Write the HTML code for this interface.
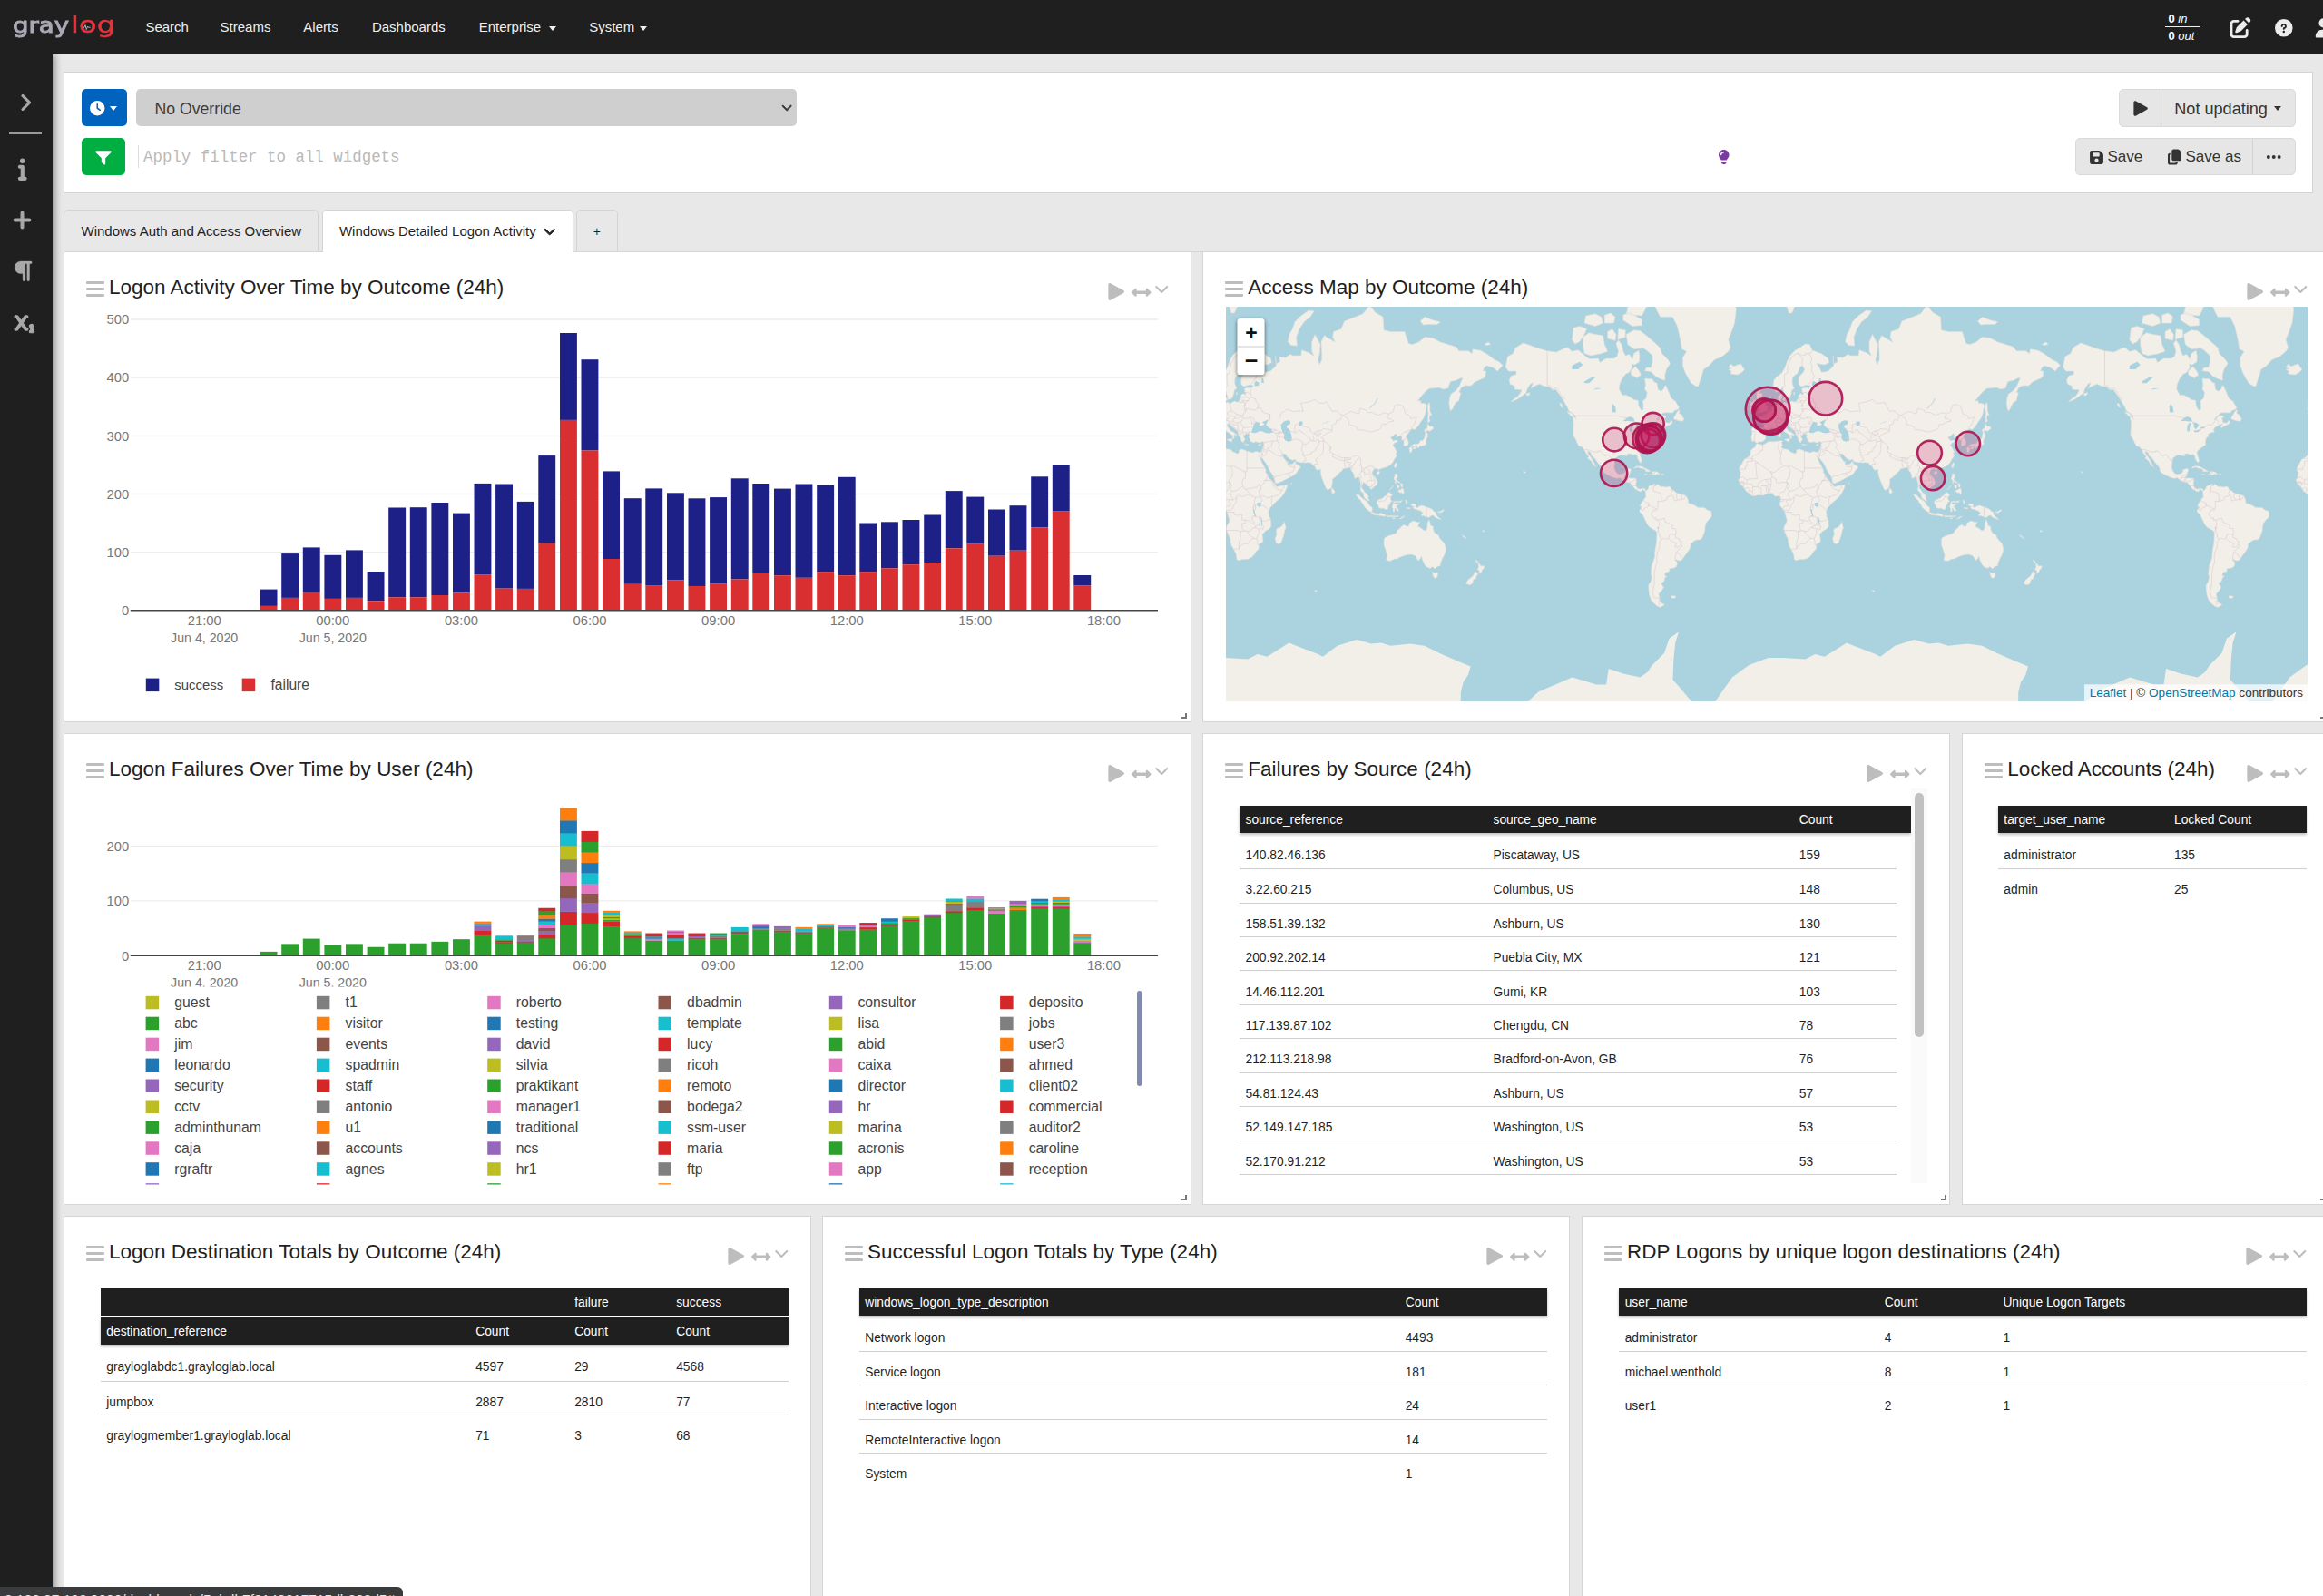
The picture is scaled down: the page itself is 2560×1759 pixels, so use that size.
<!DOCTYPE html><html lang="en"><head><meta charset="utf-8"><title>Windows Detailed Logon Activity - Graylog</title><style>
*{box-sizing:border-box;margin:0;padding:0}
html,body{width:2560px;height:1759px;overflow:hidden;background:#e8e8e8;font-family:"Liberation Sans",sans-serif;color:#1f1f1f}
.abs{position:absolute}
.ic{position:absolute;display:block;overflow:visible}
#nav{position:absolute;left:0;top:0;width:2560px;height:60px;background:#1f1f1f;z-index:30}
#side{position:absolute;left:0;top:60px;width:58px;height:1699px;background:#1f1f1f;z-index:20;box-shadow:3px 0 7px rgba(0,0,0,.36)}
.navl{position:absolute;top:0;height:60px;line-height:60px;color:#f0f0f0;font-size:15px;white-space:nowrap}
.panel{position:absolute;background:#fff;border:1px solid #d4d4d4}
.w{position:absolute;background:#fff;border:1px solid #d6d6d6}
.wt{position:absolute;font-size:22.5px;line-height:30px;white-space:nowrap;color:#1f1f1f}
.tab{position:absolute;top:230.8px;height:47px;line-height:46.5px;font-size:15px;white-space:nowrap;border:1px solid #d4d4d4;border-bottom:none;border-radius:5px 5px 0 0;color:#1f1f1f;background:#e8e8e8}
.th{position:absolute;background:#1f1f1f;color:#fff;font-size:13.8px;white-space:nowrap;box-shadow:0 2px 3px rgba(0,0,0,.25)}
.th span,.tr span{position:absolute;top:0}
.tr{position:absolute;font-size:13.8px;white-space:nowrap;color:#1f1f1f;border-bottom:1px solid #cfcfcf}
.btn{position:absolute;background:#e6e6e6;border:1px solid #d9d9d9;border-radius:5px;color:#2b2b2b;font-size:18px;white-space:nowrap}
svg text{font-family:"Liberation Sans",sans-serif}
</style></head><body>
<div id="nav">
<div class="abs" style="left:14.2px;top:5.2px;height:46px;line-height:46px;font-family:'DejaVu Sans','Liberation Sans',sans-serif;font-size:23px;-webkit-text-stroke:0.9px #a9a9b7;color:#a9a9b7;white-space:nowrap;transform-origin:left center;transform:scaleX(1.2)">gray</div>
<div class="abs" style="left:77.6px;top:4.6px;height:46px;line-height:46px;font-family:'DejaVu Sans','Liberation Sans',sans-serif;font-size:24.5px;-webkit-text-stroke:0.45px #e8323c;letter-spacing:0.2px;color:#e8323c;white-space:nowrap;transform-origin:left center;transform:scaleX(1.3)">log</div>
<svg class="ic" style="left:90.6px;top:25.9px;width:9px;height:8px" viewBox="0 0 9 8"><path d="M0 4.2h2l1-2.6 1.3 5 1.2-3.6.8 1.2h2.4" fill="none" stroke="#b8b8c2" stroke-width="0.9"/></svg>
<div class="navl" style="left:160.4px">Search</div>
<div class="navl" style="left:242.6px">Streams</div>
<div class="navl" style="left:334.3px">Alerts</div>
<div class="navl" style="left:409.9px">Dashboards</div>
<div class="navl" style="left:527.7px">Enterprise</div>
<div class="navl" style="left:649.2px">System</div>
<div class="abs" style="left:604.5px;top:28.5px;width:0;height:0;border-left:4.5px solid transparent;border-right:4.5px solid transparent;border-top:5px solid #f0f0f0"></div>
<div class="abs" style="left:705.0px;top:28.5px;width:0;height:0;border-left:4.5px solid transparent;border-right:4.5px solid transparent;border-top:5px solid #f0f0f0"></div>
<div class="abs" style="left:2386px;top:13px;width:39px;height:34px;color:#fff;font-size:13px;line-height:16px;white-space:nowrap"><div class="abs" style="left:3.5px;top:0"><b>0</b> <i>in</i></div><div class="abs" style="left:0;top:16px;width:39px;height:1.3px;background:#eee"></div><div class="abs" style="left:3.5px;top:18.5px"><b>0</b> <i>out</i></div></div>
<svg class="ic" style="left:2456px;top:18.5px;width:26px;height:23px;" viewBox="0 0 512 512" preserveAspectRatio="xMidYMid meet"><path fill="#ececec" d="M471.6 21.7c-21.9-21.9-57.3-21.9-79.2 0L368 46.1l97.9 97.9 24.4-24.4c21.9-21.9 21.9-57.3 0-79.2zm-299.2 220c-6.1 6.1-10.8 13.6-13.5 21.9l-29.6 88.8c-2.9 8.6-.6 18.1 5.8 24.6s15.9 8.7 24.6 5.8l88.8-29.6c8.2-2.7 15.7-7.4 21.9-13.5L432 177.9 334.1 80zM96 64c-53 0-96 43-96 96v256c0 53 43 96 96 96h256c53 0 96-43 96-96v-96c0-17.7-14.3-32-32-32s-32 14.3-32 32v96c0 17.7-14.3 32-32 32H96c-17.7 0-32-14.3-32-32V160c0-17.7 14.3-32 32-32h96c17.7 0 32-14.3 32-32s-14.3-32-32-32z"/></svg>
<svg class="ic" style="left:2506.6px;top:20.6px;width:19.6px;height:19.6px;" viewBox="0 0 512 512" preserveAspectRatio="xMidYMid meet"><path fill="#ececec" d="M256 512a256 256 0 1 0 0-512 256 256 0 1 0 0 512m0-336c-17.7 0-32 14.3-32 32 0 13.3-10.7 24-24 24s-24-10.7-24-24c0-44.2 35.8-80 80-80s80 35.8 80 80c0 47.2-36 67.2-56 74.5v3.8c0 13.3-10.7 24-24 24s-24-10.7-24-24v-8.1c0-20.5 14.8-35.2 30.1-40.2 6.4-2.1 13.2-5.5 18.2-10.3 4.3-4.2 7.7-10 7.7-19.6 0-17.7-14.3-32-32-32zm-32 192a32 32 0 1 1 64 0 32 32 0 1 1-64 0"/></svg>
<svg class="ic" style="left:2549.5px;top:19.5px;width:21px;height:21.5px;" viewBox="0 0 448 512" preserveAspectRatio="xMidYMid meet"><path fill="#ececec" d="M224 248a120 120 0 1 0 0-240 120 120 0 1 0 0 240m-29.7 56C95.8 304 16 383.8 16 482.3c0 16.4 13.3 29.7 29.7 29.7h356.6c16.4 0 29.7-13.3 29.7-29.7 0-98.5-79.8-178.3-178.3-178.3z"/></svg>
</div>
<div id="side">
<svg class="ic" style="left:21px;top:42.6px;width:13px;height:20px;" viewBox="0 0 320 512" preserveAspectRatio="xMidYMid meet"><path fill="#a8a8a8" stroke="#a8a8a8" stroke-width="22" stroke-linejoin="round" d="M311.1 233.4c12.5 12.5 12.5 32.8 0 45.3l-192 192c-12.5 12.5-32.8 12.5-45.3 0s-12.5-32.8 0-45.3L243.2 256 73.9 86.6c-12.5-12.5-12.5-32.8 0-45.3s32.8-12.5 45.3 0l192 192z"/></svg>
<div class="abs" style="left:9.5px;top:86px;width:36px;height:1.5px;background:#9a9a9a"></div>
<svg class="ic" style="left:20px;top:115.3px;width:9.5px;height:23.3px;" viewBox="0 0 192 512" preserveAspectRatio="xMidYMid meet"><path fill="#a8a8a8" stroke="#a8a8a8" stroke-width="26" stroke-linejoin="round" d="M48 48a48 48 0 1 1 96 0 48 48 0 1 1-96 0M0 192c0-17.7 14.3-32 32-32h64c17.7 0 32 14.3 32 32v256h32c17.7 0 32 14.3 32 32s-14.3 32-32 32H32c-17.7 0-32-14.3-32-32s14.3-32 32-32h32V224H32c-17.7 0-32-14.3-32-32"/></svg>
<svg class="ic" style="left:14px;top:172.4px;width:21px;height:21px;" viewBox="0 0 448 512" preserveAspectRatio="xMidYMid meet"><path fill="#a8a8a8" stroke="#a8a8a8" stroke-width="34" stroke-linejoin="round" d="M256 64c0-17.7-14.3-32-32-32s-32 14.3-32 32v160H32c-17.7 0-32 14.3-32 32s14.3 32 32 32h160v160c0 17.7 14.3 32 32 32s32-14.3 32-32V288h160c17.7 0 32-14.3 32-32s-14.3-32-32-32H256z"/></svg>
<svg class="ic" style="left:15.5px;top:227.6px;width:19.5px;height:21.8px;" viewBox="0 0 448 512" preserveAspectRatio="xMidYMid meet"><path fill="#a8a8a8" stroke="#a8a8a8" stroke-width="8" stroke-linejoin="round" d="M160 0h256c17.7 0 32 14.3 32 32s-14.3 32-32 32h-32v416c0 17.7-14.3 32-32 32s-32-14.3-32-32V64h-48v416c0 17.7-14.3 32-32 32s-32-14.3-32-32V320h-48C71.6 320 0 248.4 0 160S71.6 0 160 0"/></svg>
<svg class="ic" style="left:12.5px;top:284.5px;width:25px;height:21.8px;" viewBox="0 0 576 512" preserveAspectRatio="xMidYMid meet"><path fill="#a8a8a8" stroke="#a8a8a8" stroke-width="26" stroke-linejoin="round" d="M96 64c-17.7 0-32 14.3-32 32s14.3 32 32 32h15.3l89.6 128-89.6 128H96c-17.7 0-32 14.3-32 32s14.3 32 32 32h32c10.4 0 20.2-5.1 26.2-13.6L240 311.8l85.8 122.6c6 8.6 15.8 13.6 26.2 13.6h32c17.7 0 32-14.3 32-32s-14.3-32-32-32h-15.3l-89.6-128 89.6-128H384c17.7 0 32-14.3 32-32s-14.3-32-32-32h-32c-10.4 0-20.2 5.1-26.2 13.6L240 200.2 154.2 77.6c-6-8.5-15.8-13.6-26.2-13.6zm448 256c0-11.1-5.7-21.4-15.2-27.2s-21.2-6.4-31.1-1.4l-32 16c-15.8 7.9-22.2 27.1-14.3 42.9C457 361.5 468.3 368 480 368v80c-17.7 0-32 14.3-32 32s14.3 32 32 32h64c17.7 0 32-14.3 32-32s-14.3-32-32-32z"/></svg>
</div>
<div class="panel" style="left:70px;top:79.3px;width:2479px;height:133.7px"></div>
<div class="abs" style="left:89.5px;top:98px;width:50.5px;height:40.5px;background:#0063be;border-radius:5px"></div>
<svg class="ic" style="left:99px;top:110.5px;width:16.5px;height:16.5px;" viewBox="0 0 512 512" preserveAspectRatio="xMidYMid meet"><path fill="#fff" d="M256 0a256 256 0 1 1 0 512 256 256 0 1 1 0-512m-24 120v136c0 8 4 15.5 10.7 20l96 64c11 7.4 25.9 4.4 33.3-6.7s4.4-25.9-6.7-33.3L280 243.2V120c0-13.3-10.7-24-24-24s-24 10.7-24 24"/></svg>
<div class="abs" style="left:121px;top:116.5px;width:0;height:0;border-left:4.5px solid transparent;border-right:4.5px solid transparent;border-top:5px solid #fff"></div>
<div class="abs" style="left:150px;top:98px;width:728px;height:40.5px;background:#cfcfcf;border-radius:5px;font-size:17.7px;line-height:44.5px;color:#3c3c3c;padding-left:20.4px">No Override</div>
<svg class="ic" style="left:862.2px;top:111.5px;width:10.3px;height:12.5px;" viewBox="0 0 448 512" preserveAspectRatio="xMidYMid meet"><path fill="#3a3a3a" stroke="#3a3a3a" stroke-width="34" stroke-linejoin="round" d="M201.4 406.6c12.5 12.5 32.8 12.5 45.3 0l192-192c12.5-12.5 12.5-32.8 0-45.3s-32.8-12.5-45.3 0L224 338.7 54.6 169.4c-12.5-12.5-32.8-12.5-45.3 0s-12.5 32.8 0 45.3l192 192z"/></svg>
<div class="abs" style="left:89.5px;top:152px;width:48px;height:41px;background:#00ae42;border-radius:5px"></div>
<svg class="ic" style="left:104.5px;top:164px;width:18px;height:17.5px;" viewBox="0 0 512 512" preserveAspectRatio="xMidYMid meet"><path fill="#fff" d="M32 64C19.1 64 7.4 71.8 2.4 83.8s-2.2 25.7 7 34.8L192 301.3V416c0 8.5 3.4 16.6 9.4 22.6l64 64c9.2 9.2 22.9 11.9 34.9 6.9S320 492.9 320 480V301.3l182.6-182.6c9.2-9.2 11.9-22.9 6.9-34.9S492.9 64 480 64z"/></svg>
<div class="abs" style="left:151.6px;top:160px;width:1.2px;height:25px;background:#ddd"></div>
<div class="abs" style="left:158px;top:158px;height:30px;line-height:30px;font-family:'Liberation Mono',monospace;font-size:17.45px;color:#b9b9b9;white-space:nowrap">Apply filter to all widgets</div>
<svg class="ic" style="left:1894px;top:165px;width:11.5px;height:15.5px;" viewBox="0 0 384 512" preserveAspectRatio="xMidYMid meet"><path fill="#7b3aa0" d="M292.9 384c7.3-22.3 21.9-42.5 38.4-59.9C364 289.7 384 243.2 384 192 384 86 298 0 192 0S0 86 0 192c0 51.2 20 97.7 52.7 132.1 16.5 17.4 31.2 37.6 38.4 59.9h201.7zm-4.9 48H96v16c0 44.2 35.8 80 80 80h32c44.2 0 80-35.8 80-80zM184 112c-39.8 0-72 32.2-72 72 0 13.3-10.7 24-24 24s-24-10.7-24-24c0-66.3 53.7-120 120-120 13.3 0 24 10.7 24 24s-10.7 24-24 24"/></svg>
<div class="btn" style="left:2335px;top:98px;width:195px;height:41.5px"></div>
<div class="abs" style="left:2380.5px;top:99px;width:1px;height:39.5px;background:#d2d2d2"></div>
<svg class="ic" style="left:2349.5px;top:109.5px;width:17px;height:19px;" viewBox="0 0 448 512" preserveAspectRatio="xMidYMid meet"><path fill="#333" d="M91.2 36.9c-12.4-6.8-27.4-6.5-39.6.7S32 57.9 32 72v368c0 14.1 7.5 27.2 19.6 34.4s27.2 7.5 39.6.7l336-184c12.8-7 20.8-20.5 20.8-35.1s-8-28.1-20.8-35.1z"/></svg>
<div class="abs" style="left:2396.3px;top:98px;height:41.5px;line-height:44.5px;font-size:18.1px;color:#333;white-space:nowrap">Not updating</div>
<div class="abs" style="left:2505.5px;top:117px;width:0;height:0;border-left:4.5px solid transparent;border-right:4.5px solid transparent;border-top:5px solid #333"></div>
<div class="btn" style="left:2287px;top:152px;width:243px;height:41px"></div>
<div class="abs" style="left:2482px;top:153px;width:1px;height:39px;background:#d2d2d2"></div>
<svg class="ic" style="left:2302.5px;top:164.5px;width:15px;height:17px;" viewBox="0 0 448 512" preserveAspectRatio="xMidYMid meet"><path fill="#333" d="M64 32C28.7 32 0 60.7 0 96v320c0 35.3 28.7 64 64 64h320c35.3 0 64-28.7 64-64V173.3c0-17-6.7-33.3-18.7-45.3L352 50.7c-12-12-28.3-18.7-45.3-18.7zm32 96c0-17.7 14.3-32 32-32h160c17.7 0 32 14.3 32 32v64c0 17.7-14.3 32-32 32H128c-17.7 0-32-14.3-32-32zm128 160a64 64 0 1 1 0 128 64 64 0 1 1 0-128"/></svg>
<div class="abs" style="left:2322.5px;top:152px;height:41px;line-height:41.5px;font-size:17px;color:#333;white-space:nowrap">Save</div>
<svg class="ic" style="left:2389px;top:163.5px;width:15px;height:18px;" viewBox="0 0 448 512" preserveAspectRatio="xMidYMid meet"><path fill="#333" d="M192 0c-35.3 0-64 28.7-64 64v256c0 35.3 28.7 64 64 64h192c35.3 0 64-28.7 64-64V119.4c0-17.4-7.1-34.1-19.7-46.2l-57.7-55.4A64.1 64.1 0 0 0 326.3 0zM64 128c-35.3 0-64 28.7-64 64v256c0 35.3 28.7 64 64 64h192c35.3 0 64-28.7 64-64v-16h-64v16H64V192h16v-64z"/></svg>
<div class="abs" style="left:2408.5px;top:152px;height:41px;line-height:41.5px;font-size:17px;color:#333;white-space:nowrap">Save as</div>
<svg class="ic" style="left:2496.5px;top:163.5px;width:17.5px;height:18px;" viewBox="0 0 448 512" preserveAspectRatio="xMidYMid meet"><path fill="#333" d="M0 256a56 56 0 1 1 112 0 56 56 0 1 1-112 0m168 0a56 56 0 1 1 112 0 56 56 0 1 1-112 0m224-56a56 56 0 1 1 0 112 56 56 0 1 1 0-112"/></svg>
<div class="abs" style="left:70.5px;top:277px;width:2490px;height:1px;background:#d4d4d4"></div>
<div class="tab" style="left:70px;width:281px;padding-left:18.5px">Windows Auth and Access Overview</div>
<div class="tab" style="left:354.5px;width:277px;padding-left:18.4px;background:#fff;height:47.2px;z-index:5">Windows Detailed Logon Activity</div>
<svg class="ic" style="left:600.3px;top:247.8px;width:11.5px;height:13.5px;z-index:6;" viewBox="0 0 448 512" preserveAspectRatio="xMidYMid meet"><path fill="#222" stroke="#222" stroke-width="38" stroke-linejoin="round" d="M201.4 406.6c12.5 12.5 32.8 12.5 45.3 0l192-192c12.5-12.5 12.5-32.8 0-45.3s-32.8-12.5-45.3 0L224 338.7 54.6 169.4c-12.5-12.5-32.8-12.5-45.3 0s-12.5 32.8 0 45.3l192 192z"/></svg>
<div class="tab" style="left:634.5px;width:46.5px;text-align:center;font-size:14px">+</div>
<div class="w" style="left:70px;top:276.8px;width:1243px;height:519.2px"></div>
<div class="abs" style="left:95px;top:309.8px;width:19.5px;height:2.8px;background:#bdbdbd;border-radius:1px"></div>
<div class="abs" style="left:95px;top:316.8px;width:19.5px;height:2.8px;background:#bdbdbd;border-radius:1px"></div>
<div class="abs" style="left:95px;top:323.8px;width:19.5px;height:2.8px;background:#bdbdbd;border-radius:1px"></div>
<div class="wt" style="left:120px;top:302.0px">Logon Activity Over Time by Outcome (24h)</div>
<svg class="ic" style="left:1219.5px;top:310.1px;width:19px;height:23px;" viewBox="0 0 448 512" preserveAspectRatio="xMidYMid meet"><path fill="#bdbdbd" d="M91.2 36.9c-12.4-6.8-27.4-6.5-39.6.7S32 57.9 32 72v368c0 14.1 7.5 27.2 19.6 34.4s27.2 7.5 39.6.7l336-184c12.8-7 20.8-20.5 20.8-35.1s-8-28.1-20.8-35.1z"/></svg>
<svg class="ic" style="left:1246.6px;top:311.0px;width:21.5px;height:22.5px;" viewBox="0 0 512 512" preserveAspectRatio="xMidYMid meet"><path fill="#bdbdbd" d="M377.941 169.941V216H134.059v-46.059c0-21.382-25.851-32.09-40.971-16.971L7.029 239.029c-9.373 9.373-9.373 24.568 0 33.941l86.059 86.059c15.119 15.119 40.971 4.411 40.971-16.971V296h243.882v46.059c0 21.382 25.851 32.09 40.971 16.971l86.059-86.059c9.373-9.373 9.373-24.568 0-33.941l-86.059-86.059c-15.119-15.12-40.971-4.412-40.971 16.97z"/></svg>
<svg class="ic" style="left:1272.5px;top:310.1px;width:14.5px;height:16px;" viewBox="0 0 448 512" preserveAspectRatio="xMidYMid meet"><path fill="#bdbdbd" d="M201.4 406.6c12.5 12.5 32.8 12.5 45.3 0l192-192c12.5-12.5 12.5-32.8 0-45.3s-32.8-12.5-45.3 0L224 338.7 54.6 169.4c-12.5-12.5-32.8-12.5-45.3 0s-12.5 32.8 0 45.3l192 192z"/></svg>
<div class="abs" style="left:1302px;top:785.5px;width:6px;height:6px;border-right:2px solid #777;border-bottom:2px solid #777"></div>
<div class="w" style="left:1325.3px;top:276.8px;width:1243px;height:519.2px"></div>
<div class="abs" style="left:1350.3px;top:309.8px;width:19.5px;height:2.8px;background:#bdbdbd;border-radius:1px"></div>
<div class="abs" style="left:1350.3px;top:316.8px;width:19.5px;height:2.8px;background:#bdbdbd;border-radius:1px"></div>
<div class="abs" style="left:1350.3px;top:323.8px;width:19.5px;height:2.8px;background:#bdbdbd;border-radius:1px"></div>
<div class="wt" style="left:1375.3px;top:302.0px">Access Map by Outcome (24h)</div>
<svg class="ic" style="left:2474.8px;top:310.1px;width:19px;height:23px;" viewBox="0 0 448 512" preserveAspectRatio="xMidYMid meet"><path fill="#bdbdbd" d="M91.2 36.9c-12.4-6.8-27.4-6.5-39.6.7S32 57.9 32 72v368c0 14.1 7.5 27.2 19.6 34.4s27.2 7.5 39.6.7l336-184c12.8-7 20.8-20.5 20.8-35.1s-8-28.1-20.8-35.1z"/></svg>
<svg class="ic" style="left:2501.9px;top:311.0px;width:21.5px;height:22.5px;" viewBox="0 0 512 512" preserveAspectRatio="xMidYMid meet"><path fill="#bdbdbd" d="M377.941 169.941V216H134.059v-46.059c0-21.382-25.851-32.09-40.971-16.971L7.029 239.029c-9.373 9.373-9.373 24.568 0 33.941l86.059 86.059c15.119 15.119 40.971 4.411 40.971-16.971V296h243.882v46.059c0 21.382 25.851 32.09 40.971 16.971l86.059-86.059c9.373-9.373 9.373-24.568 0-33.941l-86.059-86.059c-15.119-15.12-40.971-4.412-40.971 16.97z"/></svg>
<svg class="ic" style="left:2527.8px;top:310.1px;width:14.5px;height:16px;" viewBox="0 0 448 512" preserveAspectRatio="xMidYMid meet"><path fill="#bdbdbd" d="M201.4 406.6c12.5 12.5 32.8 12.5 45.3 0l192-192c12.5-12.5 12.5-32.8 0-45.3s-32.8-12.5-45.3 0L224 338.7 54.6 169.4c-12.5-12.5-32.8-12.5-45.3 0s-12.5 32.8 0 45.3l192 192z"/></svg>
<div class="abs" style="left:2557.3px;top:785.5px;width:6px;height:6px;border-right:2px solid #777;border-bottom:2px solid #777"></div>
<div class="w" style="left:70px;top:808px;width:1243px;height:519.8px"></div>
<div class="abs" style="left:95px;top:841px;width:19.5px;height:2.8px;background:#bdbdbd;border-radius:1px"></div>
<div class="abs" style="left:95px;top:848px;width:19.5px;height:2.8px;background:#bdbdbd;border-radius:1px"></div>
<div class="abs" style="left:95px;top:855px;width:19.5px;height:2.8px;background:#bdbdbd;border-radius:1px"></div>
<div class="wt" style="left:120px;top:833.2px">Logon Failures Over Time by User (24h)</div>
<svg class="ic" style="left:1219.5px;top:841.3px;width:19px;height:23px;" viewBox="0 0 448 512" preserveAspectRatio="xMidYMid meet"><path fill="#bdbdbd" d="M91.2 36.9c-12.4-6.8-27.4-6.5-39.6.7S32 57.9 32 72v368c0 14.1 7.5 27.2 19.6 34.4s27.2 7.5 39.6.7l336-184c12.8-7 20.8-20.5 20.8-35.1s-8-28.1-20.8-35.1z"/></svg>
<svg class="ic" style="left:1246.6px;top:842.2px;width:21.5px;height:22.5px;" viewBox="0 0 512 512" preserveAspectRatio="xMidYMid meet"><path fill="#bdbdbd" d="M377.941 169.941V216H134.059v-46.059c0-21.382-25.851-32.09-40.971-16.971L7.029 239.029c-9.373 9.373-9.373 24.568 0 33.941l86.059 86.059c15.119 15.119 40.971 4.411 40.971-16.971V296h243.882v46.059c0 21.382 25.851 32.09 40.971 16.971l86.059-86.059c9.373-9.373 9.373-24.568 0-33.941l-86.059-86.059c-15.119-15.12-40.971-4.412-40.971 16.97z"/></svg>
<svg class="ic" style="left:1272.5px;top:841.3px;width:14.5px;height:16px;" viewBox="0 0 448 512" preserveAspectRatio="xMidYMid meet"><path fill="#bdbdbd" d="M201.4 406.6c12.5 12.5 32.8 12.5 45.3 0l192-192c12.5-12.5 12.5-32.8 0-45.3s-32.8-12.5-45.3 0L224 338.7 54.6 169.4c-12.5-12.5-32.8-12.5-45.3 0s-12.5 32.8 0 45.3l192 192z"/></svg>
<div class="abs" style="left:1302px;top:1317.3px;width:6px;height:6px;border-right:2px solid #777;border-bottom:2px solid #777"></div>
<div class="w" style="left:1325.3px;top:808px;width:824.2px;height:519.8px"></div>
<div class="abs" style="left:1350.3px;top:841px;width:19.5px;height:2.8px;background:#bdbdbd;border-radius:1px"></div>
<div class="abs" style="left:1350.3px;top:848px;width:19.5px;height:2.8px;background:#bdbdbd;border-radius:1px"></div>
<div class="abs" style="left:1350.3px;top:855px;width:19.5px;height:2.8px;background:#bdbdbd;border-radius:1px"></div>
<div class="wt" style="left:1375.3px;top:833.2px">Failures by Source (24h)</div>
<svg class="ic" style="left:2056.0px;top:841.3px;width:19px;height:23px;" viewBox="0 0 448 512" preserveAspectRatio="xMidYMid meet"><path fill="#bdbdbd" d="M91.2 36.9c-12.4-6.8-27.4-6.5-39.6.7S32 57.9 32 72v368c0 14.1 7.5 27.2 19.6 34.4s27.2 7.5 39.6.7l336-184c12.8-7 20.8-20.5 20.8-35.1s-8-28.1-20.8-35.1z"/></svg>
<svg class="ic" style="left:2083.1px;top:842.2px;width:21.5px;height:22.5px;" viewBox="0 0 512 512" preserveAspectRatio="xMidYMid meet"><path fill="#bdbdbd" d="M377.941 169.941V216H134.059v-46.059c0-21.382-25.851-32.09-40.971-16.971L7.029 239.029c-9.373 9.373-9.373 24.568 0 33.941l86.059 86.059c15.119 15.119 40.971 4.411 40.971-16.971V296h243.882v46.059c0 21.382 25.851 32.09 40.971 16.971l86.059-86.059c9.373-9.373 9.373-24.568 0-33.941l-86.059-86.059c-15.119-15.12-40.971-4.412-40.971 16.97z"/></svg>
<svg class="ic" style="left:2109.0px;top:841.3px;width:14.5px;height:16px;" viewBox="0 0 448 512" preserveAspectRatio="xMidYMid meet"><path fill="#bdbdbd" d="M201.4 406.6c12.5 12.5 32.8 12.5 45.3 0l192-192c12.5-12.5 12.5-32.8 0-45.3s-32.8-12.5-45.3 0L224 338.7 54.6 169.4c-12.5-12.5-32.8-12.5-45.3 0s-12.5 32.8 0 45.3l192 192z"/></svg>
<div class="abs" style="left:2138.5px;top:1317.3px;width:6px;height:6px;border-right:2px solid #777;border-bottom:2px solid #777"></div>
<div class="w" style="left:2162.2px;top:808px;width:406px;height:519.8px"></div>
<div class="abs" style="left:2187.2px;top:841px;width:19.5px;height:2.8px;background:#bdbdbd;border-radius:1px"></div>
<div class="abs" style="left:2187.2px;top:848px;width:19.5px;height:2.8px;background:#bdbdbd;border-radius:1px"></div>
<div class="abs" style="left:2187.2px;top:855px;width:19.5px;height:2.8px;background:#bdbdbd;border-radius:1px"></div>
<div class="wt" style="left:2212.2px;top:833.2px">Locked Accounts (24h)</div>
<svg class="ic" style="left:2474.7px;top:841.3px;width:19px;height:23px;" viewBox="0 0 448 512" preserveAspectRatio="xMidYMid meet"><path fill="#bdbdbd" d="M91.2 36.9c-12.4-6.8-27.4-6.5-39.6.7S32 57.9 32 72v368c0 14.1 7.5 27.2 19.6 34.4s27.2 7.5 39.6.7l336-184c12.8-7 20.8-20.5 20.8-35.1s-8-28.1-20.8-35.1z"/></svg>
<svg class="ic" style="left:2501.7999999999997px;top:842.2px;width:21.5px;height:22.5px;" viewBox="0 0 512 512" preserveAspectRatio="xMidYMid meet"><path fill="#bdbdbd" d="M377.941 169.941V216H134.059v-46.059c0-21.382-25.851-32.09-40.971-16.971L7.029 239.029c-9.373 9.373-9.373 24.568 0 33.941l86.059 86.059c15.119 15.119 40.971 4.411 40.971-16.971V296h243.882v46.059c0 21.382 25.851 32.09 40.971 16.971l86.059-86.059c9.373-9.373 9.373-24.568 0-33.941l-86.059-86.059c-15.119-15.12-40.971-4.412-40.971 16.97z"/></svg>
<svg class="ic" style="left:2527.7px;top:841.3px;width:14.5px;height:16px;" viewBox="0 0 448 512" preserveAspectRatio="xMidYMid meet"><path fill="#bdbdbd" d="M201.4 406.6c12.5 12.5 32.8 12.5 45.3 0l192-192c12.5-12.5 12.5-32.8 0-45.3s-32.8-12.5-45.3 0L224 338.7 54.6 169.4c-12.5-12.5-32.8-12.5-45.3 0s-12.5 32.8 0 45.3l192 192z"/></svg>
<div class="abs" style="left:2557.2px;top:1317.3px;width:6px;height:6px;border-right:2px solid #777;border-bottom:2px solid #777"></div>
<div class="w" style="left:70px;top:1339.9px;width:824px;height:430px"></div>
<div class="abs" style="left:95px;top:1372.9px;width:19.5px;height:2.8px;background:#bdbdbd;border-radius:1px"></div>
<div class="abs" style="left:95px;top:1379.9px;width:19.5px;height:2.8px;background:#bdbdbd;border-radius:1px"></div>
<div class="abs" style="left:95px;top:1386.9px;width:19.5px;height:2.8px;background:#bdbdbd;border-radius:1px"></div>
<div class="wt" style="left:120px;top:1365.1000000000001px">Logon Destination Totals by Outcome (24h)</div>
<svg class="ic" style="left:800.5px;top:1373.2px;width:19px;height:23px;" viewBox="0 0 448 512" preserveAspectRatio="xMidYMid meet"><path fill="#bdbdbd" d="M91.2 36.9c-12.4-6.8-27.4-6.5-39.6.7S32 57.9 32 72v368c0 14.1 7.5 27.2 19.6 34.4s27.2 7.5 39.6.7l336-184c12.8-7 20.8-20.5 20.8-35.1s-8-28.1-20.8-35.1z"/></svg>
<svg class="ic" style="left:827.6px;top:1374.1000000000001px;width:21.5px;height:22.5px;" viewBox="0 0 512 512" preserveAspectRatio="xMidYMid meet"><path fill="#bdbdbd" d="M377.941 169.941V216H134.059v-46.059c0-21.382-25.851-32.09-40.971-16.971L7.029 239.029c-9.373 9.373-9.373 24.568 0 33.941l86.059 86.059c15.119 15.119 40.971 4.411 40.971-16.971V296h243.882v46.059c0 21.382 25.851 32.09 40.971 16.971l86.059-86.059c9.373-9.373 9.373-24.568 0-33.941l-86.059-86.059c-15.119-15.12-40.971-4.412-40.971 16.97z"/></svg>
<svg class="ic" style="left:853.5px;top:1373.2px;width:14.5px;height:16px;" viewBox="0 0 448 512" preserveAspectRatio="xMidYMid meet"><path fill="#bdbdbd" d="M201.4 406.6c12.5 12.5 32.8 12.5 45.3 0l192-192c12.5-12.5 12.5-32.8 0-45.3s-32.8-12.5-45.3 0L224 338.7 54.6 169.4c-12.5-12.5-32.8-12.5-45.3 0s-12.5 32.8 0 45.3l192 192z"/></svg>
<div class="abs" style="left:883px;top:1759.4px;width:6px;height:6px;border-right:2px solid #777;border-bottom:2px solid #777"></div>
<div class="w" style="left:906px;top:1339.9px;width:824px;height:430px"></div>
<div class="abs" style="left:931px;top:1372.9px;width:19.5px;height:2.8px;background:#bdbdbd;border-radius:1px"></div>
<div class="abs" style="left:931px;top:1379.9px;width:19.5px;height:2.8px;background:#bdbdbd;border-radius:1px"></div>
<div class="abs" style="left:931px;top:1386.9px;width:19.5px;height:2.8px;background:#bdbdbd;border-radius:1px"></div>
<div class="wt" style="left:956px;top:1365.1000000000001px">Successful Logon Totals by Type (24h)</div>
<svg class="ic" style="left:1636.5px;top:1373.2px;width:19px;height:23px;" viewBox="0 0 448 512" preserveAspectRatio="xMidYMid meet"><path fill="#bdbdbd" d="M91.2 36.9c-12.4-6.8-27.4-6.5-39.6.7S32 57.9 32 72v368c0 14.1 7.5 27.2 19.6 34.4s27.2 7.5 39.6.7l336-184c12.8-7 20.8-20.5 20.8-35.1s-8-28.1-20.8-35.1z"/></svg>
<svg class="ic" style="left:1663.6px;top:1374.1000000000001px;width:21.5px;height:22.5px;" viewBox="0 0 512 512" preserveAspectRatio="xMidYMid meet"><path fill="#bdbdbd" d="M377.941 169.941V216H134.059v-46.059c0-21.382-25.851-32.09-40.971-16.971L7.029 239.029c-9.373 9.373-9.373 24.568 0 33.941l86.059 86.059c15.119 15.119 40.971 4.411 40.971-16.971V296h243.882v46.059c0 21.382 25.851 32.09 40.971 16.971l86.059-86.059c9.373-9.373 9.373-24.568 0-33.941l-86.059-86.059c-15.119-15.12-40.971-4.412-40.971 16.97z"/></svg>
<svg class="ic" style="left:1689.5px;top:1373.2px;width:14.5px;height:16px;" viewBox="0 0 448 512" preserveAspectRatio="xMidYMid meet"><path fill="#bdbdbd" d="M201.4 406.6c12.5 12.5 32.8 12.5 45.3 0l192-192c12.5-12.5 12.5-32.8 0-45.3s-32.8-12.5-45.3 0L224 338.7 54.6 169.4c-12.5-12.5-32.8-12.5-45.3 0s-12.5 32.8 0 45.3l192 192z"/></svg>
<div class="abs" style="left:1719px;top:1759.4px;width:6px;height:6px;border-right:2px solid #777;border-bottom:2px solid #777"></div>
<div class="w" style="left:1743px;top:1339.9px;width:824px;height:430px"></div>
<div class="abs" style="left:1768px;top:1372.9px;width:19.5px;height:2.8px;background:#bdbdbd;border-radius:1px"></div>
<div class="abs" style="left:1768px;top:1379.9px;width:19.5px;height:2.8px;background:#bdbdbd;border-radius:1px"></div>
<div class="abs" style="left:1768px;top:1386.9px;width:19.5px;height:2.8px;background:#bdbdbd;border-radius:1px"></div>
<div class="wt" style="left:1793px;top:1365.1000000000001px">RDP Logons by unique logon destinations (24h)</div>
<svg class="ic" style="left:2473.5px;top:1373.2px;width:19px;height:23px;" viewBox="0 0 448 512" preserveAspectRatio="xMidYMid meet"><path fill="#bdbdbd" d="M91.2 36.9c-12.4-6.8-27.4-6.5-39.6.7S32 57.9 32 72v368c0 14.1 7.5 27.2 19.6 34.4s27.2 7.5 39.6.7l336-184c12.8-7 20.8-20.5 20.8-35.1s-8-28.1-20.8-35.1z"/></svg>
<svg class="ic" style="left:2500.6px;top:1374.1000000000001px;width:21.5px;height:22.5px;" viewBox="0 0 512 512" preserveAspectRatio="xMidYMid meet"><path fill="#bdbdbd" d="M377.941 169.941V216H134.059v-46.059c0-21.382-25.851-32.09-40.971-16.971L7.029 239.029c-9.373 9.373-9.373 24.568 0 33.941l86.059 86.059c15.119 15.119 40.971 4.411 40.971-16.971V296h243.882v46.059c0 21.382 25.851 32.09 40.971 16.971l86.059-86.059c9.373-9.373 9.373-24.568 0-33.941l-86.059-86.059c-15.119-15.12-40.971-4.412-40.971 16.97z"/></svg>
<svg class="ic" style="left:2526.5px;top:1373.2px;width:14.5px;height:16px;" viewBox="0 0 448 512" preserveAspectRatio="xMidYMid meet"><path fill="#bdbdbd" d="M201.4 406.6c12.5 12.5 32.8 12.5 45.3 0l192-192c12.5-12.5 12.5-32.8 0-45.3s-32.8-12.5-45.3 0L224 338.7 54.6 169.4c-12.5-12.5-32.8-12.5-45.3 0s-12.5 32.8 0 45.3l192 192z"/></svg>
<div class="abs" style="left:2556px;top:1759.4px;width:6px;height:6px;border-right:2px solid #777;border-bottom:2px solid #777"></div>
<svg class="abs" style="left:71px;top:330px;width:1240px;height:460px" viewBox="71 330 1240 460"><line x1="143.8" x2="1276" y1="608.6" y2="608.6" stroke="#ededed" stroke-width="1.3"/><line x1="143.8" x2="1276" y1="544.4" y2="544.4" stroke="#ededed" stroke-width="1.3"/><line x1="143.8" x2="1276" y1="480.3" y2="480.3" stroke="#ededed" stroke-width="1.3"/><line x1="143.8" x2="1276" y1="416.1" y2="416.1" stroke="#ededed" stroke-width="1.3"/><line x1="143.8" x2="1276" y1="352.0" y2="352.0" stroke="#ededed" stroke-width="1.3"/><text x="142.3" y="678.0" text-anchor="end" font-size="14.8" fill="#777">0</text><text x="142.3" y="613.9" text-anchor="end" font-size="14.8" fill="#777">100</text><text x="142.3" y="549.7" text-anchor="end" font-size="14.8" fill="#777">200</text><text x="142.3" y="485.6" text-anchor="end" font-size="14.8" fill="#777">300</text><text x="142.3" y="421.4" text-anchor="end" font-size="14.8" fill="#777">400</text><text x="142.3" y="357.3" text-anchor="end" font-size="14.8" fill="#777">500</text><rect x="286.6" y="649.6" width="18.9" height="18.3" fill="#1c2087"/><rect x="286.6" y="667.9" width="18.9" height="4.8" fill="#d92f30"/><rect x="310.2" y="610.1" width="18.9" height="48.8" fill="#1c2087"/><rect x="310.2" y="658.9" width="18.9" height="13.8" fill="#d92f30"/><rect x="333.8" y="603.4" width="18.9" height="49.4" fill="#1c2087"/><rect x="333.8" y="652.8" width="18.9" height="19.9" fill="#d92f30"/><rect x="357.4" y="611.8" width="18.9" height="48.1" fill="#1c2087"/><rect x="357.4" y="659.9" width="18.9" height="12.8" fill="#d92f30"/><rect x="381.0" y="606.4" width="18.9" height="52.5" fill="#1c2087"/><rect x="381.0" y="658.9" width="18.9" height="13.8" fill="#d92f30"/><rect x="404.6" y="630.0" width="18.9" height="32.4" fill="#1c2087"/><rect x="404.6" y="662.4" width="18.9" height="10.3" fill="#d92f30"/><rect x="428.2" y="559.5" width="18.9" height="98.8" fill="#1c2087"/><rect x="428.2" y="658.3" width="18.9" height="14.4" fill="#d92f30"/><rect x="451.8" y="559.2" width="18.9" height="99.1" fill="#1c2087"/><rect x="451.8" y="658.3" width="18.9" height="14.4" fill="#d92f30"/><rect x="475.4" y="554.0" width="18.9" height="102.0" fill="#1c2087"/><rect x="475.4" y="656.0" width="18.9" height="16.7" fill="#d92f30"/><rect x="499.0" y="565.6" width="18.9" height="87.9" fill="#1c2087"/><rect x="499.0" y="653.5" width="18.9" height="19.2" fill="#d92f30"/><rect x="522.5" y="532.9" width="18.9" height="100.7" fill="#1c2087"/><rect x="522.5" y="633.6" width="18.9" height="39.1" fill="#d92f30"/><rect x="546.1" y="533.5" width="18.9" height="115.1" fill="#1c2087"/><rect x="546.1" y="648.6" width="18.9" height="24.1" fill="#d92f30"/><rect x="569.8" y="552.9" width="18.9" height="96.0" fill="#1c2087"/><rect x="569.8" y="649.0" width="18.9" height="23.7" fill="#d92f30"/><rect x="593.3" y="502.1" width="18.9" height="96.4" fill="#1c2087"/><rect x="593.3" y="598.5" width="18.9" height="74.2" fill="#d92f30"/><rect x="617.0" y="367.0" width="18.9" height="95.9" fill="#1c2087"/><rect x="617.0" y="462.9" width="18.9" height="209.8" fill="#d92f30"/><rect x="640.5" y="396.2" width="18.9" height="100.3" fill="#1c2087"/><rect x="640.5" y="496.5" width="18.9" height="176.2" fill="#d92f30"/><rect x="664.1" y="519.4" width="18.9" height="96.6" fill="#1c2087"/><rect x="664.1" y="616.0" width="18.9" height="56.7" fill="#d92f30"/><rect x="687.8" y="549.2" width="18.9" height="94.6" fill="#1c2087"/><rect x="687.8" y="643.8" width="18.9" height="28.9" fill="#d92f30"/><rect x="711.3" y="538.4" width="18.9" height="106.7" fill="#1c2087"/><rect x="711.3" y="645.1" width="18.9" height="27.6" fill="#d92f30"/><rect x="735.0" y="543.3" width="18.9" height="96.2" fill="#1c2087"/><rect x="735.0" y="639.5" width="18.9" height="33.2" fill="#d92f30"/><rect x="758.5" y="549.3" width="18.9" height="96.7" fill="#1c2087"/><rect x="758.5" y="645.9" width="18.9" height="26.8" fill="#d92f30"/><rect x="782.1" y="548.1" width="18.9" height="95.4" fill="#1c2087"/><rect x="782.1" y="643.4" width="18.9" height="29.3" fill="#d92f30"/><rect x="805.8" y="527.3" width="18.9" height="111.2" fill="#1c2087"/><rect x="805.8" y="638.5" width="18.9" height="34.2" fill="#d92f30"/><rect x="829.3" y="533.0" width="18.9" height="98.2" fill="#1c2087"/><rect x="829.3" y="631.3" width="18.9" height="41.4" fill="#d92f30"/><rect x="853.0" y="538.6" width="18.9" height="95.6" fill="#1c2087"/><rect x="853.0" y="634.2" width="18.9" height="38.5" fill="#d92f30"/><rect x="876.5" y="533.5" width="18.9" height="103.3" fill="#1c2087"/><rect x="876.5" y="636.8" width="18.9" height="35.9" fill="#d92f30"/><rect x="900.2" y="534.8" width="18.9" height="95.5" fill="#1c2087"/><rect x="900.2" y="630.2" width="18.9" height="42.5" fill="#d92f30"/><rect x="923.8" y="525.8" width="18.9" height="108.4" fill="#1c2087"/><rect x="923.8" y="634.2" width="18.9" height="38.5" fill="#d92f30"/><rect x="947.3" y="576.5" width="18.9" height="53.8" fill="#1c2087"/><rect x="947.3" y="630.2" width="18.9" height="42.5" fill="#d92f30"/><rect x="971.0" y="575.3" width="18.9" height="51.0" fill="#1c2087"/><rect x="971.0" y="626.3" width="18.9" height="46.4" fill="#d92f30"/><rect x="994.5" y="573.0" width="18.9" height="49.2" fill="#1c2087"/><rect x="994.5" y="622.2" width="18.9" height="50.5" fill="#d92f30"/><rect x="1018.2" y="567.5" width="18.9" height="52.7" fill="#1c2087"/><rect x="1018.2" y="620.2" width="18.9" height="52.5" fill="#d92f30"/><rect x="1041.8" y="541.1" width="18.9" height="63.2" fill="#1c2087"/><rect x="1041.8" y="604.3" width="18.9" height="68.4" fill="#d92f30"/><rect x="1065.3" y="547.6" width="18.9" height="52.0" fill="#1c2087"/><rect x="1065.3" y="599.6" width="18.9" height="73.1" fill="#d92f30"/><rect x="1089.0" y="561.5" width="18.9" height="51.2" fill="#1c2087"/><rect x="1089.0" y="612.7" width="18.9" height="60.0" fill="#d92f30"/><rect x="1112.5" y="557.2" width="18.9" height="49.5" fill="#1c2087"/><rect x="1112.5" y="606.8" width="18.9" height="65.9" fill="#d92f30"/><rect x="1136.2" y="525.3" width="18.9" height="56.0" fill="#1c2087"/><rect x="1136.2" y="581.3" width="18.9" height="91.4" fill="#d92f30"/><rect x="1159.8" y="512.3" width="18.9" height="51.3" fill="#1c2087"/><rect x="1159.8" y="563.6" width="18.9" height="109.1" fill="#d92f30"/><rect x="1183.3" y="634.0" width="18.9" height="11.3" fill="#1c2087"/><rect x="1183.3" y="645.2" width="18.9" height="27.5" fill="#d92f30"/><line x1="143.8" x2="1276" y1="672.7" y2="672.7" stroke="#444" stroke-width="1.6"/><text x="225.2" y="688.8" text-anchor="middle" font-size="14.8" fill="#777">21:00</text><text x="225.2" y="707.5" text-anchor="middle" font-size="14.2" fill="#777">Jun 4, 2020</text><text x="366.8" y="688.8" text-anchor="middle" font-size="14.8" fill="#777">00:00</text><text x="366.8" y="707.5" text-anchor="middle" font-size="14.2" fill="#777">Jun 5, 2020</text><text x="508.4" y="688.8" text-anchor="middle" font-size="14.8" fill="#777">03:00</text><text x="650.0" y="688.8" text-anchor="middle" font-size="14.8" fill="#777">06:00</text><text x="791.6" y="688.8" text-anchor="middle" font-size="14.8" fill="#777">09:00</text><text x="933.2" y="688.8" text-anchor="middle" font-size="14.8" fill="#777">12:00</text><text x="1074.8" y="688.8" text-anchor="middle" font-size="14.8" fill="#777">15:00</text><text x="1216.4" y="688.8" text-anchor="middle" font-size="14.8" fill="#777">18:00</text><rect x="160.8" y="747.6" width="14.5" height="14.5" fill="#1c2087"/><text x="192.3" y="760.2" font-size="14.9" fill="#444">success</text><rect x="266.7" y="747.6" width="14.5" height="14.5" fill="#d92f30"/><text x="298.5" y="760.2" font-size="15.6" fill="#444">failure</text></svg>
<svg class="abs" style="left:71px;top:860px;width:1240px;height:460px" viewBox="71 860 1240 460"><defs><clipPath id="c2x"><rect x="71" y="1055" width="1240" height="32.6"/></clipPath><clipPath id="c2l"><rect x="71" y="1090" width="1240" height="215.5"/></clipPath></defs><line x1="143.8" x2="1276" y1="992.9" y2="992.9" stroke="#ededed" stroke-width="1.3"/><line x1="143.8" x2="1276" y1="932.5" y2="932.5" stroke="#ededed" stroke-width="1.3"/><text x="142.3" y="1058.6" text-anchor="end" font-size="14.8" fill="#777">0</text><text x="142.3" y="998.2" text-anchor="end" font-size="14.8" fill="#777">100</text><text x="142.3" y="937.8" text-anchor="end" font-size="14.8" fill="#777">200</text><rect x="286.6" y="1048.89" width="18.9" height="4.71" fill="#2ca02c"/><rect x="310.2" y="1040.37" width="18.9" height="13.23" fill="#2ca02c"/><rect x="333.8" y="1034.58" width="18.9" height="19.02" fill="#2ca02c"/><rect x="357.4" y="1041.40" width="18.9" height="12.20" fill="#2ca02c"/><rect x="381.0" y="1040.37" width="18.9" height="13.23" fill="#2ca02c"/><rect x="404.6" y="1043.76" width="18.9" height="9.84" fill="#2ca02c"/><rect x="428.2" y="1039.71" width="18.9" height="13.89" fill="#2ca02c"/><rect x="451.8" y="1039.71" width="18.9" height="13.89" fill="#2ca02c"/><rect x="475.4" y="1037.84" width="18.9" height="15.76" fill="#2ca02c"/><rect x="499.0" y="1035.18" width="18.9" height="18.42" fill="#2ca02c"/><rect x="522.5" y="1031.31" width="18.9" height="22.29" fill="#2ca02c"/><rect x="522.5" y="1025.70" width="18.9" height="5.92" fill="#d62728"/><rect x="522.5" y="1020.08" width="18.9" height="5.92" fill="#9467bd"/><rect x="522.5" y="1018.57" width="18.9" height="1.81" fill="#17becf"/><rect x="522.5" y="1017.36" width="18.9" height="1.51" fill="#7f7f7f"/><rect x="522.5" y="1015.61" width="18.9" height="2.05" fill="#ff7f0e"/><rect x="546.1" y="1039.77" width="18.9" height="13.83" fill="#2ca02c"/><rect x="546.1" y="1038.20" width="18.9" height="1.87" fill="#8c564b"/><rect x="546.1" y="1036.51" width="18.9" height="1.99" fill="#d62728"/><rect x="546.1" y="1035.18" width="18.9" height="1.63" fill="#2ca02c"/><rect x="546.1" y="1031.31" width="18.9" height="4.17" fill="#17becf"/><rect x="569.8" y="1038.80" width="18.9" height="14.80" fill="#2ca02c"/><rect x="569.8" y="1037.90" width="18.9" height="1.21" fill="#8c564b"/><rect x="569.8" y="1036.09" width="18.9" height="2.11" fill="#9467bd"/><rect x="569.8" y="1032.16" width="18.9" height="4.23" fill="#7f7f7f"/><rect x="569.8" y="1031.31" width="18.9" height="1.15" fill="#8c564b"/><rect x="593.3" y="1033.97" width="18.9" height="19.63" fill="#2ca02c"/><rect x="593.3" y="1029.86" width="18.9" height="4.41" fill="#d62728"/><rect x="593.3" y="1026.24" width="18.9" height="3.92" fill="#9467bd"/><rect x="593.3" y="1022.68" width="18.9" height="3.86" fill="#8c564b"/><rect x="593.3" y="1019.60" width="18.9" height="3.38" fill="#e377c2"/><rect x="593.3" y="1015.43" width="18.9" height="4.47" fill="#17becf"/><rect x="593.3" y="1012.35" width="18.9" height="3.38" fill="#1f77b4"/><rect x="593.3" y="1008.24" width="18.9" height="4.41" fill="#ff7f0e"/><rect x="593.3" y="1004.07" width="18.9" height="4.47" fill="#2ca02c"/><rect x="593.3" y="1000.75" width="18.9" height="3.62" fill="#d62728"/><rect x="617.0" y="1019.60" width="18.9" height="34.00" fill="#2ca02c"/><rect x="617.0" y="1004.62" width="18.9" height="15.28" fill="#d62728"/><rect x="617.0" y="989.88" width="18.9" height="15.04" fill="#9467bd"/><rect x="617.0" y="975.99" width="18.9" height="14.19" fill="#8c564b"/><rect x="617.0" y="961.01" width="18.9" height="15.28" fill="#e377c2"/><rect x="617.0" y="947.00" width="18.9" height="14.31" fill="#7f7f7f"/><rect x="617.0" y="932.14" width="18.9" height="15.16" fill="#bcbd22"/><rect x="617.0" y="918.00" width="18.9" height="14.43" fill="#17becf"/><rect x="617.0" y="904.11" width="18.9" height="14.19" fill="#1f77b4"/><rect x="617.0" y="890.52" width="18.9" height="13.89" fill="#ff7f0e"/><rect x="640.5" y="1017.66" width="18.9" height="35.94" fill="#2ca02c"/><rect x="640.5" y="1005.89" width="18.9" height="12.08" fill="#d62728"/><rect x="640.5" y="995.32" width="18.9" height="10.87" fill="#9467bd"/><rect x="640.5" y="984.44" width="18.9" height="11.17" fill="#8c564b"/><rect x="640.5" y="974.18" width="18.9" height="10.57" fill="#e377c2"/><rect x="640.5" y="962.28" width="18.9" height="12.20" fill="#17becf"/><rect x="640.5" y="950.92" width="18.9" height="11.66" fill="#1f77b4"/><rect x="640.5" y="939.39" width="18.9" height="11.84" fill="#ff7f0e"/><rect x="640.5" y="927.67" width="18.9" height="12.02" fill="#2ca02c"/><rect x="640.5" y="915.89" width="18.9" height="12.08" fill="#d62728"/><rect x="664.1" y="1021.41" width="18.9" height="32.19" fill="#2ca02c"/><rect x="664.1" y="1015.43" width="18.9" height="6.28" fill="#d62728"/><rect x="664.1" y="1013.74" width="18.9" height="1.99" fill="#2ca02c"/><rect x="664.1" y="1011.87" width="18.9" height="2.17" fill="#bcbd22"/><rect x="664.1" y="1010.72" width="18.9" height="1.45" fill="#2ca02c"/><rect x="664.1" y="1008.24" width="18.9" height="2.78" fill="#bcbd22"/><rect x="664.1" y="1005.16" width="18.9" height="3.38" fill="#17becf"/><rect x="664.1" y="1003.77" width="18.9" height="1.69" fill="#ff7f0e"/><rect x="687.8" y="1033.97" width="18.9" height="19.63" fill="#2ca02c"/><rect x="687.8" y="1032.76" width="18.9" height="1.51" fill="#8c564b"/><rect x="687.8" y="1031.31" width="18.9" height="1.75" fill="#d62728"/><rect x="687.8" y="1029.74" width="18.9" height="1.87" fill="#2ca02c"/><rect x="687.8" y="1028.05" width="18.9" height="1.99" fill="#17becf"/><rect x="687.8" y="1026.42" width="18.9" height="1.93" fill="#ff7f0e"/><rect x="711.3" y="1036.39" width="18.9" height="17.21" fill="#2ca02c"/><rect x="711.3" y="1034.39" width="18.9" height="2.29" fill="#e377c2"/><rect x="711.3" y="1033.07" width="18.9" height="1.63" fill="#1f77b4"/><rect x="711.3" y="1032.04" width="18.9" height="1.33" fill="#17becf"/><rect x="711.3" y="1028.54" width="18.9" height="3.80" fill="#d62728"/><rect x="735.0" y="1036.39" width="18.9" height="17.21" fill="#2ca02c"/><rect x="735.0" y="1033.97" width="18.9" height="2.72" fill="#17becf"/><rect x="735.0" y="1029.86" width="18.9" height="4.41" fill="#d62728"/><rect x="735.0" y="1027.93" width="18.9" height="2.23" fill="#e377c2"/><rect x="735.0" y="1026.72" width="18.9" height="1.51" fill="#9467bd"/><rect x="735.0" y="1025.52" width="18.9" height="1.51" fill="#e377c2"/><rect x="758.5" y="1035.18" width="18.9" height="18.42" fill="#2ca02c"/><rect x="758.5" y="1033.49" width="18.9" height="1.99" fill="#8c564b"/><rect x="758.5" y="1031.68" width="18.9" height="2.11" fill="#9467bd"/><rect x="758.5" y="1028.54" width="18.9" height="3.44" fill="#d62728"/><rect x="782.1" y="1035.18" width="18.9" height="18.42" fill="#2ca02c"/><rect x="782.1" y="1033.37" width="18.9" height="2.11" fill="#8c564b"/><rect x="782.1" y="1031.68" width="18.9" height="1.99" fill="#7f7f7f"/><rect x="782.1" y="1030.05" width="18.9" height="1.93" fill="#17becf"/><rect x="782.1" y="1028.54" width="18.9" height="1.81" fill="#2ca02c"/><rect x="805.8" y="1029.32" width="18.9" height="24.28" fill="#2ca02c"/><rect x="805.8" y="1026.24" width="18.9" height="3.38" fill="#8c564b"/><rect x="805.8" y="1021.89" width="18.9" height="4.65" fill="#17becf"/><rect x="829.3" y="1024.43" width="18.9" height="29.17" fill="#2ca02c"/><rect x="829.3" y="1022.68" width="18.9" height="2.05" fill="#7f7f7f"/><rect x="829.3" y="1020.99" width="18.9" height="1.99" fill="#1f77b4"/><rect x="829.3" y="1019.60" width="18.9" height="1.69" fill="#9467bd"/><rect x="829.3" y="1018.27" width="18.9" height="1.63" fill="#e377c2"/><rect x="853.0" y="1027.51" width="18.9" height="26.09" fill="#2ca02c"/><rect x="853.0" y="1025.52" width="18.9" height="2.29" fill="#8c564b"/><rect x="853.0" y="1023.58" width="18.9" height="2.23" fill="#7f7f7f"/><rect x="853.0" y="1020.87" width="18.9" height="3.02" fill="#9467bd"/><rect x="876.5" y="1029.14" width="18.9" height="24.46" fill="#2ca02c"/><rect x="876.5" y="1027.93" width="18.9" height="1.51" fill="#8c564b"/><rect x="876.5" y="1026.24" width="18.9" height="1.99" fill="#7f7f7f"/><rect x="876.5" y="1023.58" width="18.9" height="2.96" fill="#17becf"/><rect x="876.5" y="1021.89" width="18.9" height="1.99" fill="#ff7f0e"/><rect x="900.2" y="1022.50" width="18.9" height="31.10" fill="#2ca02c"/><rect x="900.2" y="1021.59" width="18.9" height="1.21" fill="#8c564b"/><rect x="900.2" y="1020.68" width="18.9" height="1.21" fill="#2ca02c"/><rect x="900.2" y="1019.78" width="18.9" height="1.21" fill="#17becf"/><rect x="900.2" y="1018.27" width="18.9" height="1.81" fill="#ff7f0e"/><rect x="923.8" y="1025.52" width="18.9" height="28.08" fill="#2ca02c"/><rect x="923.8" y="1024.31" width="18.9" height="1.51" fill="#9467bd"/><rect x="923.8" y="1022.80" width="18.9" height="1.81" fill="#7f7f7f"/><rect x="923.8" y="1021.89" width="18.9" height="1.21" fill="#1f77b4"/><rect x="923.8" y="1019.48" width="18.9" height="2.72" fill="#e377c2"/><rect x="947.3" y="1024.31" width="18.9" height="29.29" fill="#2ca02c"/><rect x="947.3" y="1021.89" width="18.9" height="2.72" fill="#d62728"/><rect x="947.3" y="1020.08" width="18.9" height="2.11" fill="#e377c2"/><rect x="947.3" y="1018.87" width="18.9" height="1.51" fill="#9467bd"/><rect x="947.3" y="1017.06" width="18.9" height="2.11" fill="#d62728"/><rect x="971.0" y="1020.68" width="18.9" height="32.92" fill="#2ca02c"/><rect x="971.0" y="1018.87" width="18.9" height="2.11" fill="#8c564b"/><rect x="971.0" y="1017.06" width="18.9" height="2.11" fill="#2ca02c"/><rect x="971.0" y="1015.55" width="18.9" height="1.81" fill="#17becf"/><rect x="971.0" y="1012.23" width="18.9" height="3.62" fill="#1f77b4"/><rect x="994.5" y="1015.43" width="18.9" height="38.17" fill="#2ca02c"/><rect x="994.5" y="1013.44" width="18.9" height="2.29" fill="#d62728"/><rect x="994.5" y="1011.93" width="18.9" height="1.81" fill="#2ca02c"/><rect x="994.5" y="1010.05" width="18.9" height="2.17" fill="#bcbd22"/><rect x="1018.2" y="1011.02" width="18.9" height="42.58" fill="#2ca02c"/><rect x="1018.2" y="1009.81" width="18.9" height="1.51" fill="#8c564b"/><rect x="1018.2" y="1007.70" width="18.9" height="2.41" fill="#9467bd"/><rect x="1041.8" y="1005.89" width="18.9" height="47.71" fill="#2ca02c"/><rect x="1041.8" y="1004.07" width="18.9" height="2.11" fill="#d62728"/><rect x="1041.8" y="997.43" width="18.9" height="6.94" fill="#7f7f7f"/><rect x="1041.8" y="995.92" width="18.9" height="1.81" fill="#8c564b"/><rect x="1041.8" y="993.81" width="18.9" height="2.41" fill="#bcbd22"/><rect x="1041.8" y="993.20" width="18.9" height="0.90" fill="#2ca02c"/><rect x="1041.8" y="990.48" width="18.9" height="3.02" fill="#17becf"/><rect x="1065.3" y="1002.81" width="18.9" height="50.79" fill="#2ca02c"/><rect x="1065.3" y="1000.15" width="18.9" height="2.96" fill="#d62728"/><rect x="1065.3" y="993.81" width="18.9" height="6.64" fill="#7f7f7f"/><rect x="1065.3" y="990.18" width="18.9" height="3.92" fill="#17becf"/><rect x="1065.3" y="987.16" width="18.9" height="3.32" fill="#e377c2"/><rect x="1089.0" y="1006.43" width="18.9" height="47.17" fill="#2ca02c"/><rect x="1089.0" y="1003.77" width="18.9" height="2.96" fill="#e377c2"/><rect x="1089.0" y="1001.96" width="18.9" height="2.11" fill="#7f7f7f"/><rect x="1089.0" y="1001.05" width="18.9" height="1.21" fill="#bcbd22"/><rect x="1089.0" y="1000.15" width="18.9" height="1.21" fill="#7f7f7f"/><rect x="1112.5" y="1002.81" width="18.9" height="50.79" fill="#2ca02c"/><rect x="1112.5" y="1000.15" width="18.9" height="2.96" fill="#ff7f0e"/><rect x="1112.5" y="997.73" width="18.9" height="2.72" fill="#2ca02c"/><rect x="1112.5" y="995.92" width="18.9" height="2.11" fill="#e377c2"/><rect x="1112.5" y="992.90" width="18.9" height="3.32" fill="#9467bd"/><rect x="1136.2" y="1001.54" width="18.9" height="52.06" fill="#2ca02c"/><rect x="1136.2" y="999.85" width="18.9" height="1.99" fill="#d62728"/><rect x="1136.2" y="998.34" width="18.9" height="1.81" fill="#9467bd"/><rect x="1136.2" y="996.52" width="18.9" height="2.11" fill="#e377c2"/><rect x="1136.2" y="994.71" width="18.9" height="2.11" fill="#2ca02c"/><rect x="1136.2" y="992.90" width="18.9" height="2.11" fill="#17becf"/><rect x="1136.2" y="990.73" width="18.9" height="2.47" fill="#1f77b4"/><rect x="1159.8" y="1001.54" width="18.9" height="52.06" fill="#2ca02c"/><rect x="1159.8" y="999.85" width="18.9" height="1.99" fill="#d62728"/><rect x="1159.8" y="998.34" width="18.9" height="1.81" fill="#9467bd"/><rect x="1159.8" y="996.52" width="18.9" height="2.11" fill="#e377c2"/><rect x="1159.8" y="994.71" width="18.9" height="2.11" fill="#2ca02c"/><rect x="1159.8" y="993.50" width="18.9" height="1.51" fill="#bcbd22"/><rect x="1159.8" y="991.69" width="18.9" height="2.11" fill="#17becf"/><rect x="1159.8" y="988.91" width="18.9" height="3.08" fill="#ff7f0e"/><rect x="1183.3" y="1039.77" width="18.9" height="13.83" fill="#2ca02c"/><rect x="1183.3" y="1038.20" width="18.9" height="1.87" fill="#9467bd"/><rect x="1183.3" y="1036.39" width="18.9" height="2.11" fill="#e377c2"/><rect x="1183.3" y="1034.58" width="18.9" height="2.11" fill="#bcbd22"/><rect x="1183.3" y="1032.16" width="18.9" height="2.72" fill="#17becf"/><rect x="1183.3" y="1028.96" width="18.9" height="3.50" fill="#ff7f0e"/><line x1="143.8" x2="1276" y1="1053.3" y2="1053.3" stroke="#444" stroke-width="1.6"/><g clip-path="url(#c2x)"><text x="225.2" y="1069.2" text-anchor="middle" font-size="14.8" fill="#777">21:00</text><text x="225.2" y="1088.3" text-anchor="middle" font-size="14.2" fill="#777">Jun 4, 2020</text><text x="366.8" y="1069.2" text-anchor="middle" font-size="14.8" fill="#777">00:00</text><text x="366.8" y="1088.3" text-anchor="middle" font-size="14.2" fill="#777">Jun 5, 2020</text><text x="508.4" y="1069.2" text-anchor="middle" font-size="14.8" fill="#777">03:00</text><text x="650.0" y="1069.2" text-anchor="middle" font-size="14.8" fill="#777">06:00</text><text x="791.6" y="1069.2" text-anchor="middle" font-size="14.8" fill="#777">09:00</text><text x="933.2" y="1069.2" text-anchor="middle" font-size="14.8" fill="#777">12:00</text><text x="1074.8" y="1069.2" text-anchor="middle" font-size="14.8" fill="#777">15:00</text><text x="1216.4" y="1069.2" text-anchor="middle" font-size="14.8" fill="#777">18:00</text></g><g clip-path="url(#c2l)"><rect x="160.6" y="1097.8" width="14.5" height="14.5" fill="#bcbd22"/><text x="192.2" y="1110.4" font-size="15.8" fill="#444">guest</text><rect x="160.6" y="1120.7" width="14.5" height="14.5" fill="#2ca02c"/><text x="192.2" y="1133.3" font-size="15.8" fill="#444">abc</text><rect x="160.6" y="1143.7" width="14.5" height="14.5" fill="#e377c2"/><text x="192.2" y="1156.3" font-size="15.8" fill="#444">jim</text><rect x="160.6" y="1166.6" width="14.5" height="14.5" fill="#1f77b4"/><text x="192.2" y="1179.2" font-size="15.8" fill="#444">leonardo</text><rect x="160.6" y="1189.5" width="14.5" height="14.5" fill="#9467bd"/><text x="192.2" y="1202.1" font-size="15.8" fill="#444">security</text><rect x="160.6" y="1212.5" width="14.5" height="14.5" fill="#bcbd22"/><text x="192.2" y="1225.0" font-size="15.8" fill="#444">cctv</text><rect x="160.6" y="1235.4" width="14.5" height="14.5" fill="#2ca02c"/><text x="192.2" y="1248.0" font-size="15.8" fill="#444">adminthunam</text><rect x="160.6" y="1258.3" width="14.5" height="14.5" fill="#e377c2"/><text x="192.2" y="1270.9" font-size="15.8" fill="#444">caja</text><rect x="160.6" y="1281.2" width="14.5" height="14.5" fill="#1f77b4"/><text x="192.2" y="1293.8" font-size="15.8" fill="#444">rgraftr</text><rect x="160.6" y="1304.2" width="14.5" height="14.5" fill="#9467bd"/><rect x="348.9" y="1097.8" width="14.5" height="14.5" fill="#7f7f7f"/><text x="380.5" y="1110.4" font-size="15.8" fill="#444">t1</text><rect x="348.9" y="1120.7" width="14.5" height="14.5" fill="#ff7f0e"/><text x="380.5" y="1133.3" font-size="15.8" fill="#444">visitor</text><rect x="348.9" y="1143.7" width="14.5" height="14.5" fill="#8c564b"/><text x="380.5" y="1156.3" font-size="15.8" fill="#444">events</text><rect x="348.9" y="1166.6" width="14.5" height="14.5" fill="#17becf"/><text x="380.5" y="1179.2" font-size="15.8" fill="#444">spadmin</text><rect x="348.9" y="1189.5" width="14.5" height="14.5" fill="#d62728"/><text x="380.5" y="1202.1" font-size="15.8" fill="#444">staff</text><rect x="348.9" y="1212.5" width="14.5" height="14.5" fill="#7f7f7f"/><text x="380.5" y="1225.0" font-size="15.8" fill="#444">antonio</text><rect x="348.9" y="1235.4" width="14.5" height="14.5" fill="#ff7f0e"/><text x="380.5" y="1248.0" font-size="15.8" fill="#444">u1</text><rect x="348.9" y="1258.3" width="14.5" height="14.5" fill="#8c564b"/><text x="380.5" y="1270.9" font-size="15.8" fill="#444">accounts</text><rect x="348.9" y="1281.2" width="14.5" height="14.5" fill="#17becf"/><text x="380.5" y="1293.8" font-size="15.8" fill="#444">agnes</text><rect x="348.9" y="1304.2" width="14.5" height="14.5" fill="#d62728"/><rect x="537.2" y="1097.8" width="14.5" height="14.5" fill="#e377c2"/><text x="568.8" y="1110.4" font-size="15.8" fill="#444">roberto</text><rect x="537.2" y="1120.7" width="14.5" height="14.5" fill="#1f77b4"/><text x="568.8" y="1133.3" font-size="15.8" fill="#444">testing</text><rect x="537.2" y="1143.7" width="14.5" height="14.5" fill="#9467bd"/><text x="568.8" y="1156.3" font-size="15.8" fill="#444">david</text><rect x="537.2" y="1166.6" width="14.5" height="14.5" fill="#bcbd22"/><text x="568.8" y="1179.2" font-size="15.8" fill="#444">silvia</text><rect x="537.2" y="1189.5" width="14.5" height="14.5" fill="#2ca02c"/><text x="568.8" y="1202.1" font-size="15.8" fill="#444">praktikant</text><rect x="537.2" y="1212.5" width="14.5" height="14.5" fill="#e377c2"/><text x="568.8" y="1225.0" font-size="15.8" fill="#444">manager1</text><rect x="537.2" y="1235.4" width="14.5" height="14.5" fill="#1f77b4"/><text x="568.8" y="1248.0" font-size="15.8" fill="#444">traditional</text><rect x="537.2" y="1258.3" width="14.5" height="14.5" fill="#9467bd"/><text x="568.8" y="1270.9" font-size="15.8" fill="#444">ncs</text><rect x="537.2" y="1281.2" width="14.5" height="14.5" fill="#bcbd22"/><text x="568.8" y="1293.8" font-size="15.8" fill="#444">hr1</text><rect x="537.2" y="1304.2" width="14.5" height="14.5" fill="#2ca02c"/><rect x="725.5" y="1097.8" width="14.5" height="14.5" fill="#8c564b"/><text x="757.1" y="1110.4" font-size="15.8" fill="#444">dbadmin</text><rect x="725.5" y="1120.7" width="14.5" height="14.5" fill="#17becf"/><text x="757.1" y="1133.3" font-size="15.8" fill="#444">template</text><rect x="725.5" y="1143.7" width="14.5" height="14.5" fill="#d62728"/><text x="757.1" y="1156.3" font-size="15.8" fill="#444">lucy</text><rect x="725.5" y="1166.6" width="14.5" height="14.5" fill="#7f7f7f"/><text x="757.1" y="1179.2" font-size="15.8" fill="#444">ricoh</text><rect x="725.5" y="1189.5" width="14.5" height="14.5" fill="#ff7f0e"/><text x="757.1" y="1202.1" font-size="15.8" fill="#444">remoto</text><rect x="725.5" y="1212.5" width="14.5" height="14.5" fill="#8c564b"/><text x="757.1" y="1225.0" font-size="15.8" fill="#444">bodega2</text><rect x="725.5" y="1235.4" width="14.5" height="14.5" fill="#17becf"/><text x="757.1" y="1248.0" font-size="15.8" fill="#444">ssm-user</text><rect x="725.5" y="1258.3" width="14.5" height="14.5" fill="#d62728"/><text x="757.1" y="1270.9" font-size="15.8" fill="#444">maria</text><rect x="725.5" y="1281.2" width="14.5" height="14.5" fill="#7f7f7f"/><text x="757.1" y="1293.8" font-size="15.8" fill="#444">ftp</text><rect x="725.5" y="1304.2" width="14.5" height="14.5" fill="#ff7f0e"/><rect x="913.8" y="1097.8" width="14.5" height="14.5" fill="#9467bd"/><text x="945.4" y="1110.4" font-size="15.8" fill="#444">consultor</text><rect x="913.8" y="1120.7" width="14.5" height="14.5" fill="#bcbd22"/><text x="945.4" y="1133.3" font-size="15.8" fill="#444">lisa</text><rect x="913.8" y="1143.7" width="14.5" height="14.5" fill="#2ca02c"/><text x="945.4" y="1156.3" font-size="15.8" fill="#444">abid</text><rect x="913.8" y="1166.6" width="14.5" height="14.5" fill="#e377c2"/><text x="945.4" y="1179.2" font-size="15.8" fill="#444">caixa</text><rect x="913.8" y="1189.5" width="14.5" height="14.5" fill="#1f77b4"/><text x="945.4" y="1202.1" font-size="15.8" fill="#444">director</text><rect x="913.8" y="1212.5" width="14.5" height="14.5" fill="#9467bd"/><text x="945.4" y="1225.0" font-size="15.8" fill="#444">hr</text><rect x="913.8" y="1235.4" width="14.5" height="14.5" fill="#bcbd22"/><text x="945.4" y="1248.0" font-size="15.8" fill="#444">marina</text><rect x="913.8" y="1258.3" width="14.5" height="14.5" fill="#2ca02c"/><text x="945.4" y="1270.9" font-size="15.8" fill="#444">acronis</text><rect x="913.8" y="1281.2" width="14.5" height="14.5" fill="#e377c2"/><text x="945.4" y="1293.8" font-size="15.8" fill="#444">app</text><rect x="913.8" y="1304.2" width="14.5" height="14.5" fill="#1f77b4"/><rect x="1102.1" y="1097.8" width="14.5" height="14.5" fill="#d62728"/><text x="1133.7" y="1110.4" font-size="15.8" fill="#444">deposito</text><rect x="1102.1" y="1120.7" width="14.5" height="14.5" fill="#7f7f7f"/><text x="1133.7" y="1133.3" font-size="15.8" fill="#444">jobs</text><rect x="1102.1" y="1143.7" width="14.5" height="14.5" fill="#ff7f0e"/><text x="1133.7" y="1156.3" font-size="15.8" fill="#444">user3</text><rect x="1102.1" y="1166.6" width="14.5" height="14.5" fill="#8c564b"/><text x="1133.7" y="1179.2" font-size="15.8" fill="#444">ahmed</text><rect x="1102.1" y="1189.5" width="14.5" height="14.5" fill="#17becf"/><text x="1133.7" y="1202.1" font-size="15.8" fill="#444">client02</text><rect x="1102.1" y="1212.5" width="14.5" height="14.5" fill="#d62728"/><text x="1133.7" y="1225.0" font-size="15.8" fill="#444">commercial</text><rect x="1102.1" y="1235.4" width="14.5" height="14.5" fill="#7f7f7f"/><text x="1133.7" y="1248.0" font-size="15.8" fill="#444">auditor2</text><rect x="1102.1" y="1258.3" width="14.5" height="14.5" fill="#ff7f0e"/><text x="1133.7" y="1270.9" font-size="15.8" fill="#444">caroline</text><rect x="1102.1" y="1281.2" width="14.5" height="14.5" fill="#8c564b"/><text x="1133.7" y="1293.8" font-size="15.8" fill="#444">reception</text><rect x="1102.1" y="1304.2" width="14.5" height="14.5" fill="#17becf"/></g><rect x="1253" y="1092" width="5.5" height="105" rx="2.7" fill="#808bad"/></svg>
<svg class="abs" style="left:1350.6px;top:338.3px;width:1192.8000000000002px;height:434.7px;background:#aad3df" viewBox="1350.6 338.3 1192.8000000000002 434.7"><path d="M1044.2 404.9L1046.7 393.2L1052.7 389.9L1055.3 383.5L1063.8 378.3L1071.5 380.9L1080.0 384.0L1090.3 387.0L1100.5 388.4L1107.3 385.0L1112.4 383.0L1117.6 387.5L1124.4 386.0L1134.6 394.5L1137.2 395.9L1146.6 395.4L1148.3 399.9L1155.1 395.4L1163.6 395.4L1167.1 393.2L1168.8 387.5L1166.2 378.8L1168.8 375.1L1172.2 379.9L1173.9 387.0L1176.4 392.2L1180.7 390.8L1184.1 396.3L1185.8 389.9L1191.0 386.5L1192.1 392.2L1191.8 399.0L1186.7 402.4L1183.3 401.6L1184.1 405.4L1180.7 410.6L1176.4 412.9L1172.2 418.9L1170.0 424.2L1169.6 429.3L1173.0 435.7L1177.3 435.7L1180.7 437.3L1185.8 440.9L1190.4 441.5L1191.0 447.6L1192.7 450.4L1193.5 452.4L1196.1 451.8L1196.1 444.8L1195.2 442.7L1199.5 438.8L1200.3 432.6L1197.8 429.3L1198.6 424.2L1197.8 417.4L1202.0 417.8L1205.5 417.8L1208.9 421.7L1211.4 422.5L1212.3 429.3L1215.7 431.6L1218.3 429.3L1220.0 425.2L1220.8 424.9L1225.1 434.2L1226.8 438.8L1228.5 440.3L1231.9 442.7L1232.8 444.8L1235.8 449.9L1233.6 452.1L1231.1 452.4L1228.5 455.3L1223.4 455.1L1218.3 455.3L1215.7 457.7L1213.1 459.8L1210.6 463.1L1212.3 462.6L1214.8 459.5L1217.4 458.2L1220.8 458.5L1221.2 460.6L1219.1 461.3L1220.3 463.6L1220.0 465.6L1221.7 466.1L1225.1 466.6L1226.8 463.6L1228.5 465.6L1226.8 467.8L1221.7 470.0L1219.1 471.9L1217.9 470.9L1219.1 469.0L1220.8 467.3L1218.3 468.0L1216.6 468.5L1214.0 470.2L1211.4 471.6L1210.2 474.2L1211.4 476.3L1208.9 476.9L1205.5 478.1L1204.6 478.8L1204.6 481.2L1202.6 482.5L1202.0 484.1L1201.2 486.6L1201.7 490.2L1199.5 491.7L1197.8 493.1L1196.1 494.4L1193.5 496.4L1192.3 498.0L1192.0 500.0L1193.3 503.9L1194.2 507.2L1194.2 509.1L1193.0 510.4L1191.3 508.3L1189.8 505.3L1189.6 502.9L1187.5 501.0L1185.0 501.6L1181.6 500.4L1178.5 500.6L1178.5 502.8L1175.6 502.4L1170.8 501.6L1168.8 502.8L1165.0 505.5L1164.8 508.9L1164.0 515.3L1165.0 518.9L1167.1 521.7L1169.6 523.1L1173.9 522.4L1176.1 520.9L1176.6 518.0L1180.4 516.9L1182.8 517.5L1181.6 520.8L1180.7 523.8L1179.3 527.0L1180.7 527.4L1184.1 527.2L1187.5 527.6L1188.7 528.6L1188.1 533.2L1188.2 535.8L1189.8 538.2L1192.7 539.6L1194.7 538.6L1196.9 538.6L1199.0 540.1L1198.6 541.9L1197.3 540.7L1195.2 539.4L1193.7 542.2L1191.5 541.7L1189.2 540.5L1188.1 540.0L1185.8 537.9L1184.5 536.0L1181.6 532.3L1179.9 532.0L1176.4 530.7L1173.5 529.7L1170.5 526.9L1167.1 527.6L1162.8 526.5L1160.2 525.3L1156.8 523.5L1153.4 521.7L1150.8 519.1L1151.2 517.1L1149.1 513.8L1145.7 510.0L1144.0 507.4L1142.3 505.1L1139.4 502.9L1138.0 499.0L1135.0 497.4L1135.1 500.0L1138.0 503.9L1139.8 506.8L1141.5 509.7L1142.7 512.1L1144.0 514.0L1143.2 514.5L1139.8 511.0L1139.2 508.7L1136.3 506.4L1134.6 505.3L1136.0 503.5L1133.3 500.2L1131.0 496.0L1128.7 492.9L1125.1 491.9L1122.9 487.5L1121.8 484.9L1119.6 481.2L1118.8 479.2L1118.9 475.6L1119.3 469.7L1119.3 465.6L1118.1 460.1L1121.0 460.6L1121.8 462.8L1121.3 458.5L1118.4 455.9L1114.2 453.2L1112.4 449.1L1109.0 443.3L1107.3 440.3L1103.1 434.2L1099.6 429.3L1096.2 430.3L1092.5 426.6L1086.8 425.9L1081.7 423.5L1077.5 425.2L1072.3 428.3L1074.9 421.7L1071.5 423.9L1068.1 429.3L1067.2 433.2L1063.0 436.4L1057.8 440.0L1052.7 442.4L1050.2 443.0L1054.4 439.4L1057.8 437.3L1061.2 432.6L1062.1 429.9L1059.5 429.9L1054.4 429.3L1054.4 425.9L1049.3 423.5L1048.4 418.9L1051.0 414.4L1056.1 412.9L1056.1 409.4L1052.7 409.4L1047.6 409.4ZM1199.0 540.1L1199.8 541.0L1201.9 538.6L1202.0 536.5L1203.2 535.6L1206.3 535.1L1208.5 533.4L1209.2 534.4L1208.7 536.2L1211.1 534.8L1211.4 533.7L1214.2 535.5L1214.8 536.5L1218.3 536.5L1220.8 537.2L1225.1 536.3L1226.8 538.4L1227.6 540.1L1230.2 541.0L1232.8 543.9L1237.0 544.6L1242.2 546.3L1243.9 547.5L1245.6 551.6L1245.6 554.7L1248.1 555.6L1249.8 555.7L1255.0 558.5L1255.8 559.5L1260.1 559.7L1263.5 559.8L1267.4 562.9L1270.7 563.6L1271.5 567.0L1271.2 570.1L1267.8 573.6L1265.2 577.1L1264.3 580.6L1264.0 585.4L1262.6 589.2L1260.9 593.2L1259.2 595.1L1255.0 595.4L1251.9 596.9L1248.5 599.9L1248.0 603.5L1246.4 606.8L1243.9 610.4L1241.8 612.8L1239.6 616.5L1237.2 618.3L1234.8 618.3L1231.4 616.5L1231.2 617.7L1233.3 619.6L1233.6 621.7L1232.6 624.9L1230.2 626.4L1225.1 627.1L1224.6 630.4L1220.0 631.5L1220.0 635.0L1222.2 635.4L1220.0 637.3L1219.1 640.9L1215.7 643.3L1218.3 647.1L1218.4 648.3L1215.5 652.2L1213.1 654.9L1214.2 659.8L1214.3 661.8L1215.7 664.6L1219.6 666.7L1217.4 668.2L1214.8 669.7L1211.4 668.2L1208.0 665.5L1204.6 661.2L1202.9 656.2L1202.0 649.6L1202.0 645.3L1204.6 640.9L1205.5 636.1L1204.6 633.8L1204.9 629.3L1205.5 623.2L1207.0 619.6L1208.7 614.4L1208.9 608.4L1209.7 603.5L1210.6 598.8L1210.9 593.2L1211.1 588.6L1210.8 586.5L1208.9 584.7L1205.5 582.7L1202.6 581.1L1200.7 578.5L1199.1 575.3L1197.4 571.9L1196.1 568.7L1194.5 566.3L1192.3 565.0L1192.1 562.2L1193.9 560.5L1194.4 558.6L1192.8 558.5L1193.0 556.4L1194.4 554.5L1194.4 553.2L1196.4 552.1L1196.9 550.3L1199.0 548.0L1198.6 545.3L1198.8 543.1L1198.0 542.4ZM1320.8 489.2L1321.9 489.0L1325.8 490.2L1327.5 490.7L1330.9 489.0L1332.9 487.5L1336.0 486.9L1339.4 487.1L1343.7 486.6L1347.6 486.0L1349.7 486.4L1348.8 487.7L1349.2 489.8L1349.7 491.5L1348.1 492.3L1348.3 493.3L1350.0 494.6L1352.2 495.2L1353.4 495.2L1356.8 496.2L1357.4 497.8L1360.8 499.2L1363.3 500.4L1365.0 499.0L1365.0 496.4L1367.6 495.2L1370.2 495.8L1373.6 497.6L1377.0 498.2L1380.4 499.2L1382.1 498.4L1383.8 497.8L1386.0 498.4L1387.2 498.8L1389.3 498.4L1390.5 502.0L1389.3 505.3L1387.2 503.3L1386.4 501.0L1386.5 502.0L1388.1 504.9L1388.9 506.8L1390.6 510.6L1391.7 512.7L1393.9 516.2L1394.6 518.9L1394.4 520.6L1396.6 523.5L1398.0 527.4L1400.9 529.7L1403.4 532.3L1404.8 533.2L1404.8 534.9L1406.8 536.9L1411.1 535.5L1414.5 535.3L1418.3 534.2L1418.1 536.7L1417.1 539.3L1415.4 542.7L1412.8 547.0L1409.4 550.4L1406.0 553.0L1403.4 555.6L1401.7 557.8L1399.5 559.5L1398.7 561.5L1397.5 565.0L1398.3 566.5L1398.1 569.3L1400.0 572.7L1400.2 577.1L1400.4 580.6L1398.3 583.3L1394.0 585.6L1392.3 587.6L1390.5 589.2L1391.1 592.3L1391.5 596.0L1391.1 597.8L1387.2 599.7L1386.9 600.7L1387.0 603.5L1386.4 605.7L1383.8 608.2L1382.1 611.0L1379.5 614.0L1377.0 615.6L1374.8 616.5L1371.0 616.7L1368.4 616.9L1365.0 618.1L1362.5 617.1L1362.1 614.0L1362.0 611.8L1360.4 608.4L1359.1 605.7L1356.8 602.0L1355.6 596.9L1355.6 594.5L1353.8 590.8L1352.2 586.8L1351.0 584.1L1351.0 582.4L1351.7 579.7L1353.8 576.2L1354.5 573.6L1353.4 569.8L1352.1 565.3L1351.7 564.1L1351.0 562.7L1349.7 561.2L1347.6 558.8L1346.3 556.4L1346.9 554.0L1347.3 553.0L1347.6 550.4L1347.5 548.0L1346.1 547.0L1345.1 547.0L1342.8 547.2L1341.1 547.4L1339.4 545.1L1338.4 543.9L1336.7 543.8L1332.9 544.3L1330.9 545.1L1327.5 546.5L1325.8 546.0L1322.4 546.0L1318.1 547.2L1315.5 546.2L1312.5 543.9L1309.6 541.9L1308.4 540.1L1307.5 538.4L1305.3 535.8L1303.6 534.1L1302.4 533.4L1302.2 531.8L1301.0 529.3L1302.7 527.0L1303.1 523.5L1303.6 520.8L1302.7 519.9L1301.9 518.0L1302.1 516.2L1303.6 513.0L1305.3 510.6L1306.2 508.3L1308.7 505.5L1311.3 504.3L1313.8 502.2L1314.3 500.0L1314.2 498.0L1315.5 495.6L1317.9 493.8L1319.3 492.9L1320.1 490.9ZM1315.5 486.6L1318.3 486.2L1320.1 487.5L1321.3 488.8L1323.2 487.3L1327.5 487.1L1329.7 485.4L1331.2 483.0L1330.4 481.2L1332.3 478.3L1334.7 476.9L1336.4 474.9L1336.0 472.8L1337.7 472.1L1340.1 472.6L1342.0 473.0L1343.7 471.4L1346.1 470.0L1348.3 471.1L1348.8 473.5L1351.7 476.0L1353.9 477.4L1355.3 478.3L1357.5 480.1L1358.2 482.5L1357.7 484.5L1359.1 483.6L1360.1 482.3L1359.2 480.8L1359.9 479.0L1361.6 480.3L1362.5 479.9L1361.6 478.5L1358.2 476.0L1356.2 475.6L1354.1 472.1L1352.1 470.2L1351.9 467.8L1354.3 466.8L1354.1 468.5L1355.6 468.0L1356.8 470.4L1359.1 472.1L1361.6 474.2L1363.8 475.8L1364.2 479.0L1365.0 480.8L1366.7 482.7L1367.1 484.9L1367.9 487.1L1369.3 487.7L1370.2 487.7L1370.3 485.8L1371.9 485.1L1371.0 483.4L1370.0 481.7L1370.0 479.0L1371.5 480.1L1372.5 478.1L1375.3 478.1L1375.6 479.4L1377.0 479.2L1375.6 481.2L1376.6 483.4L1377.3 485.6L1377.8 487.1L1379.2 487.3L1381.2 488.3L1383.1 487.1L1385.5 487.7L1388.1 488.6L1390.0 487.1L1392.3 487.3L1392.2 489.8L1392.2 491.9L1391.5 493.1L1390.6 495.4L1390.1 497.2L1389.3 498.4L1390.5 502.0L1390.1 504.9L1391.5 506.8L1394.0 509.7L1395.8 512.5L1397.8 517.1L1400.0 520.8L1402.6 524.4L1403.9 527.9L1404.8 531.8L1405.1 532.8L1407.7 532.7L1412.8 530.6L1416.2 528.8L1420.0 526.7L1423.1 525.3L1425.6 523.8L1428.2 521.7L1429.5 519.3L1431.3 517.5L1433.0 515.3L1430.9 513.2L1428.2 511.9L1427.2 509.7L1427.0 508.1L1426.5 509.1L1423.9 511.7L1419.6 512.3L1418.3 511.6L1419.0 509.1L1417.9 508.5L1417.4 510.0L1416.6 507.8L1414.5 505.3L1413.5 503.1L1412.8 501.2L1414.2 500.4L1416.2 500.8L1417.6 503.1L1420.5 505.9L1423.9 507.6L1427.0 506.6L1428.5 509.1L1431.6 509.9L1435.9 510.4L1441.0 510.0L1444.6 510.6L1446.1 512.9L1447.8 513.8L1449.5 515.6L1448.7 516.4L1451.2 518.4L1453.8 518.0L1454.8 517.1L1455.1 521.7L1456.0 526.1L1457.2 529.2L1458.6 532.7L1460.6 537.5L1462.3 540.5L1463.2 540.8L1464.4 539.4L1466.1 538.8L1467.1 537.0L1467.9 532.1L1467.8 528.3L1471.2 526.0L1473.4 523.8L1476.0 521.1L1478.9 518.9L1479.4 517.1L1481.4 516.7L1484.5 516.2L1486.2 515.3L1487.7 515.6L1488.4 518.6L1490.5 520.8L1491.8 523.5L1492.0 527.0L1493.7 527.4L1496.1 525.4L1497.5 526.1L1497.8 528.8L1498.5 531.4L1499.2 534.1L1499.0 537.5L1498.7 540.7L1500.7 542.7L1502.2 544.8L1502.6 547.9L1504.0 549.9L1506.0 551.3L1507.5 552.3L1508.7 552.3L1507.5 549.9L1507.4 547.0L1505.5 544.1L1503.3 542.9L1502.1 540.1L1500.4 538.8L1500.2 535.8L1501.6 533.2L1502.4 531.4L1503.3 532.8L1505.5 533.7L1506.7 535.8L1509.2 536.9L1510.1 539.8L1512.7 538.1L1513.5 536.7L1516.8 534.9L1517.6 532.7L1517.3 530.6L1515.7 527.0L1513.0 524.0L1511.5 521.3L1513.0 518.4L1515.2 516.9L1517.8 517.1L1518.6 518.9L1519.3 517.7L1521.5 516.9L1524.6 515.8L1526.0 515.5L1528.9 514.5L1531.4 512.9L1533.3 511.4L1535.0 509.1L1536.2 506.2L1538.3 503.9L1538.8 501.2L1537.4 500.0L1538.9 499.0L1537.9 496.4L1536.2 493.3L1534.5 491.1L1536.2 488.6L1540.0 486.9L1539.8 485.8L1537.4 485.4L1534.8 486.2L1533.8 484.5L1531.9 482.5L1534.5 481.0L1537.4 478.3L1539.1 479.0L1537.9 482.3L1541.7 480.8L1543.2 480.1L1544.6 482.3L1544.2 484.9L1546.8 485.8L1546.6 489.2L1546.5 491.9L1548.7 491.5L1551.1 490.7L1551.9 487.7L1550.4 483.8L1548.5 481.0L1550.2 479.2L1552.4 476.7L1553.8 474.7L1556.2 472.8L1558.7 473.7L1562.2 470.2L1565.6 464.8L1568.5 461.1L1570.5 455.9L1571.0 451.8L1572.1 447.1L1569.8 444.8L1565.6 444.8L1565.1 441.8L1561.8 442.4L1566.4 436.4L1570.7 431.6L1575.0 428.3L1580.1 428.0L1585.2 427.3L1590.3 429.3L1595.4 428.0L1598.0 420.7L1604.0 419.6L1609.1 417.0L1611.6 417.0L1609.1 422.5L1607.4 426.6L1604.0 430.9L1598.8 434.2L1597.1 438.8L1596.5 444.8L1597.1 449.6L1598.3 453.2L1601.1 449.9L1601.7 447.6L1604.0 443.9L1607.4 441.8L1608.2 437.9L1609.6 433.2L1607.4 432.6L1609.9 427.6L1614.2 425.2L1621.0 425.2L1624.4 421.7L1628.7 419.6L1633.8 417.4L1636.4 415.9L1637.2 409.4L1633.8 409.0L1635.5 405.4L1638.1 403.3L1644.9 405.4L1650.0 409.4L1655.7 402.9L1651.8 399.0L1646.6 396.8L1638.1 390.4L1631.3 386.5L1622.7 385.0L1621.9 389.9L1617.6 387.0L1607.4 387.0L1604.0 382.5L1595.4 379.9L1586.9 377.2L1578.4 372.8L1569.8 371.7L1563.0 377.2L1556.2 379.9L1551.9 378.8L1549.4 371.7L1547.6 365.9L1540.8 365.9L1532.3 365.9L1524.6 364.1L1523.8 349.6L1515.2 344.6L1508.9 336.8L1501.6 346.0L1493.0 349.6L1481.1 354.4L1477.7 362.8L1469.1 365.9L1468.3 371.7L1470.8 377.2L1464.0 373.4L1458.9 370.0L1455.5 377.2L1456.3 389.9L1456.3 396.8L1453.8 402.0L1452.1 396.8L1453.8 389.9L1454.6 379.9L1448.7 368.8L1445.2 377.2L1445.2 387.5L1447.8 392.7L1441.8 388.9L1434.2 386.0L1433.3 392.2L1424.8 392.2L1421.4 390.8L1416.2 394.5L1409.4 393.6L1410.3 399.0L1406.0 401.2L1405.1 392.2L1406.0 403.3L1400.0 409.0L1395.8 410.2L1392.3 410.2L1390.3 405.4L1387.2 400.7L1395.8 402.4L1400.9 399.9L1400.0 395.4L1392.3 389.9L1387.2 388.0L1382.1 386.0L1379.5 379.9L1374.8 379.4L1368.4 383.5L1363.3 386.5L1358.2 391.8L1354.8 398.1L1352.2 405.4L1348.8 411.4L1344.6 414.4L1340.3 418.9L1339.4 424.2L1340.3 429.3L1342.8 432.6L1345.4 431.6L1348.8 428.6L1349.2 426.3L1350.0 429.3L1351.0 433.2L1352.7 438.8L1353.1 440.6L1355.3 440.3L1357.9 438.5L1359.1 434.2L1359.9 430.3L1362.5 428.3L1360.4 423.5L1360.4 417.8L1362.5 414.4L1365.9 412.1L1367.6 408.2L1369.0 404.1L1371.9 404.1L1374.1 407.4L1371.9 411.4L1367.6 415.2L1367.3 420.7L1367.6 424.2L1370.2 426.3L1373.6 425.2L1377.8 424.2L1381.2 425.9L1378.7 427.6L1373.6 427.6L1371.0 428.6L1371.3 431.9L1372.5 434.2L1371.9 435.7L1369.5 433.8L1367.3 435.7L1366.7 439.7L1365.0 442.4L1363.3 443.6L1359.9 442.4L1355.3 445.1L1352.2 443.6L1349.7 444.8L1348.0 443.3L1347.3 441.2L1348.5 438.8L1349.3 437.3L1348.8 433.8L1347.1 435.1L1344.9 436.4L1344.7 440.3L1345.6 442.1L1345.9 444.8L1345.4 445.9L1342.8 446.5L1339.4 447.1L1338.8 449.1L1337.4 451.0L1336.4 452.4L1334.0 453.5L1333.5 455.3L1331.2 456.9L1328.9 457.2L1328.2 456.9L1328.3 459.3L1325.8 459.0L1322.9 460.1L1323.6 461.6L1326.1 462.6L1327.5 464.1L1328.9 466.1L1328.9 469.5L1328.0 472.3L1324.4 472.1L1321.0 471.9L1317.2 471.6L1315.2 473.0L1315.9 475.6L1316.1 477.9L1314.9 482.7L1315.9 483.8ZM1321.2 455.6L1324.9 455.1L1328.9 454.0L1333.1 452.9L1333.3 452.1L1332.3 451.8L1333.8 448.8L1331.4 447.6L1331.1 445.9L1330.6 444.5L1328.7 442.4L1328.2 440.3L1327.1 438.8L1325.4 438.8L1326.5 437.9L1327.5 434.2L1324.9 433.5L1323.7 434.2L1325.4 430.6L1322.4 430.6L1321.0 433.8L1321.2 437.3L1321.5 440.6L1322.7 440.3L1322.2 442.4L1324.9 442.1L1325.4 444.5L1326.0 445.6L1325.6 446.8L1323.2 446.8L1322.9 448.2L1323.9 449.6L1322.0 451.0L1324.1 451.5L1325.8 452.1L1325.4 452.6L1323.2 453.2ZM1320.1 449.9L1320.3 446.8L1321.5 443.6L1320.3 441.2L1318.1 440.9L1316.4 443.3L1313.8 444.2L1313.8 446.5L1315.5 447.1L1314.2 449.6L1313.3 451.0L1314.7 451.8L1317.2 451.0ZM1289.9 405.4L1292.5 401.6L1295.9 404.1L1300.2 402.4L1303.6 401.2L1306.0 405.4L1307.7 407.4L1305.3 410.2L1300.2 413.3L1295.9 412.9L1292.2 412.1L1293.4 409.4L1289.9 407.8L1293.4 406.6ZM1206.3 332.8L1214.8 349.6L1218.3 349.6L1228.5 349.6L1233.6 359.7L1237.0 374.5L1238.7 385.0L1243.9 387.5L1239.6 394.5L1239.6 403.3L1242.2 410.6L1245.6 417.0L1249.0 422.5L1254.1 425.9L1256.7 426.3L1258.4 420.7L1260.9 413.3L1262.6 407.4L1267.8 404.1L1274.6 396.8L1283.1 393.2L1289.9 387.5L1292.5 383.5L1289.9 374.5L1293.4 365.9L1296.8 356.4L1298.5 342.3L1296.8 325.8L1300.2 306.1L1288.2 281.5L1262.6 274.2L1237.0 288.2L1225.1 300.5L1214.8 316.5ZM1220.0 419.6L1214.8 417.8L1209.7 415.2L1204.6 409.8L1197.8 409.0L1199.5 405.4L1204.6 405.4L1206.3 399.0L1206.3 392.2L1199.5 386.0L1196.1 384.0L1185.8 385.0L1179.0 379.9L1177.3 368.8L1185.8 364.1L1192.7 364.7L1199.5 370.0L1208.0 377.2L1214.8 383.5L1216.6 389.9L1223.4 396.8L1225.9 400.7L1221.7 407.4L1220.0 413.3ZM1131.2 389.9L1138.0 392.2L1148.3 390.4L1156.8 387.5L1153.4 379.9L1151.7 370.0L1143.2 368.8L1136.3 367.1L1129.5 371.7L1129.5 379.9ZM1117.6 374.5L1121.0 379.4L1126.1 376.7L1131.2 368.8L1133.8 362.8L1126.1 359.7L1119.3 361.6ZM1173.9 353.1L1184.1 359.7L1194.4 359.0L1194.4 352.4L1180.7 344.6L1173.9 347.5ZM1177.3 346.0L1185.8 347.5L1194.4 348.2L1197.8 342.3L1202.9 330.2L1211.4 316.5L1220.0 294.6L1202.9 281.5L1177.3 294.6L1173.9 316.5L1180.7 334.4ZM1131.2 356.4L1143.2 359.7L1151.7 356.4L1150.0 349.6L1143.2 346.0L1132.9 348.2ZM1153.4 356.4L1163.6 356.4L1165.4 349.6L1160.2 345.3L1153.4 347.5ZM1156.8 373.4L1165.4 375.6L1166.2 368.8L1161.9 362.8L1156.8 365.9ZM1167.9 374.5L1176.4 371.7L1176.4 364.1L1168.8 362.8ZM1167.1 334.4L1180.7 332.8L1184.1 316.5L1173.9 306.1L1167.1 316.5ZM1182.4 413.3L1189.2 417.0L1193.5 413.3L1191.8 409.4L1187.5 404.1L1182.4 409.4ZM1229.7 462.1L1235.3 464.1L1239.6 464.6L1241.0 462.1L1239.6 459.8L1238.7 457.5L1235.7 455.9L1236.2 451.5L1233.1 454.5L1231.9 457.2L1229.7 460.6ZM1111.9 453.7L1117.6 455.9L1120.3 460.1L1116.7 459.0ZM1103.9 444.8L1106.1 445.1L1107.3 449.9L1105.1 448.2ZM1067.2 434.2L1071.1 432.9L1070.6 435.7L1067.6 436.4ZM1185.8 516.4L1187.5 514.7L1190.1 514.0L1194.4 514.3L1198.6 516.6L1202.0 518.4L1204.3 519.5L1202.0 520.0L1198.3 520.0L1199.1 518.8L1196.9 517.1L1192.7 516.2L1190.1 515.1L1187.5 516.2ZM1203.8 522.7L1206.3 523.1L1208.5 523.8L1211.4 522.9L1214.2 523.1L1214.2 522.2L1211.4 520.4L1208.0 520.0L1205.6 520.2L1206.8 521.7L1207.2 522.6ZM1197.3 522.9L1200.7 523.1L1200.3 523.8L1197.8 523.8ZM1216.2 522.6L1218.8 522.7L1218.6 523.5L1216.2 523.5ZM1554.3 492.9L1557.0 492.3L1561.3 491.7L1561.6 494.0L1562.7 494.0L1564.5 491.9L1566.8 491.7L1567.8 491.5L1569.5 490.9L1570.3 490.7L1571.4 489.4L1570.9 487.1L1571.5 484.5L1573.2 481.2L1572.4 476.9L1570.3 477.4L1569.8 480.1L1569.5 482.7L1567.3 486.0L1565.2 485.6L1564.4 487.1L1563.0 489.4L1559.6 489.6L1557.0 490.0L1554.8 491.9ZM1570.2 476.9L1571.9 476.0L1571.5 474.4L1575.5 475.6L1579.2 472.6L1578.7 470.4L1575.0 470.0L1572.9 467.3L1572.6 470.9L1572.1 472.8L1570.3 472.8L1569.5 474.9ZM1553.1 493.8L1554.5 493.1L1556.0 494.6L1555.2 498.2L1554.0 499.0L1553.1 498.4L1553.1 496.0L1552.3 495.0ZM1556.7 494.2L1557.9 492.9L1560.4 492.5L1560.1 494.0L1557.9 495.4ZM1573.2 466.3L1575.8 464.1L1574.6 462.3L1575.3 457.7L1577.5 458.5L1575.5 453.2L1575.5 447.6L1574.6 443.9L1573.2 446.2L1572.9 450.4L1573.6 455.9L1573.2 461.1ZM1538.3 510.0L1539.1 511.0L1538.1 514.3L1537.1 516.4L1535.9 514.3L1536.9 511.4ZM1518.6 519.9L1520.3 520.2L1519.5 522.4L1517.8 523.1L1516.4 521.7L1517.4 520.0ZM1467.4 537.9L1469.5 540.1L1470.7 542.7L1469.1 544.1L1467.8 544.4L1467.1 541.9L1467.3 539.3ZM1536.6 522.6L1539.5 522.6L1539.6 526.1L1538.3 527.9L1538.8 530.2L1540.8 530.6L1542.5 532.3L1542.5 533.0L1540.8 532.0L1539.1 531.3L1537.4 531.1L1536.7 529.7L1535.7 527.9L1535.5 526.7L1536.4 526.1ZM1539.1 542.7L1541.7 540.0L1543.4 540.1L1545.1 538.1L1546.5 540.1L1546.8 543.6L1545.1 545.1L1544.7 543.1L1542.5 543.6L1540.8 541.9ZM1543.0 533.2L1545.1 533.2L1545.4 535.8L1544.6 537.5L1543.4 536.7L1543.2 534.9ZM1539.1 534.4L1541.2 534.9L1541.7 537.5L1540.5 538.9L1539.6 537.5L1538.9 536.2ZM1530.9 540.3L1532.3 539.3L1534.8 535.3L1534.3 537.0L1532.3 539.6ZM1536.4 531.6L1538.1 531.8L1537.7 533.5L1537.1 533.0ZM1518.0 551.3L1521.0 550.4L1523.8 549.2L1525.5 547.0L1528.0 545.3L1530.2 542.7L1531.8 543.8L1534.3 545.8L1532.3 547.4L1531.9 549.6L1532.3 551.3L1534.0 553.0L1531.9 553.3L1531.4 556.1L1529.7 557.3L1529.4 559.8L1528.9 561.5L1526.5 561.7L1523.8 560.2L1521.7 560.7L1519.0 559.7L1518.6 557.3L1516.9 555.2L1516.9 553.0ZM1493.5 545.1L1497.3 545.8L1499.3 548.2L1502.1 550.4L1504.1 551.5L1506.7 553.8L1508.1 556.4L1509.2 557.8L1511.8 559.8L1511.6 564.6L1509.4 564.6L1508.1 563.2L1505.5 561.5L1503.3 559.0L1502.1 556.4L1499.9 553.8L1499.0 551.6L1496.4 549.6L1494.7 547.0ZM1510.4 566.3L1512.1 565.0L1516.1 566.2L1519.5 566.5L1520.3 565.6L1523.4 566.5L1526.3 567.9L1526.1 569.6L1522.0 568.9L1517.8 568.1L1514.4 567.9L1512.5 567.4ZM1527.2 568.7L1530.6 568.9L1534.0 568.9L1537.4 569.1L1540.8 568.9L1540.5 569.8L1535.7 570.0L1534.0 569.8L1530.6 570.1L1527.5 569.8ZM1534.0 571.0L1537.1 571.2L1536.0 572.4L1534.3 571.7ZM1541.7 572.4L1543.4 570.5L1547.6 569.1L1546.8 570.1L1544.2 571.9ZM1535.4 553.3L1537.4 552.5L1540.8 553.0L1544.6 551.8L1543.4 554.0L1539.1 553.8L1536.2 554.0L1535.7 556.1L1538.3 556.2L1541.3 555.9L1539.1 557.8L1537.9 558.1L1540.0 560.7L1541.2 562.9L1540.0 564.1L1538.3 562.7L1537.4 559.8L1536.4 560.7L1536.4 564.3L1534.7 564.3L1534.8 560.7L1533.7 559.3L1534.5 556.4ZM1548.5 551.3L1550.2 552.1L1550.5 554.2L1549.4 556.1L1548.7 553.8ZM1549.4 559.8L1554.1 560.0L1553.6 561.0L1549.9 560.7ZM1554.5 556.1L1557.0 555.4L1559.6 556.1L1559.9 559.0L1561.3 560.3L1563.0 558.6L1566.4 557.4L1571.5 559.1L1577.5 561.4L1580.1 564.1L1582.6 565.3L1581.6 566.3L1584.3 570.1L1587.8 572.5L1586.0 572.5L1582.1 571.0L1578.4 568.1L1575.8 569.3L1575.0 570.5L1571.5 570.3L1568.1 568.6L1566.4 569.1L1565.9 567.2L1567.8 566.3L1566.4 564.1L1563.0 562.6L1559.6 561.4L1557.9 561.5L1557.5 560.3L1556.2 559.5L1558.7 558.8L1556.2 558.1L1554.5 557.1ZM1584.0 564.3L1586.9 564.1L1590.3 561.9L1590.8 563.2L1587.8 565.3L1585.2 565.3ZM1525.8 592.8L1530.2 590.6L1534.0 589.5L1538.3 587.7L1539.6 584.5L1541.7 583.3L1544.2 580.2L1547.3 578.5L1549.4 580.2L1551.9 580.4L1552.8 577.1L1554.1 576.0L1557.2 574.3L1561.3 575.7L1564.4 575.7L1563.0 578.0L1562.2 580.6L1565.6 582.4L1569.0 585.0L1571.2 585.0L1572.4 581.5L1572.7 577.1L1574.1 573.1L1575.8 576.7L1575.8 579.2L1578.9 580.6L1579.0 583.3L1580.1 586.8L1581.8 588.3L1584.9 590.1L1586.0 593.2L1588.3 596.0L1591.2 598.8L1592.4 602.6L1593.0 605.7L1592.0 610.4L1590.3 614.0L1589.1 616.1L1587.2 620.6L1586.9 623.8L1583.5 624.7L1580.8 627.3L1578.2 624.7L1575.8 626.7L1571.5 625.1L1569.3 622.3L1568.5 619.8L1567.3 618.1L1566.1 613.6L1564.7 616.1L1562.3 618.3L1560.4 614.4L1558.7 612.6L1554.5 611.4L1551.1 611.6L1545.9 613.0L1542.5 614.4L1538.9 616.3L1535.7 616.5L1532.3 618.5L1528.9 618.3L1527.2 617.1L1528.4 612.4L1527.2 609.0L1526.5 606.1L1524.8 601.6L1524.6 597.8L1524.9 594.1ZM1577.9 630.9L1580.9 631.8L1584.0 631.3L1584.0 634.3L1583.3 636.6L1581.4 637.5L1580.1 637.3L1578.7 634.3ZM1625.6 617.3L1628.4 619.2L1629.2 622.3L1630.4 621.7L1631.3 624.0L1634.7 624.0L1635.5 624.3L1634.5 627.3L1633.0 628.0L1632.8 629.7L1630.1 632.9L1629.2 632.2L1629.9 629.7L1629.6 629.1L1627.5 627.7L1628.9 626.4L1629.2 624.5L1628.7 621.7L1626.2 619.0ZM1625.6 630.4L1628.4 632.0L1627.3 634.7L1625.8 637.3L1626.3 638.0L1623.3 639.2L1622.4 643.1L1620.2 644.8L1618.1 644.8L1615.1 643.3L1616.8 640.4L1618.5 638.5L1621.0 636.6L1623.1 634.7L1624.1 632.7L1624.8 630.9ZM1610.8 589.7L1613.4 591.4L1615.9 593.8L1614.7 593.6L1611.6 591.4ZM1415.0 575.3L1416.6 582.0L1415.4 585.0L1414.2 590.5L1412.0 596.9L1411.1 598.8L1408.6 599.9L1406.0 598.8L1404.8 593.8L1406.5 589.5L1406.0 585.0L1406.8 582.7L1409.9 581.8L1412.5 579.7L1414.2 577.1ZM1418.8 376.7L1420.5 368.8L1423.9 362.8L1426.5 355.1L1433.3 348.2L1441.8 342.3L1447.8 343.1L1443.5 349.6L1436.7 355.1L1431.6 362.8L1428.2 371.7L1429.0 381.4L1422.2 380.9ZM1356.5 345.3L1359.9 345.3L1363.3 338.4L1368.4 330.2L1361.6 318.4L1349.7 319.4L1353.1 334.4ZM1564.7 354.4L1569.8 349.6L1578.4 353.1L1586.9 355.1L1583.5 357.7L1573.2 357.7L1568.1 358.4ZM1635.5 379.9L1639.8 377.2L1642.4 379.9L1638.1 380.9ZM1493.0 325.8L1501.6 334.4L1510.1 331.9L1508.4 321.3L1498.2 311.4ZM1352.1 484.5L1357.5 483.8L1356.7 487.3L1352.2 485.4ZM1344.9 477.9L1347.5 477.9L1347.3 481.9L1345.2 482.3ZM1345.6 473.5L1347.1 473.3L1346.9 476.7L1345.9 476.5ZM1371.0 489.6L1375.8 490.2L1375.6 490.9L1371.2 490.4ZM1386.0 490.9L1390.0 489.4L1388.8 491.1L1386.4 491.7ZM1064.7 519.5L1066.7 520.8L1065.2 521.8L1064.7 520.6ZM1226.8 657.0L1231.9 657.3L1231.1 659.5L1227.6 659.5ZM1422.0 532.8L1423.9 533.0L1423.1 533.5ZM1448.3 650.9L1451.2 651.4L1449.5 652.7ZM1349.7 439.7L1352.4 438.8L1351.9 441.8L1350.0 441.2ZM1361.8 432.9L1363.3 433.2L1362.3 435.7ZM1633.5 584.9L1635.9 585.2L1634.7 586.5L1633.5 585.9ZM1345.4 548.4L1346.1 548.7L1345.6 549.2ZM1658.6 404.9L1661.1 393.2L1667.1 389.9L1669.7 383.5L1678.2 378.3L1685.9 380.9L1694.4 384.0L1704.7 387.0L1714.9 388.4L1721.7 385.0L1726.8 383.0L1732.0 387.5L1738.8 386.0L1749.0 394.5L1751.6 395.9L1761.0 395.4L1762.7 399.9L1769.5 395.4L1778.0 395.4L1781.5 393.2L1783.2 387.5L1780.6 378.8L1783.2 375.1L1786.6 379.9L1788.3 387.0L1790.8 392.2L1795.1 390.8L1798.5 396.3L1800.2 389.9L1805.4 386.5L1806.5 392.2L1806.2 399.0L1801.1 402.4L1797.7 401.6L1798.5 405.4L1795.1 410.6L1790.8 412.9L1786.6 418.9L1784.4 424.2L1784.0 429.3L1787.4 435.7L1791.7 435.7L1795.1 437.3L1800.2 440.9L1804.8 441.5L1805.4 447.6L1807.1 450.4L1807.9 452.4L1810.5 451.8L1810.5 444.8L1809.6 442.7L1813.9 438.8L1814.7 432.6L1812.2 429.3L1813.0 424.2L1812.2 417.4L1816.4 417.8L1819.9 417.8L1823.3 421.7L1825.8 422.5L1826.7 429.3L1830.1 431.6L1832.7 429.3L1834.4 425.2L1835.2 424.9L1839.5 434.2L1841.2 438.8L1842.9 440.3L1846.3 442.7L1847.2 444.8L1850.2 449.9L1848.0 452.1L1845.5 452.4L1842.9 455.3L1837.8 455.1L1832.7 455.3L1830.1 457.7L1827.5 459.8L1825.0 463.1L1826.7 462.6L1829.2 459.5L1831.8 458.2L1835.2 458.5L1835.6 460.6L1833.5 461.3L1834.7 463.6L1834.4 465.6L1836.1 466.1L1839.5 466.6L1841.2 463.6L1842.9 465.6L1841.2 467.8L1836.1 470.0L1833.5 471.9L1832.3 470.9L1833.5 469.0L1835.2 467.3L1832.7 468.0L1831.0 468.5L1828.4 470.2L1825.8 471.6L1824.6 474.2L1825.8 476.3L1823.3 476.9L1819.9 478.1L1819.0 478.8L1819.0 481.2L1817.0 482.5L1816.4 484.1L1815.6 486.6L1816.1 490.2L1813.9 491.7L1812.2 493.1L1810.5 494.4L1807.9 496.4L1806.7 498.0L1806.4 500.0L1807.7 503.9L1808.6 507.2L1808.6 509.1L1807.4 510.4L1805.7 508.3L1804.2 505.3L1804.0 502.9L1801.9 501.0L1799.4 501.6L1796.0 500.4L1792.9 500.6L1792.9 502.8L1790.0 502.4L1785.2 501.6L1783.2 502.8L1779.4 505.5L1779.2 508.9L1778.4 515.3L1779.4 518.9L1781.5 521.7L1784.0 523.1L1788.3 522.4L1790.5 520.9L1791.0 518.0L1794.8 516.9L1797.2 517.5L1796.0 520.8L1795.1 523.8L1793.7 527.0L1795.1 527.4L1798.5 527.2L1801.9 527.6L1803.1 528.6L1802.5 533.2L1802.6 535.8L1804.2 538.2L1807.1 539.6L1809.1 538.6L1811.3 538.6L1813.4 540.1L1813.0 541.9L1811.7 540.7L1809.6 539.4L1808.1 542.2L1805.9 541.7L1803.6 540.5L1802.5 540.0L1800.2 537.9L1798.9 536.0L1796.0 532.3L1794.3 532.0L1790.8 530.7L1787.9 529.7L1784.9 526.9L1781.5 527.6L1777.2 526.5L1774.6 525.3L1771.2 523.5L1767.8 521.7L1765.2 519.1L1765.6 517.1L1763.5 513.8L1760.1 510.0L1758.4 507.4L1756.7 505.1L1753.8 502.9L1752.4 499.0L1749.4 497.4L1749.5 500.0L1752.4 503.9L1754.2 506.8L1755.9 509.7L1757.1 512.1L1758.4 514.0L1757.6 514.5L1754.2 511.0L1753.6 508.7L1750.7 506.4L1749.0 505.3L1750.4 503.5L1747.7 500.2L1745.4 496.0L1743.1 492.9L1739.5 491.9L1737.3 487.5L1736.2 484.9L1734.0 481.2L1733.2 479.2L1733.3 475.6L1733.7 469.7L1733.7 465.6L1732.5 460.1L1735.4 460.6L1736.2 462.8L1735.7 458.5L1732.8 455.9L1728.6 453.2L1726.8 449.1L1723.4 443.3L1721.7 440.3L1717.5 434.2L1714.0 429.3L1710.6 430.3L1706.9 426.6L1701.2 425.9L1696.1 423.5L1691.9 425.2L1686.7 428.3L1689.3 421.7L1685.9 423.9L1682.5 429.3L1681.6 433.2L1677.4 436.4L1672.2 440.0L1667.1 442.4L1664.6 443.0L1668.8 439.4L1672.2 437.3L1675.6 432.6L1676.5 429.9L1673.9 429.9L1668.8 429.3L1668.8 425.9L1663.7 423.5L1662.8 418.9L1665.4 414.4L1670.5 412.9L1670.5 409.4L1667.1 409.4L1662.0 409.4ZM1813.4 540.1L1814.2 541.0L1816.3 538.6L1816.4 536.5L1817.6 535.6L1820.7 535.1L1822.9 533.4L1823.6 534.4L1823.1 536.2L1825.5 534.8L1825.8 533.7L1828.6 535.5L1829.2 536.5L1832.7 536.5L1835.2 537.2L1839.5 536.3L1841.2 538.4L1842.0 540.1L1844.6 541.0L1847.2 543.9L1851.4 544.6L1856.6 546.3L1858.3 547.5L1860.0 551.6L1860.0 554.7L1862.5 555.6L1864.2 555.7L1869.4 558.5L1870.2 559.5L1874.5 559.7L1877.9 559.8L1881.8 562.9L1885.1 563.6L1885.9 567.0L1885.6 570.1L1882.2 573.6L1879.6 577.1L1878.7 580.6L1878.4 585.4L1877.0 589.2L1875.3 593.2L1873.6 595.1L1869.4 595.4L1866.3 596.9L1862.9 599.9L1862.4 603.5L1860.8 606.8L1858.3 610.4L1856.2 612.8L1854.0 616.5L1851.6 618.3L1849.2 618.3L1845.8 616.5L1845.6 617.7L1847.7 619.6L1848.0 621.7L1847.0 624.9L1844.6 626.4L1839.5 627.1L1839.0 630.4L1834.4 631.5L1834.4 635.0L1836.6 635.4L1834.4 637.3L1833.5 640.9L1830.1 643.3L1832.7 647.1L1832.8 648.3L1829.9 652.2L1827.5 654.9L1828.6 659.8L1828.7 661.8L1830.1 664.6L1834.0 666.7L1831.8 668.2L1829.2 669.7L1825.8 668.2L1822.4 665.5L1819.0 661.2L1817.3 656.2L1816.4 649.6L1816.4 645.3L1819.0 640.9L1819.9 636.1L1819.0 633.8L1819.3 629.3L1819.9 623.2L1821.4 619.6L1823.1 614.4L1823.3 608.4L1824.1 603.5L1825.0 598.8L1825.3 593.2L1825.5 588.6L1825.2 586.5L1823.3 584.7L1819.9 582.7L1817.0 581.1L1815.1 578.5L1813.5 575.3L1811.8 571.9L1810.5 568.7L1808.9 566.3L1806.7 565.0L1806.5 562.2L1808.3 560.5L1808.8 558.6L1807.2 558.5L1807.4 556.4L1808.8 554.5L1808.8 553.2L1810.8 552.1L1811.3 550.3L1813.4 548.0L1813.0 545.3L1813.2 543.1L1812.4 542.4ZM1935.2 489.2L1936.3 489.0L1940.2 490.2L1941.9 490.7L1945.3 489.0L1947.3 487.5L1950.4 486.9L1953.8 487.1L1958.1 486.6L1962.0 486.0L1964.1 486.4L1963.2 487.7L1963.6 489.8L1964.1 491.5L1962.5 492.3L1962.7 493.3L1964.4 494.6L1966.6 495.2L1967.8 495.2L1971.2 496.2L1971.8 497.8L1975.2 499.2L1977.7 500.4L1979.4 499.0L1979.4 496.4L1982.0 495.2L1984.6 495.8L1988.0 497.6L1991.4 498.2L1994.8 499.2L1996.5 498.4L1998.2 497.8L2000.4 498.4L2001.6 498.8L2003.7 498.4L2004.9 502.0L2003.7 505.3L2001.6 503.3L2000.8 501.0L2000.9 502.0L2002.5 504.9L2003.3 506.8L2005.0 510.6L2006.1 512.7L2008.3 516.2L2009.0 518.9L2008.8 520.6L2011.0 523.5L2012.4 527.4L2015.3 529.7L2017.8 532.3L2019.2 533.2L2019.2 534.9L2021.2 536.9L2025.5 535.5L2028.9 535.3L2032.7 534.2L2032.5 536.7L2031.5 539.3L2029.8 542.7L2027.2 547.0L2023.8 550.4L2020.4 553.0L2017.8 555.6L2016.1 557.8L2013.9 559.5L2013.1 561.5L2011.9 565.0L2012.7 566.5L2012.5 569.3L2014.4 572.7L2014.6 577.1L2014.8 580.6L2012.7 583.3L2008.4 585.6L2006.7 587.6L2004.9 589.2L2005.5 592.3L2005.9 596.0L2005.5 597.8L2001.6 599.7L2001.3 600.7L2001.4 603.5L2000.8 605.7L1998.2 608.2L1996.5 611.0L1993.9 614.0L1991.4 615.6L1989.2 616.5L1985.4 616.7L1982.8 616.9L1979.4 618.1L1976.9 617.1L1976.5 614.0L1976.4 611.8L1974.8 608.4L1973.5 605.7L1971.2 602.0L1970.0 596.9L1970.0 594.5L1968.2 590.8L1966.6 586.8L1965.4 584.1L1965.4 582.4L1966.1 579.7L1968.2 576.2L1968.9 573.6L1967.8 569.8L1966.5 565.3L1966.1 564.1L1965.4 562.7L1964.1 561.2L1962.0 558.8L1960.7 556.4L1961.3 554.0L1961.7 553.0L1962.0 550.4L1961.9 548.0L1960.5 547.0L1959.5 547.0L1957.2 547.2L1955.5 547.4L1953.8 545.1L1952.8 543.9L1951.1 543.8L1947.3 544.3L1945.3 545.1L1941.9 546.5L1940.2 546.0L1936.8 546.0L1932.5 547.2L1929.9 546.2L1926.9 543.9L1924.0 541.9L1922.8 540.1L1921.9 538.4L1919.7 535.8L1918.0 534.1L1916.8 533.4L1916.6 531.8L1915.4 529.3L1917.1 527.0L1917.5 523.5L1918.0 520.8L1917.1 519.9L1916.3 518.0L1916.5 516.2L1918.0 513.0L1919.7 510.6L1920.6 508.3L1923.1 505.5L1925.7 504.3L1928.2 502.2L1928.7 500.0L1928.6 498.0L1929.9 495.6L1932.3 493.8L1933.7 492.9L1934.5 490.9ZM1929.9 486.6L1932.7 486.2L1934.5 487.5L1935.7 488.8L1937.6 487.3L1941.9 487.1L1944.1 485.4L1945.6 483.0L1944.8 481.2L1946.7 478.3L1949.1 476.9L1950.8 474.9L1950.4 472.8L1952.1 472.1L1954.5 472.6L1956.4 473.0L1958.1 471.4L1960.5 470.0L1962.7 471.1L1963.2 473.5L1966.1 476.0L1968.3 477.4L1969.7 478.3L1971.9 480.1L1972.6 482.5L1972.1 484.5L1973.5 483.6L1974.5 482.3L1973.6 480.8L1974.3 479.0L1976.0 480.3L1976.9 479.9L1976.0 478.5L1972.6 476.0L1970.6 475.6L1968.5 472.1L1966.5 470.2L1966.3 467.8L1968.7 466.8L1968.5 468.5L1970.0 468.0L1971.2 470.4L1973.5 472.1L1976.0 474.2L1978.2 475.8L1978.6 479.0L1979.4 480.8L1981.1 482.7L1981.5 484.9L1982.3 487.1L1983.7 487.7L1984.6 487.7L1984.7 485.8L1986.3 485.1L1985.4 483.4L1984.4 481.7L1984.4 479.0L1985.9 480.1L1986.9 478.1L1989.7 478.1L1990.0 479.4L1991.4 479.2L1990.0 481.2L1991.0 483.4L1991.7 485.6L1992.2 487.1L1993.6 487.3L1995.6 488.3L1997.5 487.1L1999.9 487.7L2002.5 488.6L2004.4 487.1L2006.7 487.3L2006.6 489.8L2006.6 491.9L2005.9 493.1L2005.0 495.4L2004.5 497.2L2003.7 498.4L2004.9 502.0L2004.5 504.9L2005.9 506.8L2008.4 509.7L2010.2 512.5L2012.2 517.1L2014.4 520.8L2017.0 524.4L2018.3 527.9L2019.2 531.8L2019.5 532.8L2022.1 532.7L2027.2 530.6L2030.6 528.8L2034.4 526.7L2037.5 525.3L2040.0 523.8L2042.6 521.7L2043.9 519.3L2045.7 517.5L2047.4 515.3L2045.3 513.2L2042.6 511.9L2041.6 509.7L2041.4 508.1L2040.9 509.1L2038.3 511.7L2034.0 512.3L2032.7 511.6L2033.4 509.1L2032.3 508.5L2031.8 510.0L2031.0 507.8L2028.9 505.3L2027.9 503.1L2027.2 501.2L2028.6 500.4L2030.6 500.8L2032.0 503.1L2034.9 505.9L2038.3 507.6L2041.4 506.6L2042.9 509.1L2046.0 509.9L2050.3 510.4L2055.4 510.0L2059.0 510.6L2060.5 512.9L2062.2 513.8L2063.9 515.6L2063.1 516.4L2065.6 518.4L2068.2 518.0L2069.2 517.1L2069.5 521.7L2070.4 526.1L2071.6 529.2L2073.0 532.7L2075.0 537.5L2076.7 540.5L2077.6 540.8L2078.8 539.4L2080.5 538.8L2081.5 537.0L2082.3 532.1L2082.2 528.3L2085.6 526.0L2087.8 523.8L2090.4 521.1L2093.3 518.9L2093.8 517.1L2095.8 516.7L2098.9 516.2L2100.6 515.3L2102.1 515.6L2102.8 518.6L2104.9 520.8L2106.2 523.5L2106.4 527.0L2108.1 527.4L2110.5 525.4L2111.9 526.1L2112.2 528.8L2112.9 531.4L2113.6 534.1L2113.4 537.5L2113.1 540.7L2115.1 542.7L2116.6 544.8L2117.0 547.9L2118.4 549.9L2120.4 551.3L2121.9 552.3L2123.1 552.3L2121.9 549.9L2121.8 547.0L2119.9 544.1L2117.7 542.9L2116.5 540.1L2114.8 538.8L2114.6 535.8L2116.0 533.2L2116.8 531.4L2117.7 532.8L2119.9 533.7L2121.1 535.8L2123.6 536.9L2124.5 539.8L2127.1 538.1L2127.9 536.7L2131.2 534.9L2132.0 532.7L2131.7 530.6L2130.1 527.0L2127.4 524.0L2125.9 521.3L2127.4 518.4L2129.6 516.9L2132.2 517.1L2133.0 518.9L2133.7 517.7L2135.9 516.9L2139.0 515.8L2140.4 515.5L2143.3 514.5L2145.8 512.9L2147.7 511.4L2149.4 509.1L2150.6 506.2L2152.7 503.9L2153.2 501.2L2151.8 500.0L2153.3 499.0L2152.3 496.4L2150.6 493.3L2148.9 491.1L2150.6 488.6L2154.4 486.9L2154.2 485.8L2151.8 485.4L2149.2 486.2L2148.2 484.5L2146.3 482.5L2148.9 481.0L2151.8 478.3L2153.5 479.0L2152.3 482.3L2156.1 480.8L2157.6 480.1L2159.0 482.3L2158.6 484.9L2161.2 485.8L2161.0 489.2L2160.9 491.9L2163.1 491.5L2165.5 490.7L2166.3 487.7L2164.8 483.8L2162.9 481.0L2164.6 479.2L2166.8 476.7L2168.2 474.7L2170.6 472.8L2173.1 473.7L2176.6 470.2L2180.0 464.8L2182.9 461.1L2184.9 455.9L2185.4 451.8L2186.5 447.1L2184.2 444.8L2180.0 444.8L2179.5 441.8L2176.2 442.4L2180.8 436.4L2185.1 431.6L2189.4 428.3L2194.5 428.0L2199.6 427.3L2204.7 429.3L2209.8 428.0L2212.4 420.7L2218.4 419.6L2223.5 417.0L2226.0 417.0L2223.5 422.5L2221.8 426.6L2218.4 430.9L2213.2 434.2L2211.5 438.8L2210.9 444.8L2211.5 449.6L2212.7 453.2L2215.5 449.9L2216.1 447.6L2218.4 443.9L2221.8 441.8L2222.6 437.9L2224.0 433.2L2221.8 432.6L2224.3 427.6L2228.6 425.2L2235.4 425.2L2238.8 421.7L2243.1 419.6L2248.2 417.4L2250.8 415.9L2251.6 409.4L2248.2 409.0L2249.9 405.4L2252.5 403.3L2259.3 405.4L2264.4 409.4L2270.1 402.9L2266.2 399.0L2261.0 396.8L2252.5 390.4L2245.7 386.5L2237.1 385.0L2236.3 389.9L2232.0 387.0L2221.8 387.0L2218.4 382.5L2209.8 379.9L2201.3 377.2L2192.8 372.8L2184.2 371.7L2177.4 377.2L2170.6 379.9L2166.3 378.8L2163.8 371.7L2162.0 365.9L2155.2 365.9L2146.7 365.9L2139.0 364.1L2138.2 349.6L2129.6 344.6L2123.3 336.8L2116.0 346.0L2107.4 349.6L2095.5 354.4L2092.1 362.8L2083.5 365.9L2082.7 371.7L2085.2 377.2L2078.4 373.4L2073.3 370.0L2069.9 377.2L2070.7 389.9L2070.7 396.8L2068.2 402.0L2066.5 396.8L2068.2 389.9L2069.0 379.9L2063.1 368.8L2059.6 377.2L2059.6 387.5L2062.2 392.7L2056.2 388.9L2048.6 386.0L2047.7 392.2L2039.2 392.2L2035.8 390.8L2030.6 394.5L2023.8 393.6L2024.7 399.0L2020.4 401.2L2019.5 392.2L2020.4 403.3L2014.4 409.0L2010.2 410.2L2006.7 410.2L2004.7 405.4L2001.6 400.7L2010.2 402.4L2015.3 399.9L2014.4 395.4L2006.7 389.9L2001.6 388.0L1996.5 386.0L1993.9 379.9L1989.2 379.4L1982.8 383.5L1977.7 386.5L1972.6 391.8L1969.2 398.1L1966.6 405.4L1963.2 411.4L1959.0 414.4L1954.7 418.9L1953.8 424.2L1954.7 429.3L1957.2 432.6L1959.8 431.6L1963.2 428.6L1963.6 426.3L1964.4 429.3L1965.4 433.2L1967.1 438.8L1967.5 440.6L1969.7 440.3L1972.3 438.5L1973.5 434.2L1974.3 430.3L1976.9 428.3L1974.8 423.5L1974.8 417.8L1976.9 414.4L1980.3 412.1L1982.0 408.2L1983.4 404.1L1986.3 404.1L1988.5 407.4L1986.3 411.4L1982.0 415.2L1981.7 420.7L1982.0 424.2L1984.6 426.3L1988.0 425.2L1992.2 424.2L1995.6 425.9L1993.1 427.6L1988.0 427.6L1985.4 428.6L1985.7 431.9L1986.9 434.2L1986.3 435.7L1983.9 433.8L1981.7 435.7L1981.1 439.7L1979.4 442.4L1977.7 443.6L1974.3 442.4L1969.7 445.1L1966.6 443.6L1964.1 444.8L1962.4 443.3L1961.7 441.2L1962.9 438.8L1963.7 437.3L1963.2 433.8L1961.5 435.1L1959.3 436.4L1959.1 440.3L1960.0 442.1L1960.3 444.8L1959.8 445.9L1957.2 446.5L1953.8 447.1L1953.2 449.1L1951.8 451.0L1950.8 452.4L1948.4 453.5L1947.9 455.3L1945.6 456.9L1943.3 457.2L1942.6 456.9L1942.7 459.3L1940.2 459.0L1937.3 460.1L1938.0 461.6L1940.5 462.6L1941.9 464.1L1943.3 466.1L1943.3 469.5L1942.4 472.3L1938.8 472.1L1935.4 471.9L1931.6 471.6L1929.6 473.0L1930.3 475.6L1930.5 477.9L1929.3 482.7L1930.3 483.8ZM1935.6 455.6L1939.3 455.1L1943.3 454.0L1947.5 452.9L1947.7 452.1L1946.7 451.8L1948.2 448.8L1945.8 447.6L1945.5 445.9L1945.0 444.5L1943.1 442.4L1942.6 440.3L1941.5 438.8L1939.8 438.8L1940.9 437.9L1941.9 434.2L1939.3 433.5L1938.1 434.2L1939.8 430.6L1936.8 430.6L1935.4 433.8L1935.6 437.3L1935.9 440.6L1937.1 440.3L1936.6 442.4L1939.3 442.1L1939.8 444.5L1940.4 445.6L1940.0 446.8L1937.6 446.8L1937.3 448.2L1938.3 449.6L1936.4 451.0L1938.5 451.5L1940.2 452.1L1939.8 452.6L1937.6 453.2ZM1934.5 449.9L1934.7 446.8L1935.9 443.6L1934.7 441.2L1932.5 440.9L1930.8 443.3L1928.2 444.2L1928.2 446.5L1929.9 447.1L1928.6 449.6L1927.7 451.0L1929.1 451.8L1931.6 451.0ZM1904.3 405.4L1906.9 401.6L1910.3 404.1L1914.6 402.4L1918.0 401.2L1920.4 405.4L1922.1 407.4L1919.7 410.2L1914.6 413.3L1910.3 412.9L1906.6 412.1L1907.8 409.4L1904.3 407.8L1907.8 406.6ZM1820.7 332.8L1829.2 349.6L1832.7 349.6L1842.9 349.6L1848.0 359.7L1851.4 374.5L1853.1 385.0L1858.3 387.5L1854.0 394.5L1854.0 403.3L1856.6 410.6L1860.0 417.0L1863.4 422.5L1868.5 425.9L1871.1 426.3L1872.8 420.7L1875.3 413.3L1877.0 407.4L1882.2 404.1L1889.0 396.8L1897.5 393.2L1904.3 387.5L1906.9 383.5L1904.3 374.5L1907.8 365.9L1911.2 356.4L1912.9 342.3L1911.2 325.8L1914.6 306.1L1902.6 281.5L1877.0 274.2L1851.4 288.2L1839.5 300.5L1829.2 316.5ZM1834.4 419.6L1829.2 417.8L1824.1 415.2L1819.0 409.8L1812.2 409.0L1813.9 405.4L1819.0 405.4L1820.7 399.0L1820.7 392.2L1813.9 386.0L1810.5 384.0L1800.2 385.0L1793.4 379.9L1791.7 368.8L1800.2 364.1L1807.1 364.7L1813.9 370.0L1822.4 377.2L1829.2 383.5L1831.0 389.9L1837.8 396.8L1840.3 400.7L1836.1 407.4L1834.4 413.3ZM1745.6 389.9L1752.4 392.2L1762.7 390.4L1771.2 387.5L1767.8 379.9L1766.1 370.0L1757.6 368.8L1750.7 367.1L1743.9 371.7L1743.9 379.9ZM1732.0 374.5L1735.4 379.4L1740.5 376.7L1745.6 368.8L1748.2 362.8L1740.5 359.7L1733.7 361.6ZM1788.3 353.1L1798.5 359.7L1808.8 359.0L1808.8 352.4L1795.1 344.6L1788.3 347.5ZM1791.7 346.0L1800.2 347.5L1808.8 348.2L1812.2 342.3L1817.3 330.2L1825.8 316.5L1834.4 294.6L1817.3 281.5L1791.7 294.6L1788.3 316.5L1795.1 334.4ZM1745.6 356.4L1757.6 359.7L1766.1 356.4L1764.4 349.6L1757.6 346.0L1747.3 348.2ZM1767.8 356.4L1778.0 356.4L1779.8 349.6L1774.6 345.3L1767.8 347.5ZM1771.2 373.4L1779.8 375.6L1780.6 368.8L1776.3 362.8L1771.2 365.9ZM1782.3 374.5L1790.8 371.7L1790.8 364.1L1783.2 362.8ZM1781.5 334.4L1795.1 332.8L1798.5 316.5L1788.3 306.1L1781.5 316.5ZM1796.8 413.3L1803.6 417.0L1807.9 413.3L1806.2 409.4L1801.9 404.1L1796.8 409.4ZM1844.1 462.1L1849.7 464.1L1854.0 464.6L1855.4 462.1L1854.0 459.8L1853.1 457.5L1850.1 455.9L1850.6 451.5L1847.5 454.5L1846.3 457.2L1844.1 460.6ZM1726.3 453.7L1732.0 455.9L1734.7 460.1L1731.1 459.0ZM1718.3 444.8L1720.5 445.1L1721.7 449.9L1719.5 448.2ZM1681.6 434.2L1685.5 432.9L1685.0 435.7L1682.0 436.4ZM1800.2 516.4L1801.9 514.7L1804.5 514.0L1808.8 514.3L1813.0 516.6L1816.4 518.4L1818.7 519.5L1816.4 520.0L1812.7 520.0L1813.5 518.8L1811.3 517.1L1807.1 516.2L1804.5 515.1L1801.9 516.2ZM1818.2 522.7L1820.7 523.1L1822.9 523.8L1825.8 522.9L1828.6 523.1L1828.6 522.2L1825.8 520.4L1822.4 520.0L1820.0 520.2L1821.2 521.7L1821.6 522.6ZM1811.7 522.9L1815.1 523.1L1814.7 523.8L1812.2 523.8ZM1830.6 522.6L1833.2 522.7L1833.0 523.5L1830.6 523.5ZM2168.7 492.9L2171.4 492.3L2175.7 491.7L2176.0 494.0L2177.1 494.0L2178.9 491.9L2181.2 491.7L2182.2 491.5L2183.9 490.9L2184.7 490.7L2185.8 489.4L2185.3 487.1L2185.9 484.5L2187.6 481.2L2186.8 476.9L2184.7 477.4L2184.2 480.1L2183.9 482.7L2181.7 486.0L2179.6 485.6L2178.8 487.1L2177.4 489.4L2174.0 489.6L2171.4 490.0L2169.2 491.9ZM2184.6 476.9L2186.3 476.0L2185.9 474.4L2189.9 475.6L2193.6 472.6L2193.1 470.4L2189.4 470.0L2187.3 467.3L2187.0 470.9L2186.5 472.8L2184.7 472.8L2183.9 474.9ZM2167.5 493.8L2168.9 493.1L2170.4 494.6L2169.6 498.2L2168.4 499.0L2167.5 498.4L2167.5 496.0L2166.7 495.0ZM2171.1 494.2L2172.3 492.9L2174.8 492.5L2174.5 494.0L2172.3 495.4ZM2187.6 466.3L2190.2 464.1L2189.0 462.3L2189.7 457.7L2191.9 458.5L2189.9 453.2L2189.9 447.6L2189.0 443.9L2187.6 446.2L2187.3 450.4L2188.0 455.9L2187.6 461.1ZM2152.7 510.0L2153.5 511.0L2152.5 514.3L2151.5 516.4L2150.3 514.3L2151.3 511.4ZM2133.0 519.9L2134.7 520.2L2133.9 522.4L2132.2 523.1L2130.8 521.7L2131.8 520.0ZM2081.8 537.9L2083.9 540.1L2085.1 542.7L2083.5 544.1L2082.2 544.4L2081.5 541.9L2081.7 539.3ZM2151.0 522.6L2153.9 522.6L2154.0 526.1L2152.7 527.9L2153.2 530.2L2155.2 530.6L2156.9 532.3L2156.9 533.0L2155.2 532.0L2153.5 531.3L2151.8 531.1L2151.1 529.7L2150.1 527.9L2149.9 526.7L2150.8 526.1ZM2153.5 542.7L2156.1 540.0L2157.8 540.1L2159.5 538.1L2160.9 540.1L2161.2 543.6L2159.5 545.1L2159.1 543.1L2156.9 543.6L2155.2 541.9ZM2157.4 533.2L2159.5 533.2L2159.8 535.8L2159.0 537.5L2157.8 536.7L2157.6 534.9ZM2153.5 534.4L2155.6 534.9L2156.1 537.5L2154.9 538.9L2154.0 537.5L2153.3 536.2ZM2145.3 540.3L2146.7 539.3L2149.2 535.3L2148.7 537.0L2146.7 539.6ZM2150.8 531.6L2152.5 531.8L2152.1 533.5L2151.5 533.0ZM2132.4 551.3L2135.4 550.4L2138.2 549.2L2139.9 547.0L2142.4 545.3L2144.6 542.7L2146.2 543.8L2148.7 545.8L2146.7 547.4L2146.3 549.6L2146.7 551.3L2148.4 553.0L2146.3 553.3L2145.8 556.1L2144.1 557.3L2143.8 559.8L2143.3 561.5L2140.9 561.7L2138.2 560.2L2136.1 560.7L2133.4 559.7L2133.0 557.3L2131.3 555.2L2131.3 553.0ZM2107.9 545.1L2111.7 545.8L2113.7 548.2L2116.5 550.4L2118.5 551.5L2121.1 553.8L2122.5 556.4L2123.6 557.8L2126.2 559.8L2126.0 564.6L2123.8 564.6L2122.5 563.2L2119.9 561.5L2117.7 559.0L2116.5 556.4L2114.3 553.8L2113.4 551.6L2110.8 549.6L2109.1 547.0ZM2124.8 566.3L2126.5 565.0L2130.5 566.2L2133.9 566.5L2134.7 565.6L2137.8 566.5L2140.7 567.9L2140.5 569.6L2136.4 568.9L2132.2 568.1L2128.8 567.9L2126.9 567.4ZM2141.6 568.7L2145.0 568.9L2148.4 568.9L2151.8 569.1L2155.2 568.9L2154.9 569.8L2150.1 570.0L2148.4 569.8L2145.0 570.1L2141.9 569.8ZM2148.4 571.0L2151.5 571.2L2150.4 572.4L2148.7 571.7ZM2156.1 572.4L2157.8 570.5L2162.0 569.1L2161.2 570.1L2158.6 571.9ZM2149.8 553.3L2151.8 552.5L2155.2 553.0L2159.0 551.8L2157.8 554.0L2153.5 553.8L2150.6 554.0L2150.1 556.1L2152.7 556.2L2155.7 555.9L2153.5 557.8L2152.3 558.1L2154.4 560.7L2155.6 562.9L2154.4 564.1L2152.7 562.7L2151.8 559.8L2150.8 560.7L2150.8 564.3L2149.1 564.3L2149.2 560.7L2148.1 559.3L2148.9 556.4ZM2162.9 551.3L2164.6 552.1L2164.9 554.2L2163.8 556.1L2163.1 553.8ZM2163.8 559.8L2168.5 560.0L2168.0 561.0L2164.3 560.7ZM2168.9 556.1L2171.4 555.4L2174.0 556.1L2174.3 559.0L2175.7 560.3L2177.4 558.6L2180.8 557.4L2185.9 559.1L2191.9 561.4L2194.5 564.1L2197.0 565.3L2196.0 566.3L2198.7 570.1L2202.2 572.5L2200.4 572.5L2196.5 571.0L2192.8 568.1L2190.2 569.3L2189.4 570.5L2185.9 570.3L2182.5 568.6L2180.8 569.1L2180.3 567.2L2182.2 566.3L2180.8 564.1L2177.4 562.6L2174.0 561.4L2172.3 561.5L2171.9 560.3L2170.6 559.5L2173.1 558.8L2170.6 558.1L2168.9 557.1ZM2198.4 564.3L2201.3 564.1L2204.7 561.9L2205.2 563.2L2202.2 565.3L2199.6 565.3ZM2140.2 592.8L2144.6 590.6L2148.4 589.5L2152.7 587.7L2154.0 584.5L2156.1 583.3L2158.6 580.2L2161.7 578.5L2163.8 580.2L2166.3 580.4L2167.2 577.1L2168.5 576.0L2171.6 574.3L2175.7 575.7L2178.8 575.7L2177.4 578.0L2176.6 580.6L2180.0 582.4L2183.4 585.0L2185.6 585.0L2186.8 581.5L2187.1 577.1L2188.5 573.1L2190.2 576.7L2190.2 579.2L2193.3 580.6L2193.4 583.3L2194.5 586.8L2196.2 588.3L2199.3 590.1L2200.4 593.2L2202.7 596.0L2205.6 598.8L2206.8 602.6L2207.4 605.7L2206.4 610.4L2204.7 614.0L2203.5 616.1L2201.6 620.6L2201.3 623.8L2197.9 624.7L2195.2 627.3L2192.6 624.7L2190.2 626.7L2185.9 625.1L2183.7 622.3L2182.9 619.8L2181.7 618.1L2180.5 613.6L2179.1 616.1L2176.7 618.3L2174.8 614.4L2173.1 612.6L2168.9 611.4L2165.5 611.6L2160.3 613.0L2156.9 614.4L2153.3 616.3L2150.1 616.5L2146.7 618.5L2143.3 618.3L2141.6 617.1L2142.8 612.4L2141.6 609.0L2140.9 606.1L2139.2 601.6L2139.0 597.8L2139.3 594.1ZM2192.3 630.9L2195.3 631.8L2198.4 631.3L2198.4 634.3L2197.7 636.6L2195.8 637.5L2194.5 637.3L2193.1 634.3ZM2240.0 617.3L2242.8 619.2L2243.6 622.3L2244.8 621.7L2245.7 624.0L2249.1 624.0L2249.9 624.3L2248.9 627.3L2247.4 628.0L2247.2 629.7L2244.5 632.9L2243.6 632.2L2244.3 629.7L2244.0 629.1L2241.9 627.7L2243.3 626.4L2243.6 624.5L2243.1 621.7L2240.6 619.0ZM2240.0 630.4L2242.8 632.0L2241.7 634.7L2240.2 637.3L2240.7 638.0L2237.7 639.2L2236.8 643.1L2234.6 644.8L2232.5 644.8L2229.5 643.3L2231.2 640.4L2232.9 638.5L2235.4 636.6L2237.5 634.7L2238.5 632.7L2239.2 630.9ZM2225.2 589.7L2227.8 591.4L2230.3 593.8L2229.1 593.6L2226.0 591.4ZM2029.4 575.3L2031.0 582.0L2029.8 585.0L2028.6 590.5L2026.4 596.9L2025.5 598.8L2023.0 599.9L2020.4 598.8L2019.2 593.8L2020.9 589.5L2020.4 585.0L2021.2 582.7L2024.3 581.8L2026.9 579.7L2028.6 577.1ZM2033.2 376.7L2034.9 368.8L2038.3 362.8L2040.9 355.1L2047.7 348.2L2056.2 342.3L2062.2 343.1L2057.9 349.6L2051.1 355.1L2046.0 362.8L2042.6 371.7L2043.4 381.4L2036.6 380.9ZM1970.9 345.3L1974.3 345.3L1977.7 338.4L1982.8 330.2L1976.0 318.4L1964.1 319.4L1967.5 334.4ZM2179.1 354.4L2184.2 349.6L2192.8 353.1L2201.3 355.1L2197.9 357.7L2187.6 357.7L2182.5 358.4ZM2249.9 379.9L2254.2 377.2L2256.8 379.9L2252.5 380.9ZM2107.4 325.8L2116.0 334.4L2124.5 331.9L2122.8 321.3L2112.6 311.4ZM1966.5 484.5L1971.9 483.8L1971.1 487.3L1966.6 485.4ZM1959.3 477.9L1961.9 477.9L1961.7 481.9L1959.6 482.3ZM1960.0 473.5L1961.5 473.3L1961.3 476.7L1960.3 476.5ZM1985.4 489.6L1990.2 490.2L1990.0 490.9L1985.6 490.4ZM2000.4 490.9L2004.4 489.4L2003.2 491.1L2000.8 491.7ZM1679.1 519.5L1681.1 520.8L1679.6 521.8L1679.1 520.6ZM1841.2 657.0L1846.3 657.3L1845.5 659.5L1842.0 659.5ZM2036.4 532.8L2038.3 533.0L2037.5 533.5ZM2062.7 650.9L2065.6 651.4L2063.9 652.7ZM1964.1 439.7L1966.8 438.8L1966.3 441.8L1964.4 441.2ZM1976.2 432.9L1977.7 433.2L1976.7 435.7ZM2247.9 584.9L2250.3 585.2L2249.1 586.5L2247.9 585.9ZM1959.8 548.4L1960.5 548.7L1960.0 549.2ZM2273.0 404.9L2275.5 393.2L2281.5 389.9L2284.1 383.5L2292.6 378.3L2300.3 380.9L2308.8 384.0L2319.1 387.0L2329.3 388.4L2336.1 385.0L2341.2 383.0L2346.4 387.5L2353.2 386.0L2363.4 394.5L2366.0 395.9L2375.4 395.4L2377.1 399.9L2383.9 395.4L2392.4 395.4L2395.9 393.2L2397.6 387.5L2395.0 378.8L2397.6 375.1L2401.0 379.9L2402.7 387.0L2405.2 392.2L2409.5 390.8L2412.9 396.3L2414.6 389.9L2419.8 386.5L2420.9 392.2L2420.6 399.0L2415.5 402.4L2412.1 401.6L2412.9 405.4L2409.5 410.6L2405.2 412.9L2401.0 418.9L2398.8 424.2L2398.4 429.3L2401.8 435.7L2406.1 435.7L2409.5 437.3L2414.6 440.9L2419.2 441.5L2419.8 447.6L2421.5 450.4L2422.3 452.4L2424.9 451.8L2424.9 444.8L2424.0 442.7L2428.3 438.8L2429.1 432.6L2426.6 429.3L2427.4 424.2L2426.6 417.4L2430.8 417.8L2434.3 417.8L2437.7 421.7L2440.2 422.5L2441.1 429.3L2444.5 431.6L2447.1 429.3L2448.8 425.2L2449.6 424.9L2453.9 434.2L2455.6 438.8L2457.3 440.3L2460.7 442.7L2461.6 444.8L2464.6 449.9L2462.4 452.1L2459.9 452.4L2457.3 455.3L2452.2 455.1L2447.1 455.3L2444.5 457.7L2441.9 459.8L2439.4 463.1L2441.1 462.6L2443.6 459.5L2446.2 458.2L2449.6 458.5L2450.0 460.6L2447.9 461.3L2449.1 463.6L2448.8 465.6L2450.5 466.1L2453.9 466.6L2455.6 463.6L2457.3 465.6L2455.6 467.8L2450.5 470.0L2447.9 471.9L2446.7 470.9L2447.9 469.0L2449.6 467.3L2447.1 468.0L2445.4 468.5L2442.8 470.2L2440.2 471.6L2439.0 474.2L2440.2 476.3L2437.7 476.9L2434.3 478.1L2433.4 478.8L2433.4 481.2L2431.4 482.5L2430.8 484.1L2430.0 486.6L2430.5 490.2L2428.3 491.7L2426.6 493.1L2424.9 494.4L2422.3 496.4L2421.1 498.0L2420.8 500.0L2422.1 503.9L2423.0 507.2L2423.0 509.1L2421.8 510.4L2420.1 508.3L2418.6 505.3L2418.4 502.9L2416.3 501.0L2413.8 501.6L2410.4 500.4L2407.3 500.6L2407.3 502.8L2404.4 502.4L2399.6 501.6L2397.6 502.8L2393.8 505.5L2393.6 508.9L2392.8 515.3L2393.8 518.9L2395.9 521.7L2398.4 523.1L2402.7 522.4L2404.9 520.9L2405.4 518.0L2409.2 516.9L2411.6 517.5L2410.4 520.8L2409.5 523.8L2408.1 527.0L2409.5 527.4L2412.9 527.2L2416.3 527.6L2417.5 528.6L2416.9 533.2L2417.0 535.8L2418.6 538.2L2421.5 539.6L2423.5 538.6L2425.7 538.6L2427.8 540.1L2427.4 541.9L2426.1 540.7L2424.0 539.4L2422.5 542.2L2420.3 541.7L2418.0 540.5L2416.9 540.0L2414.6 537.9L2413.3 536.0L2410.4 532.3L2408.7 532.0L2405.2 530.7L2402.3 529.7L2399.3 526.9L2395.9 527.6L2391.6 526.5L2389.0 525.3L2385.6 523.5L2382.2 521.7L2379.6 519.1L2380.0 517.1L2377.9 513.8L2374.5 510.0L2372.8 507.4L2371.1 505.1L2368.2 502.9L2366.8 499.0L2363.8 497.4L2363.9 500.0L2366.8 503.9L2368.6 506.8L2370.3 509.7L2371.5 512.1L2372.8 514.0L2372.0 514.5L2368.6 511.0L2368.0 508.7L2365.1 506.4L2363.4 505.3L2364.8 503.5L2362.1 500.2L2359.8 496.0L2357.5 492.9L2353.9 491.9L2351.7 487.5L2350.6 484.9L2348.4 481.2L2347.6 479.2L2347.7 475.6L2348.1 469.7L2348.1 465.6L2346.9 460.1L2349.8 460.6L2350.6 462.8L2350.1 458.5L2347.2 455.9L2343.0 453.2L2341.2 449.1L2337.8 443.3L2336.1 440.3L2331.9 434.2L2328.4 429.3L2325.0 430.3L2321.3 426.6L2315.6 425.9L2310.5 423.5L2306.3 425.2L2301.1 428.3L2303.7 421.7L2300.3 423.9L2296.9 429.3L2296.0 433.2L2291.8 436.4L2286.6 440.0L2281.5 442.4L2279.0 443.0L2283.2 439.4L2286.6 437.3L2290.0 432.6L2290.9 429.9L2288.3 429.9L2283.2 429.3L2283.2 425.9L2278.1 423.5L2277.2 418.9L2279.8 414.4L2284.9 412.9L2284.9 409.4L2281.5 409.4L2276.4 409.4ZM2427.8 540.1L2428.6 541.0L2430.7 538.6L2430.8 536.5L2432.0 535.6L2435.1 535.1L2437.3 533.4L2438.0 534.4L2437.5 536.2L2439.9 534.8L2440.2 533.7L2443.0 535.5L2443.6 536.5L2447.1 536.5L2449.6 537.2L2453.9 536.3L2455.6 538.4L2456.4 540.1L2459.0 541.0L2461.6 543.9L2465.8 544.6L2471.0 546.3L2472.7 547.5L2474.4 551.6L2474.4 554.7L2476.9 555.6L2478.6 555.7L2483.8 558.5L2484.6 559.5L2488.9 559.7L2492.3 559.8L2496.2 562.9L2499.5 563.6L2500.3 567.0L2500.0 570.1L2496.6 573.6L2494.0 577.1L2493.1 580.6L2492.8 585.4L2491.4 589.2L2489.7 593.2L2488.0 595.1L2483.8 595.4L2480.7 596.9L2477.3 599.9L2476.8 603.5L2475.2 606.8L2472.7 610.4L2470.6 612.8L2468.4 616.5L2466.0 618.3L2463.6 618.3L2460.2 616.5L2460.0 617.7L2462.1 619.6L2462.4 621.7L2461.4 624.9L2459.0 626.4L2453.9 627.1L2453.4 630.4L2448.8 631.5L2448.8 635.0L2451.0 635.4L2448.8 637.3L2447.9 640.9L2444.5 643.3L2447.1 647.1L2447.2 648.3L2444.3 652.2L2441.9 654.9L2443.0 659.8L2443.1 661.8L2444.5 664.6L2448.4 666.7L2446.2 668.2L2443.6 669.7L2440.2 668.2L2436.8 665.5L2433.4 661.2L2431.7 656.2L2430.8 649.6L2430.8 645.3L2433.4 640.9L2434.3 636.1L2433.4 633.8L2433.7 629.3L2434.3 623.2L2435.8 619.6L2437.5 614.4L2437.7 608.4L2438.5 603.5L2439.4 598.8L2439.7 593.2L2439.9 588.6L2439.6 586.5L2437.7 584.7L2434.3 582.7L2431.4 581.1L2429.5 578.5L2427.9 575.3L2426.2 571.9L2424.9 568.7L2423.3 566.3L2421.1 565.0L2420.9 562.2L2422.7 560.5L2423.2 558.6L2421.6 558.5L2421.8 556.4L2423.2 554.5L2423.2 553.2L2425.2 552.1L2425.7 550.3L2427.8 548.0L2427.4 545.3L2427.6 543.1L2426.8 542.4ZM2549.6 489.2L2550.7 489.0L2554.6 490.2L2556.3 490.7L2559.7 489.0L2561.7 487.5L2564.8 486.9L2568.2 487.1L2572.5 486.6L2576.4 486.0L2578.5 486.4L2577.6 487.7L2578.0 489.8L2578.5 491.5L2576.9 492.3L2577.1 493.3L2578.8 494.6L2581.0 495.2L2582.2 495.2L2585.6 496.2L2586.2 497.8L2589.6 499.2L2592.1 500.4L2593.8 499.0L2593.8 496.4L2596.4 495.2L2599.0 495.8L2602.4 497.6L2605.8 498.2L2609.2 499.2L2610.9 498.4L2612.6 497.8L2614.8 498.4L2616.0 498.8L2618.1 498.4L2619.3 502.0L2618.1 505.3L2616.0 503.3L2615.2 501.0L2615.3 502.0L2616.9 504.9L2617.7 506.8L2619.4 510.6L2620.5 512.7L2622.7 516.2L2623.4 518.9L2623.2 520.6L2625.4 523.5L2626.8 527.4L2629.7 529.7L2632.2 532.3L2633.6 533.2L2633.6 534.9L2635.6 536.9L2639.9 535.5L2643.3 535.3L2647.1 534.2L2646.9 536.7L2645.9 539.3L2644.2 542.7L2641.6 547.0L2638.2 550.4L2634.8 553.0L2632.2 555.6L2630.5 557.8L2628.3 559.5L2627.5 561.5L2626.3 565.0L2627.1 566.5L2626.9 569.3L2628.8 572.7L2629.0 577.1L2629.2 580.6L2627.1 583.3L2622.8 585.6L2621.1 587.6L2619.3 589.2L2619.9 592.3L2620.3 596.0L2619.9 597.8L2616.0 599.7L2615.7 600.7L2615.8 603.5L2615.2 605.7L2612.6 608.2L2610.9 611.0L2608.3 614.0L2605.8 615.6L2603.6 616.5L2599.8 616.7L2597.2 616.9L2593.8 618.1L2591.3 617.1L2590.9 614.0L2590.8 611.8L2589.2 608.4L2587.9 605.7L2585.6 602.0L2584.4 596.9L2584.4 594.5L2582.6 590.8L2581.0 586.8L2579.8 584.1L2579.8 582.4L2580.5 579.7L2582.6 576.2L2583.3 573.6L2582.2 569.8L2580.9 565.3L2580.5 564.1L2579.8 562.7L2578.5 561.2L2576.4 558.8L2575.1 556.4L2575.7 554.0L2576.1 553.0L2576.4 550.4L2576.3 548.0L2574.9 547.0L2573.9 547.0L2571.6 547.2L2569.9 547.4L2568.2 545.1L2567.2 543.9L2565.5 543.8L2561.7 544.3L2559.7 545.1L2556.3 546.5L2554.6 546.0L2551.2 546.0L2546.9 547.2L2544.3 546.2L2541.3 543.9L2538.4 541.9L2537.2 540.1L2536.3 538.4L2534.1 535.8L2532.4 534.1L2531.2 533.4L2531.0 531.8L2529.8 529.3L2531.5 527.0L2531.9 523.5L2532.4 520.8L2531.5 519.9L2530.7 518.0L2530.9 516.2L2532.4 513.0L2534.1 510.6L2535.0 508.3L2537.5 505.5L2540.1 504.3L2542.6 502.2L2543.1 500.0L2543.0 498.0L2544.3 495.6L2546.7 493.8L2548.1 492.9L2548.9 490.9ZM2544.3 486.6L2547.1 486.2L2548.9 487.5L2550.1 488.8L2552.0 487.3L2556.3 487.1L2558.5 485.4L2560.0 483.0L2559.2 481.2L2561.1 478.3L2563.5 476.9L2565.2 474.9L2564.8 472.8L2566.5 472.1L2568.9 472.6L2570.8 473.0L2572.5 471.4L2574.9 470.0L2577.1 471.1L2577.6 473.5L2580.5 476.0L2582.7 477.4L2584.1 478.3L2586.3 480.1L2587.0 482.5L2586.5 484.5L2587.9 483.6L2588.9 482.3L2588.0 480.8L2588.7 479.0L2590.4 480.3L2591.3 479.9L2590.4 478.5L2587.0 476.0L2585.0 475.6L2582.9 472.1L2580.9 470.2L2580.7 467.8L2583.1 466.8L2582.9 468.5L2584.4 468.0L2585.6 470.4L2587.9 472.1L2590.4 474.2L2592.6 475.8L2593.0 479.0L2593.8 480.8L2595.5 482.7L2595.9 484.9L2596.7 487.1L2598.1 487.7L2599.0 487.7L2599.1 485.8L2600.7 485.1L2599.8 483.4L2598.8 481.7L2598.8 479.0L2600.3 480.1L2601.3 478.1L2604.1 478.1L2604.4 479.4L2605.8 479.2L2604.4 481.2L2605.4 483.4L2606.1 485.6L2606.6 487.1L2608.0 487.3L2610.0 488.3L2611.9 487.1L2614.3 487.7L2616.9 488.6L2618.8 487.1L2621.1 487.3L2621.0 489.8L2621.0 491.9L2620.3 493.1L2619.4 495.4L2618.9 497.2L2618.1 498.4L2619.3 502.0L2618.9 504.9L2620.3 506.8L2622.8 509.7L2624.6 512.5L2626.6 517.1L2628.8 520.8L2631.4 524.4L2632.7 527.9L2633.6 531.8L2633.9 532.8L2636.5 532.7L2641.6 530.6L2645.0 528.8L2648.8 526.7L2651.9 525.3L2654.4 523.8L2657.0 521.7L2658.3 519.3L2660.1 517.5L2661.8 515.3L2659.7 513.2L2657.0 511.9L2656.0 509.7L2655.8 508.1L2655.3 509.1L2652.7 511.7L2648.4 512.3L2647.1 511.6L2647.8 509.1L2646.7 508.5L2646.2 510.0L2645.4 507.8L2643.3 505.3L2642.3 503.1L2641.6 501.2L2643.0 500.4L2645.0 500.8L2646.4 503.1L2649.3 505.9L2652.7 507.6L2655.8 506.6L2657.3 509.1L2660.4 509.9L2664.7 510.4L2669.8 510.0L2673.4 510.6L2674.9 512.9L2676.6 513.8L2678.3 515.6L2677.5 516.4L2680.0 518.4L2682.6 518.0L2683.6 517.1L2683.9 521.7L2684.8 526.1L2686.0 529.2L2687.4 532.7L2689.4 537.5L2691.1 540.5L2692.0 540.8L2693.2 539.4L2694.9 538.8L2695.9 537.0L2696.7 532.1L2696.6 528.3L2700.0 526.0L2702.2 523.8L2704.8 521.1L2707.7 518.9L2708.2 517.1L2710.2 516.7L2713.3 516.2L2715.0 515.3L2716.5 515.6L2717.2 518.6L2719.3 520.8L2720.6 523.5L2720.8 527.0L2722.5 527.4L2724.9 525.4L2726.3 526.1L2726.6 528.8L2727.3 531.4L2728.0 534.1L2727.8 537.5L2727.5 540.7L2729.5 542.7L2731.0 544.8L2731.4 547.9L2732.8 549.9L2734.8 551.3L2736.3 552.3L2737.5 552.3L2736.3 549.9L2736.2 547.0L2734.3 544.1L2732.1 542.9L2730.9 540.1L2729.2 538.8L2729.0 535.8L2730.4 533.2L2731.2 531.4L2732.1 532.8L2734.3 533.7L2735.5 535.8L2738.0 536.9L2738.9 539.8L2741.5 538.1L2742.3 536.7L2745.6 534.9L2746.4 532.7L2746.1 530.6L2744.5 527.0L2741.8 524.0L2740.3 521.3L2741.8 518.4L2744.0 516.9L2746.6 517.1L2747.4 518.9L2748.1 517.7L2750.3 516.9L2753.4 515.8L2754.8 515.5L2757.7 514.5L2760.2 512.9L2762.1 511.4L2763.8 509.1L2765.0 506.2L2767.1 503.9L2767.6 501.2L2766.2 500.0L2767.7 499.0L2766.7 496.4L2765.0 493.3L2763.3 491.1L2765.0 488.6L2768.8 486.9L2768.6 485.8L2766.2 485.4L2763.6 486.2L2762.6 484.5L2760.7 482.5L2763.3 481.0L2766.2 478.3L2767.9 479.0L2766.7 482.3L2770.5 480.8L2772.0 480.1L2773.4 482.3L2773.0 484.9L2775.6 485.8L2775.4 489.2L2775.3 491.9L2777.5 491.5L2779.9 490.7L2780.7 487.7L2779.2 483.8L2777.3 481.0L2779.0 479.2L2781.2 476.7L2782.6 474.7L2785.0 472.8L2787.5 473.7L2791.0 470.2L2794.4 464.8L2797.3 461.1L2799.3 455.9L2799.8 451.8L2800.9 447.1L2798.6 444.8L2794.4 444.8L2793.9 441.8L2790.6 442.4L2795.2 436.4L2799.5 431.6L2803.8 428.3L2808.9 428.0L2814.0 427.3L2819.1 429.3L2824.2 428.0L2826.8 420.7L2832.8 419.6L2837.9 417.0L2840.4 417.0L2837.9 422.5L2836.2 426.6L2832.8 430.9L2827.6 434.2L2825.9 438.8L2825.3 444.8L2825.9 449.6L2827.1 453.2L2829.9 449.9L2830.5 447.6L2832.8 443.9L2836.2 441.8L2837.0 437.9L2838.4 433.2L2836.2 432.6L2838.7 427.6L2843.0 425.2L2849.8 425.2L2853.2 421.7L2857.5 419.6L2862.6 417.4L2865.2 415.9L2866.0 409.4L2862.6 409.0L2864.3 405.4L2866.9 403.3L2873.7 405.4L2878.8 409.4L2884.5 402.9L2880.6 399.0L2875.4 396.8L2866.9 390.4L2860.1 386.5L2851.5 385.0L2850.7 389.9L2846.4 387.0L2836.2 387.0L2832.8 382.5L2824.2 379.9L2815.7 377.2L2807.2 372.8L2798.6 371.7L2791.8 377.2L2785.0 379.9L2780.7 378.8L2778.2 371.7L2776.4 365.9L2769.6 365.9L2761.1 365.9L2753.4 364.1L2752.6 349.6L2744.0 344.6L2737.7 336.8L2730.4 346.0L2721.8 349.6L2709.9 354.4L2706.5 362.8L2697.9 365.9L2697.1 371.7L2699.6 377.2L2692.8 373.4L2687.7 370.0L2684.3 377.2L2685.1 389.9L2685.1 396.8L2682.6 402.0L2680.9 396.8L2682.6 389.9L2683.4 379.9L2677.5 368.8L2674.0 377.2L2674.0 387.5L2676.6 392.7L2670.6 388.9L2663.0 386.0L2662.1 392.2L2653.6 392.2L2650.2 390.8L2645.0 394.5L2638.2 393.6L2639.1 399.0L2634.8 401.2L2633.9 392.2L2634.8 403.3L2628.8 409.0L2624.6 410.2L2621.1 410.2L2619.1 405.4L2616.0 400.7L2624.6 402.4L2629.7 399.9L2628.8 395.4L2621.1 389.9L2616.0 388.0L2610.9 386.0L2608.3 379.9L2603.6 379.4L2597.2 383.5L2592.1 386.5L2587.0 391.8L2583.6 398.1L2581.0 405.4L2577.6 411.4L2573.4 414.4L2569.1 418.9L2568.2 424.2L2569.1 429.3L2571.6 432.6L2574.2 431.6L2577.6 428.6L2578.0 426.3L2578.8 429.3L2579.8 433.2L2581.5 438.8L2581.9 440.6L2584.1 440.3L2586.7 438.5L2587.9 434.2L2588.7 430.3L2591.3 428.3L2589.2 423.5L2589.2 417.8L2591.3 414.4L2594.7 412.1L2596.4 408.2L2597.8 404.1L2600.7 404.1L2602.9 407.4L2600.7 411.4L2596.4 415.2L2596.1 420.7L2596.4 424.2L2599.0 426.3L2602.4 425.2L2606.6 424.2L2610.0 425.9L2607.5 427.6L2602.4 427.6L2599.8 428.6L2600.1 431.9L2601.3 434.2L2600.7 435.7L2598.3 433.8L2596.1 435.7L2595.5 439.7L2593.8 442.4L2592.1 443.6L2588.7 442.4L2584.1 445.1L2581.0 443.6L2578.5 444.8L2576.8 443.3L2576.1 441.2L2577.3 438.8L2578.1 437.3L2577.6 433.8L2575.9 435.1L2573.7 436.4L2573.5 440.3L2574.4 442.1L2574.7 444.8L2574.2 445.9L2571.6 446.5L2568.2 447.1L2567.6 449.1L2566.2 451.0L2565.2 452.4L2562.8 453.5L2562.3 455.3L2560.0 456.9L2557.7 457.2L2557.0 456.9L2557.1 459.3L2554.6 459.0L2551.7 460.1L2552.4 461.6L2554.9 462.6L2556.3 464.1L2557.7 466.1L2557.7 469.5L2556.8 472.3L2553.2 472.1L2549.8 471.9L2546.0 471.6L2544.0 473.0L2544.7 475.6L2544.9 477.9L2543.7 482.7L2544.7 483.8ZM2550.0 455.6L2553.7 455.1L2557.7 454.0L2561.9 452.9L2562.1 452.1L2561.1 451.8L2562.6 448.8L2560.2 447.6L2559.9 445.9L2559.4 444.5L2557.5 442.4L2557.0 440.3L2555.9 438.8L2554.2 438.8L2555.3 437.9L2556.3 434.2L2553.7 433.5L2552.5 434.2L2554.2 430.6L2551.2 430.6L2549.8 433.8L2550.0 437.3L2550.3 440.6L2551.5 440.3L2551.0 442.4L2553.7 442.1L2554.2 444.5L2554.8 445.6L2554.4 446.8L2552.0 446.8L2551.7 448.2L2552.7 449.6L2550.8 451.0L2552.9 451.5L2554.6 452.1L2554.2 452.6L2552.0 453.2ZM2548.9 449.9L2549.1 446.8L2550.3 443.6L2549.1 441.2L2546.9 440.9L2545.2 443.3L2542.6 444.2L2542.6 446.5L2544.3 447.1L2543.0 449.6L2542.1 451.0L2543.5 451.8L2546.0 451.0ZM2518.7 405.4L2521.3 401.6L2524.7 404.1L2529.0 402.4L2532.4 401.2L2534.8 405.4L2536.5 407.4L2534.1 410.2L2529.0 413.3L2524.7 412.9L2521.0 412.1L2522.2 409.4L2518.7 407.8L2522.2 406.6ZM2435.1 332.8L2443.6 349.6L2447.1 349.6L2457.3 349.6L2462.4 359.7L2465.8 374.5L2467.5 385.0L2472.7 387.5L2468.4 394.5L2468.4 403.3L2471.0 410.6L2474.4 417.0L2477.8 422.5L2482.9 425.9L2485.5 426.3L2487.2 420.7L2489.7 413.3L2491.4 407.4L2496.6 404.1L2503.4 396.8L2511.9 393.2L2518.7 387.5L2521.3 383.5L2518.7 374.5L2522.2 365.9L2525.6 356.4L2527.3 342.3L2525.6 325.8L2529.0 306.1L2517.0 281.5L2491.4 274.2L2465.8 288.2L2453.9 300.5L2443.6 316.5ZM2448.8 419.6L2443.6 417.8L2438.5 415.2L2433.4 409.8L2426.6 409.0L2428.3 405.4L2433.4 405.4L2435.1 399.0L2435.1 392.2L2428.3 386.0L2424.9 384.0L2414.6 385.0L2407.8 379.9L2406.1 368.8L2414.6 364.1L2421.5 364.7L2428.3 370.0L2436.8 377.2L2443.6 383.5L2445.4 389.9L2452.2 396.8L2454.7 400.7L2450.5 407.4L2448.8 413.3ZM2360.0 389.9L2366.8 392.2L2377.1 390.4L2385.6 387.5L2382.2 379.9L2380.5 370.0L2372.0 368.8L2365.1 367.1L2358.3 371.7L2358.3 379.9ZM2346.4 374.5L2349.8 379.4L2354.9 376.7L2360.0 368.8L2362.6 362.8L2354.9 359.7L2348.1 361.6ZM2402.7 353.1L2412.9 359.7L2423.2 359.0L2423.2 352.4L2409.5 344.6L2402.7 347.5ZM2406.1 346.0L2414.6 347.5L2423.2 348.2L2426.6 342.3L2431.7 330.2L2440.2 316.5L2448.8 294.6L2431.7 281.5L2406.1 294.6L2402.7 316.5L2409.5 334.4ZM2360.0 356.4L2372.0 359.7L2380.5 356.4L2378.8 349.6L2372.0 346.0L2361.7 348.2ZM2382.2 356.4L2392.4 356.4L2394.2 349.6L2389.0 345.3L2382.2 347.5ZM2385.6 373.4L2394.2 375.6L2395.0 368.8L2390.7 362.8L2385.6 365.9ZM2396.7 374.5L2405.2 371.7L2405.2 364.1L2397.6 362.8ZM2395.9 334.4L2409.5 332.8L2412.9 316.5L2402.7 306.1L2395.9 316.5ZM2411.2 413.3L2418.0 417.0L2422.3 413.3L2420.6 409.4L2416.3 404.1L2411.2 409.4ZM2458.5 462.1L2464.1 464.1L2468.4 464.6L2469.8 462.1L2468.4 459.8L2467.5 457.5L2464.5 455.9L2465.0 451.5L2461.9 454.5L2460.7 457.2L2458.5 460.6ZM2340.7 453.7L2346.4 455.9L2349.1 460.1L2345.5 459.0ZM2332.7 444.8L2334.9 445.1L2336.1 449.9L2333.9 448.2ZM2296.0 434.2L2299.9 432.9L2299.4 435.7L2296.4 436.4ZM2414.6 516.4L2416.3 514.7L2418.9 514.0L2423.2 514.3L2427.4 516.6L2430.8 518.4L2433.1 519.5L2430.8 520.0L2427.1 520.0L2427.9 518.8L2425.7 517.1L2421.5 516.2L2418.9 515.1L2416.3 516.2ZM2432.6 522.7L2435.1 523.1L2437.3 523.8L2440.2 522.9L2443.0 523.1L2443.0 522.2L2440.2 520.4L2436.8 520.0L2434.4 520.2L2435.6 521.7L2436.0 522.6ZM2426.1 522.9L2429.5 523.1L2429.1 523.8L2426.6 523.8ZM2445.0 522.6L2447.6 522.7L2447.4 523.5L2445.0 523.5ZM2783.1 492.9L2785.8 492.3L2790.1 491.7L2790.4 494.0L2791.5 494.0L2793.3 491.9L2795.6 491.7L2796.6 491.5L2798.3 490.9L2799.1 490.7L2800.2 489.4L2799.7 487.1L2800.3 484.5L2802.0 481.2L2801.2 476.9L2799.1 477.4L2798.6 480.1L2798.3 482.7L2796.1 486.0L2794.0 485.6L2793.2 487.1L2791.8 489.4L2788.4 489.6L2785.8 490.0L2783.6 491.9ZM2799.0 476.9L2800.7 476.0L2800.3 474.4L2804.3 475.6L2808.0 472.6L2807.5 470.4L2803.8 470.0L2801.7 467.3L2801.4 470.9L2800.9 472.8L2799.1 472.8L2798.3 474.9ZM2781.9 493.8L2783.3 493.1L2784.8 494.6L2784.0 498.2L2782.8 499.0L2781.9 498.4L2781.9 496.0L2781.1 495.0ZM2785.5 494.2L2786.7 492.9L2789.2 492.5L2788.9 494.0L2786.7 495.4ZM2802.0 466.3L2804.6 464.1L2803.4 462.3L2804.1 457.7L2806.3 458.5L2804.3 453.2L2804.3 447.6L2803.4 443.9L2802.0 446.2L2801.7 450.4L2802.4 455.9L2802.0 461.1ZM2767.1 510.0L2767.9 511.0L2766.9 514.3L2765.9 516.4L2764.7 514.3L2765.7 511.4ZM2747.4 519.9L2749.1 520.2L2748.3 522.4L2746.6 523.1L2745.2 521.7L2746.2 520.0ZM2696.2 537.9L2698.3 540.1L2699.5 542.7L2697.9 544.1L2696.6 544.4L2695.9 541.9L2696.1 539.3ZM2765.4 522.6L2768.3 522.6L2768.4 526.1L2767.1 527.9L2767.6 530.2L2769.6 530.6L2771.3 532.3L2771.3 533.0L2769.6 532.0L2767.9 531.3L2766.2 531.1L2765.5 529.7L2764.5 527.9L2764.3 526.7L2765.2 526.1ZM2767.9 542.7L2770.5 540.0L2772.2 540.1L2773.9 538.1L2775.3 540.1L2775.6 543.6L2773.9 545.1L2773.5 543.1L2771.3 543.6L2769.6 541.9ZM2771.8 533.2L2773.9 533.2L2774.2 535.8L2773.4 537.5L2772.2 536.7L2772.0 534.9ZM2767.9 534.4L2770.0 534.9L2770.5 537.5L2769.3 538.9L2768.4 537.5L2767.7 536.2ZM2759.7 540.3L2761.1 539.3L2763.6 535.3L2763.1 537.0L2761.1 539.6ZM2765.2 531.6L2766.9 531.8L2766.5 533.5L2765.9 533.0ZM2746.8 551.3L2749.8 550.4L2752.6 549.2L2754.3 547.0L2756.8 545.3L2759.0 542.7L2760.6 543.8L2763.1 545.8L2761.1 547.4L2760.7 549.6L2761.1 551.3L2762.8 553.0L2760.7 553.3L2760.2 556.1L2758.5 557.3L2758.2 559.8L2757.7 561.5L2755.3 561.7L2752.6 560.2L2750.5 560.7L2747.8 559.7L2747.4 557.3L2745.7 555.2L2745.7 553.0ZM2722.3 545.1L2726.1 545.8L2728.1 548.2L2730.9 550.4L2732.9 551.5L2735.5 553.8L2736.9 556.4L2738.0 557.8L2740.6 559.8L2740.4 564.6L2738.2 564.6L2736.9 563.2L2734.3 561.5L2732.1 559.0L2730.9 556.4L2728.7 553.8L2727.8 551.6L2725.2 549.6L2723.5 547.0ZM2739.2 566.3L2740.9 565.0L2744.9 566.2L2748.3 566.5L2749.1 565.6L2752.2 566.5L2755.1 567.9L2754.9 569.6L2750.8 568.9L2746.6 568.1L2743.2 567.9L2741.3 567.4ZM2756.0 568.7L2759.4 568.9L2762.8 568.9L2766.2 569.1L2769.6 568.9L2769.3 569.8L2764.5 570.0L2762.8 569.8L2759.4 570.1L2756.3 569.8ZM2762.8 571.0L2765.9 571.2L2764.8 572.4L2763.1 571.7ZM2770.5 572.4L2772.2 570.5L2776.4 569.1L2775.6 570.1L2773.0 571.9ZM2764.2 553.3L2766.2 552.5L2769.6 553.0L2773.4 551.8L2772.2 554.0L2767.9 553.8L2765.0 554.0L2764.5 556.1L2767.1 556.2L2770.1 555.9L2767.9 557.8L2766.7 558.1L2768.8 560.7L2770.0 562.9L2768.8 564.1L2767.1 562.7L2766.2 559.8L2765.2 560.7L2765.2 564.3L2763.5 564.3L2763.6 560.7L2762.5 559.3L2763.3 556.4ZM2777.3 551.3L2779.0 552.1L2779.3 554.2L2778.2 556.1L2777.5 553.8ZM2778.2 559.8L2782.9 560.0L2782.4 561.0L2778.7 560.7ZM2783.3 556.1L2785.8 555.4L2788.4 556.1L2788.7 559.0L2790.1 560.3L2791.8 558.6L2795.2 557.4L2800.3 559.1L2806.3 561.4L2808.9 564.1L2811.4 565.3L2810.4 566.3L2813.1 570.1L2816.6 572.5L2814.8 572.5L2810.9 571.0L2807.2 568.1L2804.6 569.3L2803.8 570.5L2800.3 570.3L2796.9 568.6L2795.2 569.1L2794.7 567.2L2796.6 566.3L2795.2 564.1L2791.8 562.6L2788.4 561.4L2786.7 561.5L2786.3 560.3L2785.0 559.5L2787.5 558.8L2785.0 558.1L2783.3 557.1ZM2812.8 564.3L2815.7 564.1L2819.1 561.9L2819.6 563.2L2816.6 565.3L2814.0 565.3ZM2754.6 592.8L2759.0 590.6L2762.8 589.5L2767.1 587.7L2768.4 584.5L2770.5 583.3L2773.0 580.2L2776.1 578.5L2778.2 580.2L2780.7 580.4L2781.6 577.1L2782.9 576.0L2786.0 574.3L2790.1 575.7L2793.2 575.7L2791.8 578.0L2791.0 580.6L2794.4 582.4L2797.8 585.0L2800.0 585.0L2801.2 581.5L2801.5 577.1L2802.9 573.1L2804.6 576.7L2804.6 579.2L2807.7 580.6L2807.8 583.3L2808.9 586.8L2810.6 588.3L2813.7 590.1L2814.8 593.2L2817.1 596.0L2820.0 598.8L2821.2 602.6L2821.8 605.7L2820.8 610.4L2819.1 614.0L2817.9 616.1L2816.0 620.6L2815.7 623.8L2812.3 624.7L2809.6 627.3L2807.0 624.7L2804.6 626.7L2800.3 625.1L2798.1 622.3L2797.3 619.8L2796.1 618.1L2794.9 613.6L2793.5 616.1L2791.1 618.3L2789.2 614.4L2787.5 612.6L2783.3 611.4L2779.9 611.6L2774.7 613.0L2771.3 614.4L2767.7 616.3L2764.5 616.5L2761.1 618.5L2757.7 618.3L2756.0 617.1L2757.2 612.4L2756.0 609.0L2755.3 606.1L2753.6 601.6L2753.4 597.8L2753.7 594.1ZM2806.7 630.9L2809.7 631.8L2812.8 631.3L2812.8 634.3L2812.1 636.6L2810.2 637.5L2808.9 637.3L2807.5 634.3ZM2854.4 617.3L2857.2 619.2L2858.0 622.3L2859.2 621.7L2860.1 624.0L2863.5 624.0L2864.3 624.3L2863.3 627.3L2861.8 628.0L2861.6 629.7L2858.9 632.9L2858.0 632.2L2858.7 629.7L2858.4 629.1L2856.3 627.7L2857.7 626.4L2858.0 624.5L2857.5 621.7L2855.0 619.0ZM2854.4 630.4L2857.2 632.0L2856.1 634.7L2854.6 637.3L2855.1 638.0L2852.1 639.2L2851.2 643.1L2849.0 644.8L2846.9 644.8L2843.9 643.3L2845.6 640.4L2847.3 638.5L2849.8 636.6L2851.9 634.7L2852.9 632.7L2853.6 630.9ZM2839.6 589.7L2842.2 591.4L2844.7 593.8L2843.5 593.6L2840.4 591.4ZM2643.8 575.3L2645.4 582.0L2644.2 585.0L2643.0 590.5L2640.8 596.9L2639.9 598.8L2637.4 599.9L2634.8 598.8L2633.6 593.8L2635.3 589.5L2634.8 585.0L2635.6 582.7L2638.7 581.8L2641.3 579.7L2643.0 577.1ZM2647.6 376.7L2649.3 368.8L2652.7 362.8L2655.3 355.1L2662.1 348.2L2670.6 342.3L2676.6 343.1L2672.3 349.6L2665.5 355.1L2660.4 362.8L2657.0 371.7L2657.8 381.4L2651.0 380.9ZM2585.3 345.3L2588.7 345.3L2592.1 338.4L2597.2 330.2L2590.4 318.4L2578.5 319.4L2581.9 334.4ZM2793.5 354.4L2798.6 349.6L2807.2 353.1L2815.7 355.1L2812.3 357.7L2802.0 357.7L2796.9 358.4ZM2864.3 379.9L2868.6 377.2L2871.2 379.9L2866.9 380.9ZM2721.8 325.8L2730.4 334.4L2738.9 331.9L2737.2 321.3L2727.0 311.4ZM2580.9 484.5L2586.3 483.8L2585.5 487.3L2581.0 485.4ZM2573.7 477.9L2576.3 477.9L2576.1 481.9L2574.0 482.3ZM2574.4 473.5L2575.9 473.3L2575.7 476.7L2574.7 476.5ZM2599.8 489.6L2604.6 490.2L2604.4 490.9L2600.0 490.4ZM2614.8 490.9L2618.8 489.4L2617.6 491.1L2615.2 491.7ZM2293.5 519.5L2295.5 520.8L2294.0 521.8L2293.5 520.6ZM2455.6 657.0L2460.7 657.3L2459.9 659.5L2456.4 659.5ZM2650.8 532.8L2652.7 533.0L2651.9 533.5ZM2677.1 650.9L2680.0 651.4L2678.3 652.7ZM2578.5 439.7L2581.2 438.8L2580.7 441.8L2578.8 441.2ZM2590.6 432.9L2592.1 433.2L2591.1 435.7ZM2862.3 584.9L2864.7 585.2L2863.5 586.5L2862.3 585.9ZM2574.2 548.4L2574.9 548.7L2574.4 549.2Z" fill="#f2efe9" stroke="#e3dcd6" stroke-width="0.6"/><path d="M736.3 725.4L760.3 726.7L771.0 721.4L781.6 724.1L805.7 708.9L813.7 712.1L837.7 721.4L843.0 724.1L859.0 712.1L880.4 705.4L896.4 709.9L907.1 708.9L917.8 712.1L939.1 709.9L955.1 712.1L971.1 720.1L992.5 729.4L1005.8 734.7L1003.2 744.1L997.8 752.1L995.1 762.8L994.6 789.5L1069.9 789.5L1069.9 772.6L1080.6 762.8L1099.2 754.8L1117.9 746.8L1144.6 754.8L1155.3 754.8L1157.9 737.4L1174.0 742.7L1192.6 746.8L1200.6 741.4L1206.0 733.4L1219.3 720.1L1224.7 704.1L1235.3 696.6L1231.3 709.4L1229.5 728.1L1228.7 749.4L1238.0 760.1L1249.2 773.4L1250.0 789.5L1274.8 789.5L1275.4 773.4L1294.1 746.8L1312.7 733.4L1334.1 725.4L1352.8 725.4L1352.8 805.5L736.3 805.5ZM1350.7 725.4L1374.7 726.7L1385.4 721.4L1396.0 724.1L1420.1 708.9L1428.1 712.1L1452.1 721.4L1457.4 724.1L1473.4 712.1L1494.8 705.4L1510.8 709.9L1521.5 708.9L1532.2 712.1L1553.5 709.9L1569.5 712.1L1585.5 720.1L1606.9 729.4L1620.2 734.7L1617.6 744.1L1612.2 752.1L1609.5 762.8L1609.0 789.5L1684.3 789.5L1684.3 772.6L1695.0 762.8L1713.6 754.8L1732.3 746.8L1759.0 754.8L1769.7 754.8L1772.3 737.4L1788.4 742.7L1807.0 746.8L1815.0 741.4L1820.4 733.4L1833.7 720.1L1839.1 704.1L1849.7 696.6L1845.7 709.4L1843.9 728.1L1843.1 749.4L1852.4 760.1L1863.6 773.4L1864.4 789.5L1889.2 789.5L1889.8 773.4L1908.5 746.8L1927.1 733.4L1948.5 725.4L1967.2 725.4L1967.2 805.5L1350.7 805.5ZM1965.1 725.4L1989.1 726.7L1999.8 721.4L2010.4 724.1L2034.5 708.9L2042.5 712.1L2066.5 721.4L2071.8 724.1L2087.8 712.1L2109.2 705.4L2125.2 709.9L2135.9 708.9L2146.6 712.1L2167.9 709.9L2183.9 712.1L2199.9 720.1L2221.3 729.4L2234.6 734.7L2232.0 744.1L2226.6 752.1L2223.9 762.8L2223.4 789.5L2298.7 789.5L2298.7 772.6L2309.4 762.8L2328.0 754.8L2346.7 746.8L2373.4 754.8L2384.1 754.8L2386.7 737.4L2402.8 742.7L2421.4 746.8L2429.4 741.4L2434.8 733.4L2448.1 720.1L2453.5 704.1L2464.1 696.6L2460.1 709.4L2458.3 728.1L2457.5 749.4L2466.8 760.1L2478.0 773.4L2478.8 789.5L2503.6 789.5L2504.2 773.4L2522.9 746.8L2541.5 733.4L2562.9 725.4L2581.6 725.4L2581.6 805.5L1965.1 805.5Z" fill="#f2efe9"/><path d="M1121.0 458.5L1168.4 458.5L1169.4 459.3L1173.9 460.3L1178.2 461.1L1180.2 460.3L1186.2 463.9L1186.7 464.8L1188.4 466.1L1190.1 467.8L1190.3 473.3L1189.2 475.6L1190.1 476.3L1196.1 474.4L1196.1 472.3L1200.3 471.1L1203.4 468.5L1208.9 468.5L1210.9 465.3L1212.8 462.6L1215.2 463.6L1215.2 466.8L1216.6 468.5M1090.3 387.0L1090.3 424.9L1093.7 425.6L1096.2 429.3L1097.9 428.0L1100.5 427.6L1103.1 431.3L1105.6 436.4L1109.0 438.8L1109.0 440.9M1131.0 496.0L1135.0 496.0L1141.5 498.4L1146.2 498.4L1146.2 497.4L1149.1 497.4L1152.6 501.8L1155.1 502.9L1156.0 501.4L1158.5 501.8L1161.1 505.9L1164.8 508.9M1173.5 529.7L1173.9 528.4L1174.2 527.0L1176.4 527.0L1175.6 524.9L1175.6 523.8L1178.7 523.8L1178.7 527.0L1179.2 527.2M1178.7 523.8L1180.2 522.6M1178.7 527.0L1178.5 529.9L1177.1 530.9M1178.5 529.9L1180.7 530.6L1181.1 531.6M1180.2 527.6L1178.7 529.0M1181.2 531.6L1182.9 530.9L1184.6 530.6L1186.3 529.2L1188.7 528.8M1184.6 535.6L1186.3 535.8L1188.1 536.0M1189.4 540.8L1189.6 538.2M1199.0 540.0L1198.6 541.7M1208.4 520.4L1208.5 522.9M1209.2 534.4L1207.2 537.5L1207.5 541.9L1211.4 542.7L1215.7 544.1L1216.0 551.3L1216.9 552.7L1221.7 551.3L1222.5 547.9L1226.8 547.0L1227.3 545.8L1228.5 546.2L1228.8 547.2L1230.5 552.5L1234.5 551.3L1238.7 550.8L1241.3 550.4L1242.8 547.5M1227.3 545.8L1226.3 544.4L1228.5 540.1M1233.3 544.4L1233.1 545.6L1231.9 547.9L1234.5 551.3M1238.7 545.0L1238.1 547.5L1238.7 550.8M1216.9 552.7L1211.8 552.8L1212.5 556.4L1211.4 561.9L1206.7 563.2L1204.9 567.2L1207.7 571.9L1210.4 571.0L1210.4 573.6L1212.3 573.6L1213.7 576.2L1213.1 581.1L1212.3 585.0L1210.8 586.5M1196.4 552.1L1199.5 554.2L1202.4 554.9L1201.9 557.3L1205.5 558.6L1211.4 561.9M1193.9 560.5L1193.9 562.2L1196.1 563.2L1197.3 560.5L1201.2 559.0L1202.4 556.2M1212.3 573.6L1219.5 571.5L1220.0 575.3L1225.4 578.0L1228.2 578.1L1227.6 582.7L1231.4 582.9L1231.9 585.0L1232.8 586.3L1231.6 589.2L1232.1 593.4L1235.7 593.8L1236.2 596.7L1238.2 596.9L1237.7 599.9L1239.1 602.8L1235.8 605.1L1232.6 608.8L1231.6 613.4L1231.2 616.5M1212.3 585.0L1214.0 588.6L1214.5 592.3L1216.2 594.7L1219.6 593.4L1221.2 594.7L1223.9 593.6L1225.4 589.0L1231.6 589.2M1223.9 593.6L1226.8 596.5L1232.6 599.4L1230.9 603.0L1235.3 603.2L1237.7 599.9M1216.2 594.7L1214.0 597.8L1214.3 602.6L1211.9 608.4L1210.9 614.4L1211.4 619.6L1209.7 624.9L1208.4 631.5L1208.5 638.5L1208.0 645.8L1206.3 653.5L1208.0 659.0L1214.2 659.8M1213.8 660.9L1213.8 667.3M1232.6 608.8L1235.5 610.2L1239.8 615.9M1316.1 505.5L1308.7 505.5M1316.1 506.2L1316.1 508.7L1310.4 508.7L1310.4 513.4L1308.7 514.3L1308.7 517.5L1301.9 517.5M1316.1 506.2L1322.7 510.6L1319.8 510.6L1321.5 527.0L1321.9 527.9L1312.1 528.3L1310.4 529.3L1310.1 533.2L1311.3 533.7L1316.4 534.1L1317.2 537.0L1320.7 536.7L1321.5 536.9L1326.1 538.4L1326.3 546.0M1327.5 490.7L1327.8 496.4L1324.9 497.6L1324.1 499.4L1316.1 503.5L1316.1 506.2M1322.7 510.6L1332.9 517.8L1336.4 520.2L1336.5 521.7L1338.1 521.5L1338.1 525.6L1336.9 528.1L1331.2 528.8L1329.7 528.8L1327.5 530.2L1325.8 531.1L1323.6 532.0L1321.5 536.9M1336.4 520.2L1341.1 520.8L1343.7 518.4L1351.4 513.4L1355.1 514.9L1356.5 514.3L1358.2 513.6L1371.9 520.8L1371.9 519.9L1373.6 519.9L1373.6 516.2L1394.0 516.2M1351.4 513.4L1348.0 511.6L1347.1 508.1L1347.8 500.4L1346.4 496.8L1345.1 496.0L1343.7 493.3L1345.1 491.7L1345.6 486.9M1350.5 494.8L1348.5 497.4L1348.0 500.0L1347.8 500.4M1373.6 516.2L1373.6 497.8M1371.9 520.8L1371.9 527.6L1370.0 527.7L1368.4 532.3L1369.3 536.0L1371.3 539.3L1372.7 539.6L1373.9 541.3L1377.7 545.3L1377.8 546.2L1383.5 548.7L1383.8 548.4L1388.1 548.2L1388.9 547.5L1391.1 546.8L1392.2 546.8L1392.3 547.2L1395.9 548.6L1398.3 548.9L1400.5 547.5L1402.4 548.0L1400.9 549.9L1400.9 556.1L1401.7 557.6M1356.5 514.3L1357.4 518.0L1358.0 519.1L1357.4 525.4L1353.9 529.7L1354.1 531.1L1355.1 533.4L1355.8 532.8L1356.7 534.4L1356.5 537.5L1354.6 538.2L1357.4 541.9L1355.6 543.9L1356.0 546.8L1358.5 550.9L1358.4 551.8L1355.6 550.9L1353.6 550.9L1350.2 550.9L1347.6 550.8M1338.1 525.6L1342.3 528.3L1342.8 532.3L1346.3 532.7L1348.0 531.8L1352.2 532.1L1354.1 531.1M1355.1 533.4L1353.6 537.4L1352.6 539.8L1351.0 542.7L1348.8 542.7L1347.6 543.6L1346.1 545.0L1345.6 546.5M1336.9 528.1L1337.2 533.2L1337.0 534.6L1335.5 541.2L1335.5 543.8M1331.2 528.8L1332.6 531.8L1334.7 533.4L1337.0 534.6M1332.4 535.8L1333.6 539.3L1333.6 544.1M1330.9 535.8L1331.8 540.1L1331.8 542.9L1332.9 544.3M1326.1 535.8L1332.4 535.8L1334.7 533.4M1318.1 547.2L1316.7 543.9L1316.4 541.7L1317.2 540.1L1316.7 537.0M1311.3 542.9L1313.3 540.1L1314.9 542.0L1316.4 541.7M1308.2 539.3L1311.3 537.5L1312.8 539.1L1313.3 540.1M1302.4 533.4L1307.5 532.8L1307.5 534.6L1305.3 535.8M1302.2 531.8L1305.3 530.9L1307.3 531.6L1304.4 531.8L1302.2 532.1M1310.1 533.2L1307.5 532.8M1302.7 527.0L1306.2 526.0L1310.1 529.2L1310.4 529.3M1369.3 536.0L1366.7 537.9L1362.6 540.8L1359.1 541.5L1357.4 541.9M1377.7 545.3L1374.1 545.8L1369.1 547.7L1364.2 546.0L1362.6 547.4L1362.6 548.7L1358.5 550.9M1362.6 548.7L1361.3 554.2L1358.5 558.1L1358.2 560.7L1355.5 562.9L1353.3 562.6L1351.4 563.2L1351.0 562.7M1350.2 550.9L1350.2 553.0L1347.3 553.0M1355.6 550.9L1353.4 552.5L1355.6 555.6L1355.5 557.9L1352.2 558.1L1350.7 558.8L1349.8 561.4M1351.7 564.8L1353.4 564.8L1359.2 564.8L1359.9 567.5L1363.3 568.4L1368.1 567.2L1368.4 573.6L1371.9 573.4L1371.9 577.1L1368.4 577.1L1368.4 582.7L1370.8 585.2L1373.9 585.6M1351.0 584.7L1354.8 584.9L1362.5 584.9L1366.7 585.9L1370.8 585.2M1365.0 605.3L1365.0 598.4L1366.7 593.2L1366.7 585.9M1359.1 605.7L1365.0 605.3L1366.2 602.2L1370.2 599.4L1374.6 599.9L1377.0 596.4L1381.1 593.6L1384.3 593.9L1385.3 597.5L1385.3 600.5L1386.9 602.4M1373.9 585.6L1374.1 587.0L1377.8 591.4L1381.1 593.6M1373.9 585.6L1377.0 585.9L1380.2 582.2L1382.8 581.7L1387.0 583.6L1386.9 588.6L1384.3 593.9M1382.8 581.7L1382.4 580.2L1387.6 578.8L1386.7 578.0L1388.1 576.0L1387.7 571.2L1387.0 570.8L1383.8 569.4L1380.2 569.3L1379.4 570.6L1379.9 574.5L1381.8 575.7L1381.8 577.8L1380.4 577.8L1377.3 575.0L1371.9 573.4M1387.6 578.8L1389.8 579.7L1392.2 580.4L1391.1 584.1L1389.4 582.7L1387.0 583.6M1390.0 574.6L1394.0 574.6L1399.8 572.5M1390.5 574.6L1390.0 571.2L1387.0 570.8M1383.5 548.7L1382.1 551.3L1381.4 557.1L1380.4 559.5L1380.9 562.2L1381.6 565.3L1383.5 568.9L1380.2 569.3M1381.4 557.1L1383.0 556.4L1388.8 556.4L1395.1 559.8L1397.8 562.7M1388.8 556.4L1388.9 554.4L1390.6 551.6L1388.9 547.5M1380.4 559.5L1383.5 558.8L1383.0 556.4M1383.5 558.8L1382.8 562.2L1380.9 562.2M1388.1 548.2L1387.2 541.3L1389.1 540.0L1389.4 536.5L1390.6 534.2L1392.7 533.0L1393.0 530.0L1395.6 529.0L1396.6 523.5M1372.7 539.6L1377.0 538.2L1378.7 538.6L1380.4 538.1L1382.1 537.0L1384.3 537.9L1386.2 534.6L1387.6 533.7L1388.8 538.4L1387.2 541.3M1393.0 530.0L1395.1 530.0L1397.5 529.5L1400.5 530.4L1403.3 533.2L1404.5 532.8M1403.3 533.2L1402.1 534.9L1404.1 536.0L1404.8 534.9M1404.1 536.0L1405.3 538.6L1411.1 541.0L1412.8 541.0L1407.7 546.2L1404.3 546.8L1402.4 548.0M1411.1 541.0L1414.5 537.9L1414.5 535.3M1315.9 475.8L1316.9 475.6L1319.6 475.8L1320.3 476.5L1319.1 477.9L1319.0 480.8L1318.1 481.0L1319.0 484.1L1318.3 486.2M1327.8 472.3L1332.1 473.7L1333.8 474.4L1336.4 474.7M1335.2 452.9L1338.1 455.9L1340.8 457.2L1341.8 457.2L1344.9 458.5L1343.9 462.1L1341.1 465.6L1342.5 466.3L1342.8 468.5L1342.7 470.2L1343.7 471.4M1336.7 452.1L1338.2 452.1L1341.0 453.2L1341.1 453.7L1341.3 455.6L1340.8 457.2M1341.1 453.7L1341.1 451.0L1342.8 449.9L1343.2 447.1M1343.9 462.1L1345.6 461.6L1347.3 462.3L1348.8 463.9L1348.6 464.8L1346.3 466.6L1345.2 465.1L1342.8 466.3M1347.3 462.3L1348.8 462.1L1353.1 462.3L1352.7 460.8L1354.5 459.0L1356.5 458.5L1359.7 459.3L1360.1 461.1L1358.4 463.9L1355.8 465.1L1354.3 464.8L1351.6 463.6L1348.6 464.1M1354.3 464.8L1353.8 465.6L1354.3 467.1M1341.8 457.2L1344.9 458.5M1345.6 442.1L1347.8 442.4M1355.1 445.1L1355.5 447.9L1356.0 450.2L1356.5 453.2L1355.3 453.2L1351.7 455.1L1352.2 457.2L1354.5 459.0M1356.5 453.2L1359.7 454.8L1363.0 457.2L1363.2 457.2L1369.3 458.2L1370.0 456.1L1371.9 454.3L1371.2 451.8L1371.0 448.8L1371.7 444.8L1369.8 443.6L1364.7 443.6M1359.7 459.3L1361.6 458.5L1363.2 457.2M1360.1 461.1L1363.0 461.6L1365.9 459.8L1368.6 460.1L1369.3 458.2M1358.4 463.9L1359.2 464.8L1360.9 466.3L1363.0 466.3L1365.5 465.6L1367.1 465.1L1370.0 461.1L1368.6 460.1M1354.3 467.1L1357.0 467.3L1359.2 464.8M1363.0 466.3L1363.3 468.8L1358.2 468.0L1357.9 469.0L1360.9 473.3L1362.5 474.4M1363.3 468.8L1364.0 468.8L1363.7 472.1L1362.5 474.4L1364.0 475.8M1363.7 472.1L1365.5 473.7L1366.1 475.8L1365.9 477.9L1366.7 478.3L1365.5 480.5M1364.0 475.8L1365.0 474.2L1366.1 475.8M1365.5 465.6L1366.4 466.6L1367.6 468.0L1369.5 470.4L1369.1 473.7L1369.1 474.9L1366.1 475.8M1365.9 477.9L1370.0 477.2L1372.7 476.9L1375.8 476.3L1376.3 477.2L1375.3 478.5M1369.1 474.9L1370.0 477.2M1375.8 476.3L1378.7 475.6M1369.5 470.4L1370.2 471.4L1374.4 471.6L1377.0 470.7L1379.7 471.6M1370.0 461.1L1373.4 461.8L1376.3 460.3L1379.0 464.6L1379.0 467.3L1381.6 468.0M1376.3 460.3L1378.3 460.1L1380.7 461.1L1382.3 465.1L1380.2 466.1L1379.0 467.3M1371.9 454.3L1373.6 450.7L1377.8 451.5L1383.1 452.4L1385.2 450.2L1388.9 449.9L1391.5 454.8L1395.8 456.1L1399.3 456.9L1398.7 461.6L1396.1 463.4M1371.2 451.8L1373.6 450.7M1371.0 448.8L1371.7 444.8L1374.9 442.1L1376.3 439.7L1379.0 438.2L1383.6 440.0L1383.5 442.4L1386.7 446.2L1385.2 450.2M1369.8 443.6L1369.8 441.8L1367.3 441.2M1369.8 441.8L1374.9 442.1M1376.3 439.7L1373.4 437.6L1366.9 438.5M1379.0 438.2L1378.2 434.5L1374.1 432.6L1372.4 432.9M1378.2 434.5L1377.7 429.9L1378.9 428.0M1380.2 389.4L1379.4 390.4L1382.1 395.9L1380.4 399.4L1382.3 404.5L1381.4 407.8L1384.8 415.6L1378.3 423.9M1365.9 389.4L1371.3 395.0L1371.2 401.6L1372.0 404.1M1380.2 389.4L1374.9 389.9L1374.9 391.8L1370.2 391.3L1365.9 389.4L1361.8 392.2L1359.4 394.5L1355.6 402.9L1354.8 411.4L1351.6 412.9L1351.7 422.5L1352.4 424.5L1351.0 426.6L1349.8 429.0M1380.2 389.4L1383.5 386.0M1318.3 444.5L1320.1 444.5M1316.9 443.3L1318.3 444.5M1318.6 441.5L1316.9 443.3M1375.8 476.3L1376.3 477.2M1401.7 476.7L1403.9 476.5L1405.1 477.6L1407.4 480.8L1406.7 484.5L1407.4 486.2L1403.3 486.4L1400.4 486.4L1397.1 487.3L1393.5 487.3L1392.7 489.2M1401.7 476.7L1405.0 474.2L1405.7 474.2L1410.1 475.8L1410.3 477.6L1413.8 476.0M1405.1 477.6L1407.7 477.2L1410.3 477.6M1407.4 480.8L1410.3 482.5L1412.8 480.8L1414.4 483.6M1407.7 477.2L1410.3 482.5M1399.2 463.6L1399.3 456.9M1399.0 472.3L1405.7 474.2M1410.1 475.8L1412.6 477.4L1413.8 476.0M1411.1 461.1L1410.3 460.1L1411.8 455.1L1414.0 454.3L1417.6 451.3L1424.8 454.0L1431.1 453.2L1435.7 453.7L1433.3 444.8L1442.7 443.0L1448.7 440.6L1452.4 444.2L1456.3 444.8L1462.0 443.6L1467.4 453.7L1473.2 453.2L1476.5 456.9L1479.9 458.0M1479.9 458.0L1477.7 459.8L1476.8 463.4L1472.6 463.1L1471.4 467.3L1467.4 468.8L1467.8 475.1L1464.9 476.5L1462.1 477.9L1456.5 481.2L1456.9 483.6L1458.7 486.2M1479.9 458.0L1481.1 459.3L1484.5 461.1L1486.2 464.8L1486.0 468.0L1493.7 470.2L1495.4 474.0L1501.6 474.2L1510.1 476.5L1518.6 474.2L1521.7 471.6L1521.9 468.5L1527.2 467.5L1530.1 465.3L1535.5 464.3L1531.9 461.8L1528.2 461.3L1530.1 456.4M1479.9 458.0L1484.0 455.9L1488.6 453.7L1497.0 456.4L1498.7 450.4L1505.3 452.4L1506.7 455.1L1511.8 454.8L1518.6 458.0L1525.5 455.1L1530.1 456.4L1534.5 454.3L1537.1 446.8L1541.7 446.2L1545.9 448.2L1548.5 456.4L1553.8 458.8L1554.5 461.8L1560.8 460.1L1557.9 468.5L1555.0 470.9L1554.5 473.5L1553.8 474.7M1553.8 474.7L1552.3 474.7L1549.4 475.6L1549.7 476.9L1547.5 476.0L1543.2 480.1M1546.1 485.1L1550.0 483.2M1422.9 486.0L1424.8 484.5L1428.2 484.1L1432.1 485.6L1435.3 487.5L1435.3 489.6L1434.2 492.9L1434.7 498.0L1436.4 499.4L1434.8 501.4L1436.0 502.9L1438.1 504.5L1438.8 507.6L1436.4 508.3L1436.0 510.2M1412.8 501.0L1412.3 499.0L1409.4 495.0L1408.4 492.9L1409.7 490.4L1408.6 488.8L1407.4 486.2M1410.3 502.8L1411.8 502.9L1412.3 501.0L1412.8 501.0M1410.3 502.8L1407.2 502.6L1399.8 497.2L1397.8 496.6L1397.1 494.2L1400.9 492.1L1401.4 487.7L1403.3 486.4M1397.8 496.6L1394.0 498.0L1395.8 500.0L1394.9 501.0L1392.5 502.6L1390.6 502.2M1391.7 495.6L1391.7 498.0L1390.6 501.8M1397.1 494.2L1393.7 496.4L1392.0 495.6L1391.7 494.4L1393.4 492.5L1392.3 491.7M1390.8 494.8L1391.7 494.4M1419.6 521.7L1424.8 519.9L1426.0 516.2L1425.1 514.9L1420.7 514.5L1419.0 512.3M1426.0 516.2L1426.5 512.5L1427.2 510.8M1419.6 521.7L1414.2 523.1L1410.1 524.9L1406.3 524.5L1405.0 526.5L1403.9 526.3M1419.6 521.7L1421.5 525.8M1410.3 502.8L1412.3 503.9L1413.5 503.9M1435.3 489.6L1438.4 490.0L1441.0 488.1L1444.4 485.8L1446.6 486.2L1449.2 486.4L1450.7 485.4L1452.9 484.7L1453.1 487.3L1458.7 486.2L1456.9 483.6M1422.9 486.0L1422.7 482.3M1420.5 476.0L1424.3 475.6L1426.5 477.2L1428.2 477.2L1430.9 474.0L1433.3 475.1L1433.5 476.9L1436.5 477.6L1440.8 482.3L1444.4 484.5L1444.4 485.8M1426.5 468.5L1430.9 467.1L1435.0 470.0L1441.7 471.6L1443.7 473.3L1443.5 475.6L1447.0 477.9L1448.7 476.9L1451.2 475.6L1452.1 474.9L1456.3 474.7L1457.5 472.8L1465.7 473.7L1467.8 475.1M1426.5 468.5L1426.5 477.2M1451.2 475.6L1453.3 476.9L1455.8 478.3L1453.8 479.4L1451.2 479.4L1451.9 479.7L1449.2 478.3L1448.7 476.9M1446.6 486.2L1447.6 484.1L1446.4 481.0L1449.2 478.3M1451.2 479.4L1449.5 481.0L1456.5 481.2M1458.7 486.2L1460.3 487.3L1463.7 489.8L1465.6 492.1L1465.2 495.0L1464.7 496.0L1465.7 498.8L1469.3 500.6L1467.6 503.3L1473.1 506.0L1477.2 507.4L1481.3 507.8L1481.3 505.1L1482.5 504.7L1482.8 506.2L1487.9 507.0L1488.1 505.3L1491.3 502.9L1494.9 502.2L1497.0 504.5L1496.4 505.5L1493.4 508.7L1491.7 512.7L1490.1 512.5L1490.3 516.2L1488.9 517.5L1488.4 518.6M1469.3 500.6L1474.3 503.1L1477.7 504.9L1481.3 505.1M1482.5 504.7L1487.4 505.3L1488.1 505.3M1481.3 507.8L1481.3 511.6L1482.8 516.2L1482.8 516.7M1481.3 507.8L1484.2 508.3L1484.2 510.0L1487.9 510.2L1488.6 510.6L1486.5 512.3L1486.5 513.4L1487.4 514.3L1488.4 513.0L1488.9 517.5M1434.8 501.4L1437.6 502.2L1444.1 501.2L1444.2 499.2L1449.2 497.2L1449.2 495.0L1450.9 494.2L1450.4 492.9L1452.2 492.1L1453.1 487.3M1458.7 486.2L1458.0 491.3L1458.0 496.0L1457.0 500.2L1452.1 505.1L1451.0 504.9L1449.5 507.2L1450.7 509.3L1452.1 511.7L1448.3 511.9L1447.3 513.2M1465.2 495.0L1466.6 495.6L1465.6 492.1M1497.0 504.5L1499.3 505.7L1499.2 512.3L1497.3 512.7L1500.7 514.5L1500.2 516.0L1503.6 517.7L1504.5 515.3L1505.2 515.5L1510.6 513.8L1512.8 514.5L1513.0 516.2L1515.2 516.9M1503.6 517.7L1501.7 519.3L1502.4 520.8L1503.6 520.6L1503.3 524.4L1505.2 523.1L1508.4 522.9L1509.6 524.5L1511.1 527.6L1511.0 529.9L1514.4 529.3L1514.5 528.6L1513.5 526.0L1510.4 522.2L1508.2 521.1L1509.9 519.5L1505.3 515.5M1500.2 516.0L1499.7 520.2L1497.8 522.6L1499.7 526.3L1498.5 528.6L1500.2 531.1L1500.2 534.6L1499.3 537.2M1501.7 519.3L1500.7 519.3L1499.7 520.2M1511.0 529.9L1505.8 530.2L1506.5 534.6M1514.4 529.3L1514.5 533.5L1511.5 534.8L1512.1 536.2L1509.2 536.9M1501.7 543.8L1503.4 545.0L1505.2 544.1M1518.0 551.3L1519.5 553.2L1522.0 552.3L1524.9 552.5L1526.8 550.9L1528.2 547.5L1531.6 547.5M1525.6 546.8L1527.2 546.2L1527.7 547.4M1571.5 559.1L1571.5 570.3M1542.5 570.6L1544.2 570.6L1544.2 569.4M1735.4 458.5L1782.8 458.5L1783.8 459.3L1788.3 460.3L1792.6 461.1L1794.6 460.3L1800.6 463.9L1801.1 464.8L1802.8 466.1L1804.5 467.8L1804.7 473.3L1803.6 475.6L1804.5 476.3L1810.5 474.4L1810.5 472.3L1814.7 471.1L1817.8 468.5L1823.3 468.5L1825.3 465.3L1827.2 462.6L1829.6 463.6L1829.6 466.8L1831.0 468.5M1704.7 387.0L1704.7 424.9L1708.1 425.6L1710.6 429.3L1712.3 428.0L1714.9 427.6L1717.5 431.3L1720.0 436.4L1723.4 438.8L1723.4 440.9M1745.4 496.0L1749.4 496.0L1755.9 498.4L1760.6 498.4L1760.6 497.4L1763.5 497.4L1767.0 501.8L1769.5 502.9L1770.4 501.4L1772.9 501.8L1775.5 505.9L1779.2 508.9M1787.9 529.7L1788.3 528.4L1788.6 527.0L1790.8 527.0L1790.0 524.9L1790.0 523.8L1793.1 523.8L1793.1 527.0L1793.6 527.2M1793.1 523.8L1794.6 522.6M1793.1 527.0L1792.9 529.9L1791.5 530.9M1792.9 529.9L1795.1 530.6L1795.5 531.6M1794.6 527.6L1793.1 529.0M1795.6 531.6L1797.3 530.9L1799.0 530.6L1800.7 529.2L1803.1 528.8M1799.0 535.6L1800.7 535.8L1802.5 536.0M1803.8 540.8L1804.0 538.2M1813.4 540.0L1813.0 541.7M1822.8 520.4L1822.9 522.9M1823.6 534.4L1821.6 537.5L1821.9 541.9L1825.8 542.7L1830.1 544.1L1830.4 551.3L1831.3 552.7L1836.1 551.3L1836.9 547.9L1841.2 547.0L1841.7 545.8L1842.9 546.2L1843.2 547.2L1844.9 552.5L1848.9 551.3L1853.1 550.8L1855.7 550.4L1857.2 547.5M1841.7 545.8L1840.7 544.4L1842.9 540.1M1847.7 544.4L1847.5 545.6L1846.3 547.9L1848.9 551.3M1853.1 545.0L1852.5 547.5L1853.1 550.8M1831.3 552.7L1826.2 552.8L1826.9 556.4L1825.8 561.9L1821.1 563.2L1819.3 567.2L1822.1 571.9L1824.8 571.0L1824.8 573.6L1826.7 573.6L1828.1 576.2L1827.5 581.1L1826.7 585.0L1825.2 586.5M1810.8 552.1L1813.9 554.2L1816.8 554.9L1816.3 557.3L1819.9 558.6L1825.8 561.9M1808.3 560.5L1808.3 562.2L1810.5 563.2L1811.7 560.5L1815.6 559.0L1816.8 556.2M1826.7 573.6L1833.9 571.5L1834.4 575.3L1839.8 578.0L1842.6 578.1L1842.0 582.7L1845.8 582.9L1846.3 585.0L1847.2 586.3L1846.0 589.2L1846.5 593.4L1850.1 593.8L1850.6 596.7L1852.6 596.9L1852.1 599.9L1853.5 602.8L1850.2 605.1L1847.0 608.8L1846.0 613.4L1845.6 616.5M1826.7 585.0L1828.4 588.6L1828.9 592.3L1830.6 594.7L1834.0 593.4L1835.6 594.7L1838.3 593.6L1839.8 589.0L1846.0 589.2M1838.3 593.6L1841.2 596.5L1847.0 599.4L1845.3 603.0L1849.7 603.2L1852.1 599.9M1830.6 594.7L1828.4 597.8L1828.7 602.6L1826.3 608.4L1825.3 614.4L1825.8 619.6L1824.1 624.9L1822.8 631.5L1822.9 638.5L1822.4 645.8L1820.7 653.5L1822.4 659.0L1828.6 659.8M1828.2 660.9L1828.2 667.3M1847.0 608.8L1849.9 610.2L1854.2 615.9M1930.5 505.5L1923.1 505.5M1930.5 506.2L1930.5 508.7L1924.8 508.7L1924.8 513.4L1923.1 514.3L1923.1 517.5L1916.3 517.5M1930.5 506.2L1937.1 510.6L1934.2 510.6L1935.9 527.0L1936.3 527.9L1926.5 528.3L1924.8 529.3L1924.5 533.2L1925.7 533.7L1930.8 534.1L1931.6 537.0L1935.1 536.7L1935.9 536.9L1940.5 538.4L1940.7 546.0M1941.9 490.7L1942.2 496.4L1939.3 497.6L1938.5 499.4L1930.5 503.5L1930.5 506.2M1937.1 510.6L1947.3 517.8L1950.8 520.2L1950.9 521.7L1952.5 521.5L1952.5 525.6L1951.3 528.1L1945.6 528.8L1944.1 528.8L1941.9 530.2L1940.2 531.1L1938.0 532.0L1935.9 536.9M1950.8 520.2L1955.5 520.8L1958.1 518.4L1965.8 513.4L1969.5 514.9L1970.9 514.3L1972.6 513.6L1986.3 520.8L1986.3 519.9L1988.0 519.9L1988.0 516.2L2008.4 516.2M1965.8 513.4L1962.4 511.6L1961.5 508.1L1962.2 500.4L1960.8 496.8L1959.5 496.0L1958.1 493.3L1959.5 491.7L1960.0 486.9M1964.9 494.8L1962.9 497.4L1962.4 500.0L1962.2 500.4M1988.0 516.2L1988.0 497.8M1986.3 520.8L1986.3 527.6L1984.4 527.7L1982.8 532.3L1983.7 536.0L1985.7 539.3L1987.1 539.6L1988.3 541.3L1992.1 545.3L1992.2 546.2L1997.9 548.7L1998.2 548.4L2002.5 548.2L2003.3 547.5L2005.5 546.8L2006.6 546.8L2006.7 547.2L2010.3 548.6L2012.7 548.9L2014.9 547.5L2016.8 548.0L2015.3 549.9L2015.3 556.1L2016.1 557.6M1970.9 514.3L1971.8 518.0L1972.4 519.1L1971.8 525.4L1968.3 529.7L1968.5 531.1L1969.5 533.4L1970.2 532.8L1971.1 534.4L1970.9 537.5L1969.0 538.2L1971.8 541.9L1970.0 543.9L1970.4 546.8L1972.9 550.9L1972.8 551.8L1970.0 550.9L1968.0 550.9L1964.6 550.9L1962.0 550.8M1952.5 525.6L1956.7 528.3L1957.2 532.3L1960.7 532.7L1962.4 531.8L1966.6 532.1L1968.5 531.1M1969.5 533.4L1968.0 537.4L1967.0 539.8L1965.4 542.7L1963.2 542.7L1962.0 543.6L1960.5 545.0L1960.0 546.5M1951.3 528.1L1951.6 533.2L1951.4 534.6L1949.9 541.2L1949.9 543.8M1945.6 528.8L1947.0 531.8L1949.1 533.4L1951.4 534.6M1946.8 535.8L1948.0 539.3L1948.0 544.1M1945.3 535.8L1946.2 540.1L1946.2 542.9L1947.3 544.3M1940.5 535.8L1946.8 535.8L1949.1 533.4M1932.5 547.2L1931.1 543.9L1930.8 541.7L1931.6 540.1L1931.1 537.0M1925.7 542.9L1927.7 540.1L1929.3 542.0L1930.8 541.7M1922.6 539.3L1925.7 537.5L1927.2 539.1L1927.7 540.1M1916.8 533.4L1921.9 532.8L1921.9 534.6L1919.7 535.8M1916.6 531.8L1919.7 530.9L1921.7 531.6L1918.8 531.8L1916.6 532.1M1924.5 533.2L1921.9 532.8M1917.1 527.0L1920.6 526.0L1924.5 529.2L1924.8 529.3M1983.7 536.0L1981.1 537.9L1977.0 540.8L1973.5 541.5L1971.8 541.9M1992.1 545.3L1988.5 545.8L1983.5 547.7L1978.6 546.0L1977.0 547.4L1977.0 548.7L1972.9 550.9M1977.0 548.7L1975.7 554.2L1972.9 558.1L1972.6 560.7L1969.9 562.9L1967.7 562.6L1965.8 563.2L1965.4 562.7M1964.6 550.9L1964.6 553.0L1961.7 553.0M1970.0 550.9L1967.8 552.5L1970.0 555.6L1969.9 557.9L1966.6 558.1L1965.1 558.8L1964.2 561.4M1966.1 564.8L1967.8 564.8L1973.6 564.8L1974.3 567.5L1977.7 568.4L1982.5 567.2L1982.8 573.6L1986.3 573.4L1986.3 577.1L1982.8 577.1L1982.8 582.7L1985.2 585.2L1988.3 585.6M1965.4 584.7L1969.2 584.9L1976.9 584.9L1981.1 585.9L1985.2 585.2M1979.4 605.3L1979.4 598.4L1981.1 593.2L1981.1 585.9M1973.5 605.7L1979.4 605.3L1980.6 602.2L1984.6 599.4L1989.0 599.9L1991.4 596.4L1995.5 593.6L1998.7 593.9L1999.7 597.5L1999.7 600.5L2001.3 602.4M1988.3 585.6L1988.5 587.0L1992.2 591.4L1995.5 593.6M1988.3 585.6L1991.4 585.9L1994.6 582.2L1997.2 581.7L2001.4 583.6L2001.3 588.6L1998.7 593.9M1997.2 581.7L1996.8 580.2L2002.0 578.8L2001.1 578.0L2002.5 576.0L2002.1 571.2L2001.4 570.8L1998.2 569.4L1994.6 569.3L1993.8 570.6L1994.3 574.5L1996.2 575.7L1996.2 577.8L1994.8 577.8L1991.7 575.0L1986.3 573.4M2002.0 578.8L2004.2 579.7L2006.6 580.4L2005.5 584.1L2003.8 582.7L2001.4 583.6M2004.4 574.6L2008.4 574.6L2014.2 572.5M2004.9 574.6L2004.4 571.2L2001.4 570.8M1997.9 548.7L1996.5 551.3L1995.8 557.1L1994.8 559.5L1995.3 562.2L1996.0 565.3L1997.9 568.9L1994.6 569.3M1995.8 557.1L1997.4 556.4L2003.2 556.4L2009.5 559.8L2012.2 562.7M2003.2 556.4L2003.3 554.4L2005.0 551.6L2003.3 547.5M1994.8 559.5L1997.9 558.8L1997.4 556.4M1997.9 558.8L1997.2 562.2L1995.3 562.2M2002.5 548.2L2001.6 541.3L2003.5 540.0L2003.8 536.5L2005.0 534.2L2007.1 533.0L2007.4 530.0L2010.0 529.0L2011.0 523.5M1987.1 539.6L1991.4 538.2L1993.1 538.6L1994.8 538.1L1996.5 537.0L1998.7 537.9L2000.6 534.6L2002.0 533.7L2003.2 538.4L2001.6 541.3M2007.4 530.0L2009.5 530.0L2011.9 529.5L2014.9 530.4L2017.7 533.2L2018.9 532.8M2017.7 533.2L2016.5 534.9L2018.5 536.0L2019.2 534.9M2018.5 536.0L2019.7 538.6L2025.5 541.0L2027.2 541.0L2022.1 546.2L2018.7 546.8L2016.8 548.0M2025.5 541.0L2028.9 537.9L2028.9 535.3M1930.3 475.8L1931.3 475.6L1934.0 475.8L1934.7 476.5L1933.5 477.9L1933.4 480.8L1932.5 481.0L1933.4 484.1L1932.7 486.2M1942.2 472.3L1946.5 473.7L1948.2 474.4L1950.8 474.7M1949.6 452.9L1952.5 455.9L1955.2 457.2L1956.2 457.2L1959.3 458.5L1958.3 462.1L1955.5 465.6L1956.9 466.3L1957.2 468.5L1957.1 470.2L1958.1 471.4M1951.1 452.1L1952.6 452.1L1955.4 453.2L1955.5 453.7L1955.7 455.6L1955.2 457.2M1955.5 453.7L1955.5 451.0L1957.2 449.9L1957.6 447.1M1958.3 462.1L1960.0 461.6L1961.7 462.3L1963.2 463.9L1963.0 464.8L1960.7 466.6L1959.6 465.1L1957.2 466.3M1961.7 462.3L1963.2 462.1L1967.5 462.3L1967.1 460.8L1968.9 459.0L1970.9 458.5L1974.1 459.3L1974.5 461.1L1972.8 463.9L1970.2 465.1L1968.7 464.8L1966.0 463.6L1963.0 464.1M1968.7 464.8L1968.2 465.6L1968.7 467.1M1956.2 457.2L1959.3 458.5M1960.0 442.1L1962.2 442.4M1969.5 445.1L1969.9 447.9L1970.4 450.2L1970.9 453.2L1969.7 453.2L1966.1 455.1L1966.6 457.2L1968.9 459.0M1970.9 453.2L1974.1 454.8L1977.4 457.2L1977.6 457.2L1983.7 458.2L1984.4 456.1L1986.3 454.3L1985.6 451.8L1985.4 448.8L1986.1 444.8L1984.2 443.6L1979.1 443.6M1974.1 459.3L1976.0 458.5L1977.6 457.2M1974.5 461.1L1977.4 461.6L1980.3 459.8L1983.0 460.1L1983.7 458.2M1972.8 463.9L1973.6 464.8L1975.3 466.3L1977.4 466.3L1979.9 465.6L1981.5 465.1L1984.4 461.1L1983.0 460.1M1968.7 467.1L1971.4 467.3L1973.6 464.8M1977.4 466.3L1977.7 468.8L1972.6 468.0L1972.3 469.0L1975.3 473.3L1976.9 474.4M1977.7 468.8L1978.4 468.8L1978.1 472.1L1976.9 474.4L1978.4 475.8M1978.1 472.1L1979.9 473.7L1980.5 475.8L1980.3 477.9L1981.1 478.3L1979.9 480.5M1978.4 475.8L1979.4 474.2L1980.5 475.8M1979.9 465.6L1980.8 466.6L1982.0 468.0L1983.9 470.4L1983.5 473.7L1983.5 474.9L1980.5 475.8M1980.3 477.9L1984.4 477.2L1987.1 476.9L1990.2 476.3L1990.7 477.2L1989.7 478.5M1983.5 474.9L1984.4 477.2M1990.2 476.3L1993.1 475.6M1983.9 470.4L1984.6 471.4L1988.8 471.6L1991.4 470.7L1994.1 471.6M1984.4 461.1L1987.8 461.8L1990.7 460.3L1993.4 464.6L1993.4 467.3L1996.0 468.0M1990.7 460.3L1992.7 460.1L1995.1 461.1L1996.7 465.1L1994.6 466.1L1993.4 467.3M1986.3 454.3L1988.0 450.7L1992.2 451.5L1997.5 452.4L1999.6 450.2L2003.3 449.9L2005.9 454.8L2010.2 456.1L2013.7 456.9L2013.1 461.6L2010.5 463.4M1985.6 451.8L1988.0 450.7M1985.4 448.8L1986.1 444.8L1989.3 442.1L1990.7 439.7L1993.4 438.2L1998.0 440.0L1997.9 442.4L2001.1 446.2L1999.6 450.2M1984.2 443.6L1984.2 441.8L1981.7 441.2M1984.2 441.8L1989.3 442.1M1990.7 439.7L1987.8 437.6L1981.3 438.5M1993.4 438.2L1992.6 434.5L1988.5 432.6L1986.8 432.9M1992.6 434.5L1992.1 429.9L1993.3 428.0M1994.6 389.4L1993.8 390.4L1996.5 395.9L1994.8 399.4L1996.7 404.5L1995.8 407.8L1999.2 415.6L1992.7 423.9M1980.3 389.4L1985.7 395.0L1985.6 401.6L1986.4 404.1M1994.6 389.4L1989.3 389.9L1989.3 391.8L1984.6 391.3L1980.3 389.4L1976.2 392.2L1973.8 394.5L1970.0 402.9L1969.2 411.4L1966.0 412.9L1966.1 422.5L1966.8 424.5L1965.4 426.6L1964.2 429.0M1994.6 389.4L1997.9 386.0M1932.7 444.5L1934.5 444.5M1931.3 443.3L1932.7 444.5M1933.0 441.5L1931.3 443.3M1990.2 476.3L1990.7 477.2M2016.1 476.7L2018.3 476.5L2019.5 477.6L2021.8 480.8L2021.1 484.5L2021.8 486.2L2017.7 486.4L2014.8 486.4L2011.5 487.3L2007.9 487.3L2007.1 489.2M2016.1 476.7L2019.4 474.2L2020.1 474.2L2024.5 475.8L2024.7 477.6L2028.2 476.0M2019.5 477.6L2022.1 477.2L2024.7 477.6M2021.8 480.8L2024.7 482.5L2027.2 480.8L2028.8 483.6M2022.1 477.2L2024.7 482.5M2013.6 463.6L2013.7 456.9M2013.4 472.3L2020.1 474.2M2024.5 475.8L2027.0 477.4L2028.2 476.0M2025.5 461.1L2024.7 460.1L2026.2 455.1L2028.4 454.3L2032.0 451.3L2039.2 454.0L2045.5 453.2L2050.1 453.7L2047.7 444.8L2057.1 443.0L2063.1 440.6L2066.8 444.2L2070.7 444.8L2076.4 443.6L2081.8 453.7L2087.6 453.2L2090.9 456.9L2094.3 458.0M2094.3 458.0L2092.1 459.8L2091.2 463.4L2087.0 463.1L2085.8 467.3L2081.8 468.8L2082.2 475.1L2079.3 476.5L2076.5 477.9L2070.9 481.2L2071.3 483.6L2073.1 486.2M2094.3 458.0L2095.5 459.3L2098.9 461.1L2100.6 464.8L2100.4 468.0L2108.1 470.2L2109.8 474.0L2116.0 474.2L2124.5 476.5L2133.0 474.2L2136.1 471.6L2136.3 468.5L2141.6 467.5L2144.5 465.3L2149.9 464.3L2146.3 461.8L2142.6 461.3L2144.5 456.4M2094.3 458.0L2098.4 455.9L2103.0 453.7L2111.4 456.4L2113.1 450.4L2119.7 452.4L2121.1 455.1L2126.2 454.8L2133.0 458.0L2139.9 455.1L2144.5 456.4L2148.9 454.3L2151.5 446.8L2156.1 446.2L2160.3 448.2L2162.9 456.4L2168.2 458.8L2168.9 461.8L2175.2 460.1L2172.3 468.5L2169.4 470.9L2168.9 473.5L2168.2 474.7M2168.2 474.7L2166.7 474.7L2163.8 475.6L2164.1 476.9L2161.9 476.0L2157.6 480.1M2160.5 485.1L2164.4 483.2M2037.3 486.0L2039.2 484.5L2042.6 484.1L2046.5 485.6L2049.7 487.5L2049.7 489.6L2048.6 492.9L2049.1 498.0L2050.8 499.4L2049.2 501.4L2050.4 502.9L2052.5 504.5L2053.2 507.6L2050.8 508.3L2050.4 510.2M2027.2 501.0L2026.7 499.0L2023.8 495.0L2022.8 492.9L2024.1 490.4L2023.0 488.8L2021.8 486.2M2024.7 502.8L2026.2 502.9L2026.7 501.0L2027.2 501.0M2024.7 502.8L2021.6 502.6L2014.2 497.2L2012.2 496.6L2011.5 494.2L2015.3 492.1L2015.8 487.7L2017.7 486.4M2012.2 496.6L2008.4 498.0L2010.2 500.0L2009.3 501.0L2006.9 502.6L2005.0 502.2M2006.1 495.6L2006.1 498.0L2005.0 501.8M2011.5 494.2L2008.1 496.4L2006.4 495.6L2006.1 494.4L2007.8 492.5L2006.7 491.7M2005.2 494.8L2006.1 494.4M2034.0 521.7L2039.2 519.9L2040.4 516.2L2039.5 514.9L2035.1 514.5L2033.4 512.3M2040.4 516.2L2040.9 512.5L2041.6 510.8M2034.0 521.7L2028.6 523.1L2024.5 524.9L2020.7 524.5L2019.4 526.5L2018.3 526.3M2034.0 521.7L2035.9 525.8M2024.7 502.8L2026.7 503.9L2027.9 503.9M2049.7 489.6L2052.8 490.0L2055.4 488.1L2058.8 485.8L2061.0 486.2L2063.6 486.4L2065.1 485.4L2067.3 484.7L2067.5 487.3L2073.1 486.2L2071.3 483.6M2037.3 486.0L2037.1 482.3M2034.9 476.0L2038.7 475.6L2040.9 477.2L2042.6 477.2L2045.3 474.0L2047.7 475.1L2047.9 476.9L2050.9 477.6L2055.2 482.3L2058.8 484.5L2058.8 485.8M2040.9 468.5L2045.3 467.1L2049.4 470.0L2056.1 471.6L2058.1 473.3L2057.9 475.6L2061.4 477.9L2063.1 476.9L2065.6 475.6L2066.5 474.9L2070.7 474.7L2071.9 472.8L2080.1 473.7L2082.2 475.1M2040.9 468.5L2040.9 477.2M2065.6 475.6L2067.7 476.9L2070.2 478.3L2068.2 479.4L2065.6 479.4L2066.3 479.7L2063.6 478.3L2063.1 476.9M2061.0 486.2L2062.0 484.1L2060.8 481.0L2063.6 478.3M2065.6 479.4L2063.9 481.0L2070.9 481.2M2073.1 486.2L2074.7 487.3L2078.1 489.8L2080.0 492.1L2079.6 495.0L2079.1 496.0L2080.1 498.8L2083.7 500.6L2082.0 503.3L2087.5 506.0L2091.6 507.4L2095.7 507.8L2095.7 505.1L2096.9 504.7L2097.2 506.2L2102.3 507.0L2102.5 505.3L2105.7 502.9L2109.3 502.2L2111.4 504.5L2110.8 505.5L2107.8 508.7L2106.1 512.7L2104.5 512.5L2104.7 516.2L2103.3 517.5L2102.8 518.6M2083.7 500.6L2088.7 503.1L2092.1 504.9L2095.7 505.1M2096.9 504.7L2101.8 505.3L2102.5 505.3M2095.7 507.8L2095.7 511.6L2097.2 516.2L2097.2 516.7M2095.7 507.8L2098.6 508.3L2098.6 510.0L2102.3 510.2L2103.0 510.6L2100.9 512.3L2100.9 513.4L2101.8 514.3L2102.8 513.0L2103.3 517.5M2049.2 501.4L2052.0 502.2L2058.5 501.2L2058.6 499.2L2063.6 497.2L2063.6 495.0L2065.3 494.2L2064.8 492.9L2066.6 492.1L2067.5 487.3M2073.1 486.2L2072.4 491.3L2072.4 496.0L2071.4 500.2L2066.5 505.1L2065.4 504.9L2063.9 507.2L2065.1 509.3L2066.5 511.7L2062.7 511.9L2061.7 513.2M2079.6 495.0L2081.0 495.6L2080.0 492.1M2111.4 504.5L2113.7 505.7L2113.6 512.3L2111.7 512.7L2115.1 514.5L2114.6 516.0L2118.0 517.7L2118.9 515.3L2119.6 515.5L2125.0 513.8L2127.2 514.5L2127.4 516.2L2129.6 516.9M2118.0 517.7L2116.1 519.3L2116.8 520.8L2118.0 520.6L2117.7 524.4L2119.6 523.1L2122.8 522.9L2124.0 524.5L2125.5 527.6L2125.4 529.9L2128.8 529.3L2128.9 528.6L2127.9 526.0L2124.8 522.2L2122.6 521.1L2124.3 519.5L2119.7 515.5M2114.6 516.0L2114.1 520.2L2112.2 522.6L2114.1 526.3L2112.9 528.6L2114.6 531.1L2114.6 534.6L2113.7 537.2M2116.1 519.3L2115.1 519.3L2114.1 520.2M2125.4 529.9L2120.2 530.2L2120.9 534.6M2128.8 529.3L2128.9 533.5L2125.9 534.8L2126.5 536.2L2123.6 536.9M2116.1 543.8L2117.8 545.0L2119.6 544.1M2132.4 551.3L2133.9 553.2L2136.4 552.3L2139.3 552.5L2141.2 550.9L2142.6 547.5L2146.0 547.5M2140.0 546.8L2141.6 546.2L2142.1 547.4M2185.9 559.1L2185.9 570.3M2156.9 570.6L2158.6 570.6L2158.6 569.4M2349.8 458.5L2397.2 458.5L2398.2 459.3L2402.7 460.3L2407.0 461.1L2409.0 460.3L2415.0 463.9L2415.5 464.8L2417.2 466.1L2418.9 467.8L2419.1 473.3L2418.0 475.6L2418.9 476.3L2424.9 474.4L2424.9 472.3L2429.1 471.1L2432.2 468.5L2437.7 468.5L2439.7 465.3L2441.6 462.6L2444.0 463.6L2444.0 466.8L2445.4 468.5M2319.1 387.0L2319.1 424.9L2322.5 425.6L2325.0 429.3L2326.7 428.0L2329.3 427.6L2331.9 431.3L2334.4 436.4L2337.8 438.8L2337.8 440.9M2359.8 496.0L2363.8 496.0L2370.3 498.4L2375.0 498.4L2375.0 497.4L2377.9 497.4L2381.4 501.8L2383.9 502.9L2384.8 501.4L2387.3 501.8L2389.9 505.9L2393.6 508.9M2402.3 529.7L2402.7 528.4L2403.0 527.0L2405.2 527.0L2404.4 524.9L2404.4 523.8L2407.5 523.8L2407.5 527.0L2408.0 527.2M2407.5 523.8L2409.0 522.6M2407.5 527.0L2407.3 529.9L2405.9 530.9M2407.3 529.9L2409.5 530.6L2409.9 531.6M2409.0 527.6L2407.5 529.0M2410.0 531.6L2411.7 530.9L2413.4 530.6L2415.1 529.2L2417.5 528.8M2413.4 535.6L2415.1 535.8L2416.9 536.0M2418.2 540.8L2418.4 538.2M2427.8 540.0L2427.4 541.7M2437.2 520.4L2437.3 522.9M2438.0 534.4L2436.0 537.5L2436.3 541.9L2440.2 542.7L2444.5 544.1L2444.8 551.3L2445.7 552.7L2450.5 551.3L2451.3 547.9L2455.6 547.0L2456.1 545.8L2457.3 546.2L2457.6 547.2L2459.3 552.5L2463.3 551.3L2467.5 550.8L2470.1 550.4L2471.6 547.5M2456.1 545.8L2455.1 544.4L2457.3 540.1M2462.1 544.4L2461.9 545.6L2460.7 547.9L2463.3 551.3M2467.5 545.0L2466.9 547.5L2467.5 550.8M2445.7 552.7L2440.6 552.8L2441.3 556.4L2440.2 561.9L2435.5 563.2L2433.7 567.2L2436.5 571.9L2439.2 571.0L2439.2 573.6L2441.1 573.6L2442.5 576.2L2441.9 581.1L2441.1 585.0L2439.6 586.5M2425.2 552.1L2428.3 554.2L2431.2 554.9L2430.7 557.3L2434.3 558.6L2440.2 561.9M2422.7 560.5L2422.7 562.2L2424.9 563.2L2426.1 560.5L2430.0 559.0L2431.2 556.2M2441.1 573.6L2448.3 571.5L2448.8 575.3L2454.2 578.0L2457.0 578.1L2456.4 582.7L2460.2 582.9L2460.7 585.0L2461.6 586.3L2460.4 589.2L2460.9 593.4L2464.5 593.8L2465.0 596.7L2467.0 596.9L2466.5 599.9L2467.9 602.8L2464.6 605.1L2461.4 608.8L2460.4 613.4L2460.0 616.5M2441.1 585.0L2442.8 588.6L2443.3 592.3L2445.0 594.7L2448.4 593.4L2450.0 594.7L2452.7 593.6L2454.2 589.0L2460.4 589.2M2452.7 593.6L2455.6 596.5L2461.4 599.4L2459.7 603.0L2464.1 603.2L2466.5 599.9M2445.0 594.7L2442.8 597.8L2443.1 602.6L2440.7 608.4L2439.7 614.4L2440.2 619.6L2438.5 624.9L2437.2 631.5L2437.3 638.5L2436.8 645.8L2435.1 653.5L2436.8 659.0L2443.0 659.8M2442.6 660.9L2442.6 667.3M2461.4 608.8L2464.3 610.2L2468.6 615.9M2544.9 505.5L2537.5 505.5M2544.9 506.2L2544.9 508.7L2539.2 508.7L2539.2 513.4L2537.5 514.3L2537.5 517.5L2530.7 517.5M2544.9 506.2L2551.5 510.6L2548.6 510.6L2550.3 527.0L2550.7 527.9L2540.9 528.3L2539.2 529.3L2538.9 533.2L2540.1 533.7L2545.2 534.1L2546.0 537.0L2549.5 536.7L2550.3 536.9L2554.9 538.4L2555.1 546.0M2556.3 490.7L2556.6 496.4L2553.7 497.6L2552.9 499.4L2544.9 503.5L2544.9 506.2M2551.5 510.6L2561.7 517.8L2565.2 520.2L2565.3 521.7L2566.9 521.5L2566.9 525.6L2565.7 528.1L2560.0 528.8L2558.5 528.8L2556.3 530.2L2554.6 531.1L2552.4 532.0L2550.3 536.9M2565.2 520.2L2569.9 520.8L2572.5 518.4L2580.2 513.4L2583.9 514.9L2585.3 514.3L2587.0 513.6L2600.7 520.8L2600.7 519.9L2602.4 519.9L2602.4 516.2L2622.8 516.2M2580.2 513.4L2576.8 511.6L2575.9 508.1L2576.6 500.4L2575.2 496.8L2573.9 496.0L2572.5 493.3L2573.9 491.7L2574.4 486.9M2579.3 494.8L2577.3 497.4L2576.8 500.0L2576.6 500.4M2602.4 516.2L2602.4 497.8M2600.7 520.8L2600.7 527.6L2598.8 527.7L2597.2 532.3L2598.1 536.0L2600.1 539.3L2601.5 539.6L2602.7 541.3L2606.5 545.3L2606.6 546.2L2612.3 548.7L2612.6 548.4L2616.9 548.2L2617.7 547.5L2619.9 546.8L2621.0 546.8L2621.1 547.2L2624.7 548.6L2627.1 548.9L2629.3 547.5L2631.2 548.0L2629.7 549.9L2629.7 556.1L2630.5 557.6M2585.3 514.3L2586.2 518.0L2586.8 519.1L2586.2 525.4L2582.7 529.7L2582.9 531.1L2583.9 533.4L2584.6 532.8L2585.5 534.4L2585.3 537.5L2583.4 538.2L2586.2 541.9L2584.4 543.9L2584.8 546.8L2587.3 550.9L2587.2 551.8L2584.4 550.9L2582.4 550.9L2579.0 550.9L2576.4 550.8M2566.9 525.6L2571.1 528.3L2571.6 532.3L2575.1 532.7L2576.8 531.8L2581.0 532.1L2582.9 531.1M2583.9 533.4L2582.4 537.4L2581.4 539.8L2579.8 542.7L2577.6 542.7L2576.4 543.6L2574.9 545.0L2574.4 546.5M2565.7 528.1L2566.0 533.2L2565.8 534.6L2564.3 541.2L2564.3 543.8M2560.0 528.8L2561.4 531.8L2563.5 533.4L2565.8 534.6M2561.2 535.8L2562.4 539.3L2562.4 544.1M2559.7 535.8L2560.6 540.1L2560.6 542.9L2561.7 544.3M2554.9 535.8L2561.2 535.8L2563.5 533.4M2546.9 547.2L2545.5 543.9L2545.2 541.7L2546.0 540.1L2545.5 537.0M2540.1 542.9L2542.1 540.1L2543.7 542.0L2545.2 541.7M2537.0 539.3L2540.1 537.5L2541.6 539.1L2542.1 540.1M2531.2 533.4L2536.3 532.8L2536.3 534.6L2534.1 535.8M2531.0 531.8L2534.1 530.9L2536.1 531.6L2533.2 531.8L2531.0 532.1M2538.9 533.2L2536.3 532.8M2531.5 527.0L2535.0 526.0L2538.9 529.2L2539.2 529.3M2598.1 536.0L2595.5 537.9L2591.4 540.8L2587.9 541.5L2586.2 541.9M2606.5 545.3L2602.9 545.8L2597.9 547.7L2593.0 546.0L2591.4 547.4L2591.4 548.7L2587.3 550.9M2591.4 548.7L2590.1 554.2L2587.3 558.1L2587.0 560.7L2584.3 562.9L2582.1 562.6L2580.2 563.2L2579.8 562.7M2579.0 550.9L2579.0 553.0L2576.1 553.0M2584.4 550.9L2582.2 552.5L2584.4 555.6L2584.3 557.9L2581.0 558.1L2579.5 558.8L2578.6 561.4M2580.5 564.8L2582.2 564.8L2588.0 564.8L2588.7 567.5L2592.1 568.4L2596.9 567.2L2597.2 573.6L2600.7 573.4L2600.7 577.1L2597.2 577.1L2597.2 582.7L2599.6 585.2L2602.7 585.6M2579.8 584.7L2583.6 584.9L2591.3 584.9L2595.5 585.9L2599.6 585.2M2593.8 605.3L2593.8 598.4L2595.5 593.2L2595.5 585.9M2587.9 605.7L2593.8 605.3L2595.0 602.2L2599.0 599.4L2603.4 599.9L2605.8 596.4L2609.9 593.6L2613.1 593.9L2614.1 597.5L2614.1 600.5L2615.7 602.4M2602.7 585.6L2602.9 587.0L2606.6 591.4L2609.9 593.6M2602.7 585.6L2605.8 585.9L2609.0 582.2L2611.6 581.7L2615.8 583.6L2615.7 588.6L2613.1 593.9M2611.6 581.7L2611.2 580.2L2616.4 578.8L2615.5 578.0L2616.9 576.0L2616.5 571.2L2615.8 570.8L2612.6 569.4L2609.0 569.3L2608.2 570.6L2608.7 574.5L2610.6 575.7L2610.6 577.8L2609.2 577.8L2606.1 575.0L2600.7 573.4M2616.4 578.8L2618.6 579.7L2621.0 580.4L2619.9 584.1L2618.2 582.7L2615.8 583.6M2618.8 574.6L2622.8 574.6L2628.6 572.5M2619.3 574.6L2618.8 571.2L2615.8 570.8M2612.3 548.7L2610.9 551.3L2610.2 557.1L2609.2 559.5L2609.7 562.2L2610.4 565.3L2612.3 568.9L2609.0 569.3M2610.2 557.1L2611.8 556.4L2617.6 556.4L2623.9 559.8L2626.6 562.7M2617.6 556.4L2617.7 554.4L2619.4 551.6L2617.7 547.5M2609.2 559.5L2612.3 558.8L2611.8 556.4M2612.3 558.8L2611.6 562.2L2609.7 562.2M2616.9 548.2L2616.0 541.3L2617.9 540.0L2618.2 536.5L2619.4 534.2L2621.5 533.0L2621.8 530.0L2624.4 529.0L2625.4 523.5M2601.5 539.6L2605.8 538.2L2607.5 538.6L2609.2 538.1L2610.9 537.0L2613.1 537.9L2615.0 534.6L2616.4 533.7L2617.6 538.4L2616.0 541.3M2621.8 530.0L2623.9 530.0L2626.3 529.5L2629.3 530.4L2632.1 533.2L2633.3 532.8M2632.1 533.2L2630.9 534.9L2632.9 536.0L2633.6 534.9M2632.9 536.0L2634.1 538.6L2639.9 541.0L2641.6 541.0L2636.5 546.2L2633.1 546.8L2631.2 548.0M2639.9 541.0L2643.3 537.9L2643.3 535.3M2544.7 475.8L2545.7 475.6L2548.4 475.8L2549.1 476.5L2547.9 477.9L2547.8 480.8L2546.9 481.0L2547.8 484.1L2547.1 486.2M2556.6 472.3L2560.9 473.7L2562.6 474.4L2565.2 474.7M2564.0 452.9L2566.9 455.9L2569.6 457.2L2570.6 457.2L2573.7 458.5L2572.7 462.1L2569.9 465.6L2571.3 466.3L2571.6 468.5L2571.5 470.2L2572.5 471.4M2565.5 452.1L2567.0 452.1L2569.8 453.2L2569.9 453.7L2570.1 455.6L2569.6 457.2M2569.9 453.7L2569.9 451.0L2571.6 449.9L2572.0 447.1M2572.7 462.1L2574.4 461.6L2576.1 462.3L2577.6 463.9L2577.4 464.8L2575.1 466.6L2574.0 465.1L2571.6 466.3M2576.1 462.3L2577.6 462.1L2581.9 462.3L2581.5 460.8L2583.3 459.0L2585.3 458.5L2588.5 459.3L2588.9 461.1L2587.2 463.9L2584.6 465.1L2583.1 464.8L2580.4 463.6L2577.4 464.1M2583.1 464.8L2582.6 465.6L2583.1 467.1M2570.6 457.2L2573.7 458.5M2574.4 442.1L2576.6 442.4M2583.9 445.1L2584.3 447.9L2584.8 450.2L2585.3 453.2L2584.1 453.2L2580.5 455.1L2581.0 457.2L2583.3 459.0M2585.3 453.2L2588.5 454.8L2591.8 457.2L2592.0 457.2L2598.1 458.2L2598.8 456.1L2600.7 454.3L2600.0 451.8L2599.8 448.8L2600.5 444.8L2598.6 443.6L2593.5 443.6M2588.5 459.3L2590.4 458.5L2592.0 457.2M2588.9 461.1L2591.8 461.6L2594.7 459.8L2597.4 460.1L2598.1 458.2M2587.2 463.9L2588.0 464.8L2589.7 466.3L2591.8 466.3L2594.3 465.6L2595.9 465.1L2598.8 461.1L2597.4 460.1M2583.1 467.1L2585.8 467.3L2588.0 464.8M2591.8 466.3L2592.1 468.8L2587.0 468.0L2586.7 469.0L2589.7 473.3L2591.3 474.4M2592.1 468.8L2592.8 468.8L2592.5 472.1L2591.3 474.4L2592.8 475.8M2592.5 472.1L2594.3 473.7L2594.9 475.8L2594.7 477.9L2595.5 478.3L2594.3 480.5M2592.8 475.8L2593.8 474.2L2594.9 475.8M2594.3 465.6L2595.2 466.6L2596.4 468.0L2598.3 470.4L2597.9 473.7L2597.9 474.9L2594.9 475.8M2594.7 477.9L2598.8 477.2L2601.5 476.9L2604.6 476.3L2605.1 477.2L2604.1 478.5M2597.9 474.9L2598.8 477.2M2604.6 476.3L2607.5 475.6M2598.3 470.4L2599.0 471.4L2603.2 471.6L2605.8 470.7L2608.5 471.6M2598.8 461.1L2602.2 461.8L2605.1 460.3L2607.8 464.6L2607.8 467.3L2610.4 468.0M2605.1 460.3L2607.1 460.1L2609.5 461.1L2611.1 465.1L2609.0 466.1L2607.8 467.3M2600.7 454.3L2602.4 450.7L2606.6 451.5L2611.9 452.4L2614.0 450.2L2617.7 449.9L2620.3 454.8L2624.6 456.1L2628.1 456.9L2627.5 461.6L2624.9 463.4M2600.0 451.8L2602.4 450.7M2599.8 448.8L2600.5 444.8L2603.7 442.1L2605.1 439.7L2607.8 438.2L2612.4 440.0L2612.3 442.4L2615.5 446.2L2614.0 450.2M2598.6 443.6L2598.6 441.8L2596.1 441.2M2598.6 441.8L2603.7 442.1M2605.1 439.7L2602.2 437.6L2595.7 438.5M2607.8 438.2L2607.0 434.5L2602.9 432.6L2601.2 432.9M2607.0 434.5L2606.5 429.9L2607.7 428.0M2609.0 389.4L2608.2 390.4L2610.9 395.9L2609.2 399.4L2611.1 404.5L2610.2 407.8L2613.6 415.6L2607.1 423.9M2594.7 389.4L2600.1 395.0L2600.0 401.6L2600.8 404.1M2609.0 389.4L2603.7 389.9L2603.7 391.8L2599.0 391.3L2594.7 389.4L2590.6 392.2L2588.2 394.5L2584.4 402.9L2583.6 411.4L2580.4 412.9L2580.5 422.5L2581.2 424.5L2579.8 426.6L2578.6 429.0M2609.0 389.4L2612.3 386.0M2547.1 444.5L2548.9 444.5M2545.7 443.3L2547.1 444.5M2547.4 441.5L2545.7 443.3M2604.6 476.3L2605.1 477.2M2630.5 476.7L2632.7 476.5L2633.9 477.6L2636.2 480.8L2635.5 484.5L2636.2 486.2L2632.1 486.4L2629.2 486.4L2625.9 487.3L2622.3 487.3L2621.5 489.2M2630.5 476.7L2633.8 474.2L2634.5 474.2L2638.9 475.8L2639.1 477.6L2642.6 476.0M2633.9 477.6L2636.5 477.2L2639.1 477.6M2636.2 480.8L2639.1 482.5L2641.6 480.8L2643.2 483.6M2636.5 477.2L2639.1 482.5M2628.0 463.6L2628.1 456.9M2627.8 472.3L2634.5 474.2M2638.9 475.8L2641.4 477.4L2642.6 476.0M2639.9 461.1L2639.1 460.1L2640.6 455.1L2642.8 454.3L2646.4 451.3L2653.6 454.0L2659.9 453.2L2664.5 453.7L2662.1 444.8L2671.5 443.0L2677.5 440.6L2681.2 444.2L2685.1 444.8L2690.8 443.6L2696.2 453.7L2702.0 453.2L2705.3 456.9L2708.7 458.0M2708.7 458.0L2706.5 459.8L2705.6 463.4L2701.4 463.1L2700.2 467.3L2696.2 468.8L2696.6 475.1L2693.7 476.5L2690.9 477.9L2685.3 481.2L2685.7 483.6L2687.5 486.2M2708.7 458.0L2709.9 459.3L2713.3 461.1L2715.0 464.8L2714.8 468.0L2722.5 470.2L2724.2 474.0L2730.4 474.2L2738.9 476.5L2747.4 474.2L2750.5 471.6L2750.7 468.5L2756.0 467.5L2758.9 465.3L2764.3 464.3L2760.7 461.8L2757.0 461.3L2758.9 456.4M2708.7 458.0L2712.8 455.9L2717.4 453.7L2725.8 456.4L2727.5 450.4L2734.1 452.4L2735.5 455.1L2740.6 454.8L2747.4 458.0L2754.3 455.1L2758.9 456.4L2763.3 454.3L2765.9 446.8L2770.5 446.2L2774.7 448.2L2777.3 456.4L2782.6 458.8L2783.3 461.8L2789.6 460.1L2786.7 468.5L2783.8 470.9L2783.3 473.5L2782.6 474.7M2782.6 474.7L2781.1 474.7L2778.2 475.6L2778.5 476.9L2776.3 476.0L2772.0 480.1M2774.9 485.1L2778.8 483.2M2651.7 486.0L2653.6 484.5L2657.0 484.1L2660.9 485.6L2664.1 487.5L2664.1 489.6L2663.0 492.9L2663.5 498.0L2665.2 499.4L2663.6 501.4L2664.8 502.9L2666.9 504.5L2667.6 507.6L2665.2 508.3L2664.8 510.2M2641.6 501.0L2641.1 499.0L2638.2 495.0L2637.2 492.9L2638.5 490.4L2637.4 488.8L2636.2 486.2M2639.1 502.8L2640.6 502.9L2641.1 501.0L2641.6 501.0M2639.1 502.8L2636.0 502.6L2628.6 497.2L2626.6 496.6L2625.9 494.2L2629.7 492.1L2630.2 487.7L2632.1 486.4M2626.6 496.6L2622.8 498.0L2624.6 500.0L2623.7 501.0L2621.3 502.6L2619.4 502.2M2620.5 495.6L2620.5 498.0L2619.4 501.8M2625.9 494.2L2622.5 496.4L2620.8 495.6L2620.5 494.4L2622.2 492.5L2621.1 491.7M2619.6 494.8L2620.5 494.4M2648.4 521.7L2653.6 519.9L2654.8 516.2L2653.9 514.9L2649.5 514.5L2647.8 512.3M2654.8 516.2L2655.3 512.5L2656.0 510.8M2648.4 521.7L2643.0 523.1L2638.9 524.9L2635.1 524.5L2633.8 526.5L2632.7 526.3M2648.4 521.7L2650.3 525.8M2639.1 502.8L2641.1 503.9L2642.3 503.9M2664.1 489.6L2667.2 490.0L2669.8 488.1L2673.2 485.8L2675.4 486.2L2678.0 486.4L2679.5 485.4L2681.7 484.7L2681.9 487.3L2687.5 486.2L2685.7 483.6M2651.7 486.0L2651.5 482.3M2649.3 476.0L2653.1 475.6L2655.3 477.2L2657.0 477.2L2659.7 474.0L2662.1 475.1L2662.3 476.9L2665.3 477.6L2669.6 482.3L2673.2 484.5L2673.2 485.8M2655.3 468.5L2659.7 467.1L2663.8 470.0L2670.5 471.6L2672.5 473.3L2672.3 475.6L2675.8 477.9L2677.5 476.9L2680.0 475.6L2680.9 474.9L2685.1 474.7L2686.3 472.8L2694.5 473.7L2696.6 475.1M2655.3 468.5L2655.3 477.2M2680.0 475.6L2682.1 476.9L2684.6 478.3L2682.6 479.4L2680.0 479.4L2680.7 479.7L2678.0 478.3L2677.5 476.9M2675.4 486.2L2676.4 484.1L2675.2 481.0L2678.0 478.3M2680.0 479.4L2678.3 481.0L2685.3 481.2M2687.5 486.2L2689.1 487.3L2692.5 489.8L2694.4 492.1L2694.0 495.0L2693.5 496.0L2694.5 498.8L2698.1 500.6L2696.4 503.3L2701.9 506.0L2706.0 507.4L2710.1 507.8L2710.1 505.1L2711.3 504.7L2711.6 506.2L2716.7 507.0L2716.9 505.3L2720.1 502.9L2723.7 502.2L2725.8 504.5L2725.2 505.5L2722.2 508.7L2720.5 512.7L2718.9 512.5L2719.1 516.2L2717.7 517.5L2717.2 518.6M2698.1 500.6L2703.1 503.1L2706.5 504.9L2710.1 505.1M2711.3 504.7L2716.2 505.3L2716.9 505.3M2710.1 507.8L2710.1 511.6L2711.6 516.2L2711.6 516.7M2710.1 507.8L2713.0 508.3L2713.0 510.0L2716.7 510.2L2717.4 510.6L2715.3 512.3L2715.3 513.4L2716.2 514.3L2717.2 513.0L2717.7 517.5M2663.6 501.4L2666.4 502.2L2672.9 501.2L2673.0 499.2L2678.0 497.2L2678.0 495.0L2679.7 494.2L2679.2 492.9L2681.0 492.1L2681.9 487.3M2687.5 486.2L2686.8 491.3L2686.8 496.0L2685.8 500.2L2680.9 505.1L2679.8 504.9L2678.3 507.2L2679.5 509.3L2680.9 511.7L2677.1 511.9L2676.1 513.2M2694.0 495.0L2695.4 495.6L2694.4 492.1M2725.8 504.5L2728.1 505.7L2728.0 512.3L2726.1 512.7L2729.5 514.5L2729.0 516.0L2732.4 517.7L2733.3 515.3L2734.0 515.5L2739.4 513.8L2741.6 514.5L2741.8 516.2L2744.0 516.9M2732.4 517.7L2730.5 519.3L2731.2 520.8L2732.4 520.6L2732.1 524.4L2734.0 523.1L2737.2 522.9L2738.4 524.5L2739.9 527.6L2739.8 529.9L2743.2 529.3L2743.3 528.6L2742.3 526.0L2739.2 522.2L2737.0 521.1L2738.7 519.5L2734.1 515.5M2729.0 516.0L2728.5 520.2L2726.6 522.6L2728.5 526.3L2727.3 528.6L2729.0 531.1L2729.0 534.6L2728.1 537.2M2730.5 519.3L2729.5 519.3L2728.5 520.2M2739.8 529.9L2734.6 530.2L2735.3 534.6M2743.2 529.3L2743.3 533.5L2740.3 534.8L2740.9 536.2L2738.0 536.9M2730.5 543.8L2732.2 545.0L2734.0 544.1M2746.8 551.3L2748.3 553.2L2750.8 552.3L2753.7 552.5L2755.6 550.9L2757.0 547.5L2760.4 547.5M2754.4 546.8L2756.0 546.2L2756.5 547.4M2800.3 559.1L2800.3 570.3M2771.3 570.6L2773.0 570.6L2773.0 569.4" fill="none" stroke="#d6c3cf" stroke-opacity="0.7" stroke-width="0.75" stroke-linejoin="round"/><path d="M1378.7 476.7L1380.1 472.1L1381.6 468.0L1383.5 464.8L1385.5 465.6L1388.1 466.3L1387.2 469.5L1389.8 469.5L1393.2 468.0L1390.6 465.6L1394.9 463.6L1397.5 463.1L1395.8 466.1L1394.9 468.5L1397.5 471.4L1401.7 474.4L1401.7 476.7L1398.3 477.9L1394.0 477.4L1390.6 475.6L1387.2 475.6L1383.8 477.4L1380.4 477.6ZM1414.5 464.8L1417.9 463.6L1421.4 464.1L1421.4 467.8L1417.9 469.0L1417.1 470.9L1420.5 473.7L1422.2 477.9L1423.1 481.2L1422.7 486.0L1419.6 487.1L1416.2 485.8L1414.5 483.4L1415.0 479.4L1412.8 476.0L1411.6 472.1L1411.1 468.5ZM1430.7 464.8L1435.0 464.8L1435.0 468.5L1431.6 470.4L1430.7 468.0ZM1508.1 451.5L1511.0 449.1L1515.2 444.8L1518.1 439.7L1517.3 439.4L1514.4 444.8L1511.0 447.9L1508.4 450.7ZM1173.9 464.1L1178.2 461.1L1181.6 459.3L1185.8 461.6L1186.3 464.8L1182.4 464.8L1179.0 464.1L1176.4 464.6ZM1181.1 475.6L1183.6 476.0L1183.8 472.1L1185.8 466.8L1183.3 466.6L1181.1 469.7ZM1186.7 466.1L1191.0 466.1L1194.4 468.5L1193.5 469.7L1191.5 472.8L1190.1 472.8L1188.4 470.9L1188.7 468.0ZM1188.6 476.3L1192.7 476.5L1196.1 474.0L1195.2 473.5L1191.0 474.9L1188.9 475.1ZM1194.9 472.6L1199.5 472.6L1200.9 470.7L1198.6 470.9L1195.7 471.4ZM1161.9 454.5L1166.2 454.8L1165.4 449.1L1162.8 445.4L1161.4 449.1ZM1117.6 407.4L1124.4 407.4L1129.5 402.4L1126.1 399.0L1121.0 401.2L1117.6 403.3ZM1131.2 422.5L1136.3 422.5L1143.2 416.3L1139.8 415.9L1134.6 418.9L1131.2 420.7ZM1140.6 429.9L1144.9 428.0L1150.0 428.3L1144.9 429.3ZM1385.0 554.2L1388.9 554.2L1388.9 558.5L1386.9 559.1L1385.0 557.3ZM1380.7 560.7L1381.8 562.4L1383.5 569.3L1382.8 569.6L1380.9 565.0L1380.4 562.4ZM1388.9 571.2L1390.3 573.6L1391.0 578.5L1390.0 579.2L1389.4 575.3L1388.8 572.7ZM1382.4 425.9L1386.9 425.2L1386.9 421.7L1383.5 420.0L1381.9 422.8ZM1389.8 422.5L1392.7 421.7L1391.5 417.0L1389.8 417.8ZM1456.3 468.5L1460.6 465.3L1465.7 464.6L1460.6 466.1L1458.0 466.6ZM1211.4 581.1L1213.1 581.8L1213.1 583.3L1211.8 582.7ZM1353.9 532.3L1355.8 532.1L1355.6 533.0L1354.1 533.0ZM1993.1 476.7L1994.5 472.1L1996.0 468.0L1997.9 464.8L1999.9 465.6L2002.5 466.3L2001.6 469.5L2004.2 469.5L2007.6 468.0L2005.0 465.6L2009.3 463.6L2011.9 463.1L2010.2 466.1L2009.3 468.5L2011.9 471.4L2016.1 474.4L2016.1 476.7L2012.7 477.9L2008.4 477.4L2005.0 475.6L2001.6 475.6L1998.2 477.4L1994.8 477.6ZM2028.9 464.8L2032.3 463.6L2035.8 464.1L2035.8 467.8L2032.3 469.0L2031.5 470.9L2034.9 473.7L2036.6 477.9L2037.5 481.2L2037.1 486.0L2034.0 487.1L2030.6 485.8L2028.9 483.4L2029.4 479.4L2027.2 476.0L2026.0 472.1L2025.5 468.5ZM2045.1 464.8L2049.4 464.8L2049.4 468.5L2046.0 470.4L2045.1 468.0ZM2122.5 451.5L2125.4 449.1L2129.6 444.8L2132.5 439.7L2131.7 439.4L2128.8 444.8L2125.4 447.9L2122.8 450.7ZM1788.3 464.1L1792.6 461.1L1796.0 459.3L1800.2 461.6L1800.7 464.8L1796.8 464.8L1793.4 464.1L1790.8 464.6ZM1795.5 475.6L1798.0 476.0L1798.2 472.1L1800.2 466.8L1797.7 466.6L1795.5 469.7ZM1801.1 466.1L1805.4 466.1L1808.8 468.5L1807.9 469.7L1805.9 472.8L1804.5 472.8L1802.8 470.9L1803.1 468.0ZM1803.0 476.3L1807.1 476.5L1810.5 474.0L1809.6 473.5L1805.4 474.9L1803.3 475.1ZM1809.3 472.6L1813.9 472.6L1815.3 470.7L1813.0 470.9L1810.1 471.4ZM1776.3 454.5L1780.6 454.8L1779.8 449.1L1777.2 445.4L1775.8 449.1ZM1732.0 407.4L1738.8 407.4L1743.9 402.4L1740.5 399.0L1735.4 401.2L1732.0 403.3ZM1745.6 422.5L1750.7 422.5L1757.6 416.3L1754.2 415.9L1749.0 418.9L1745.6 420.7ZM1755.0 429.9L1759.3 428.0L1764.4 428.3L1759.3 429.3ZM1999.4 554.2L2003.3 554.2L2003.3 558.5L2001.3 559.1L1999.4 557.3ZM1995.1 560.7L1996.2 562.4L1997.9 569.3L1997.2 569.6L1995.3 565.0L1994.8 562.4ZM2003.3 571.2L2004.7 573.6L2005.4 578.5L2004.4 579.2L2003.8 575.3L2003.2 572.7ZM1996.8 425.9L2001.3 425.2L2001.3 421.7L1997.9 420.0L1996.3 422.8ZM2004.2 422.5L2007.1 421.7L2005.9 417.0L2004.2 417.8ZM2070.7 468.5L2075.0 465.3L2080.1 464.6L2075.0 466.1L2072.4 466.6ZM1825.8 581.1L1827.5 581.8L1827.5 583.3L1826.2 582.7ZM1968.3 532.3L1970.2 532.1L1970.0 533.0L1968.5 533.0ZM2607.5 476.7L2608.9 472.1L2610.4 468.0L2612.3 464.8L2614.3 465.6L2616.9 466.3L2616.0 469.5L2618.6 469.5L2622.0 468.0L2619.4 465.6L2623.7 463.6L2626.3 463.1L2624.6 466.1L2623.7 468.5L2626.3 471.4L2630.5 474.4L2630.5 476.7L2627.1 477.9L2622.8 477.4L2619.4 475.6L2616.0 475.6L2612.6 477.4L2609.2 477.6ZM2643.3 464.8L2646.7 463.6L2650.2 464.1L2650.2 467.8L2646.7 469.0L2645.9 470.9L2649.3 473.7L2651.0 477.9L2651.9 481.2L2651.5 486.0L2648.4 487.1L2645.0 485.8L2643.3 483.4L2643.8 479.4L2641.6 476.0L2640.4 472.1L2639.9 468.5ZM2659.5 464.8L2663.8 464.8L2663.8 468.5L2660.4 470.4L2659.5 468.0ZM2736.9 451.5L2739.8 449.1L2744.0 444.8L2746.9 439.7L2746.1 439.4L2743.2 444.8L2739.8 447.9L2737.2 450.7ZM2402.7 464.1L2407.0 461.1L2410.4 459.3L2414.6 461.6L2415.1 464.8L2411.2 464.8L2407.8 464.1L2405.2 464.6ZM2409.9 475.6L2412.4 476.0L2412.6 472.1L2414.6 466.8L2412.1 466.6L2409.9 469.7ZM2415.5 466.1L2419.8 466.1L2423.2 468.5L2422.3 469.7L2420.3 472.8L2418.9 472.8L2417.2 470.9L2417.5 468.0ZM2417.4 476.3L2421.5 476.5L2424.9 474.0L2424.0 473.5L2419.8 474.9L2417.7 475.1ZM2423.7 472.6L2428.3 472.6L2429.7 470.7L2427.4 470.9L2424.5 471.4ZM2390.7 454.5L2395.0 454.8L2394.2 449.1L2391.6 445.4L2390.2 449.1ZM2346.4 407.4L2353.2 407.4L2358.3 402.4L2354.9 399.0L2349.8 401.2L2346.4 403.3ZM2360.0 422.5L2365.1 422.5L2372.0 416.3L2368.6 415.9L2363.4 418.9L2360.0 420.7ZM2369.4 429.9L2373.7 428.0L2378.8 428.3L2373.7 429.3ZM2613.8 554.2L2617.7 554.2L2617.7 558.5L2615.7 559.1L2613.8 557.3ZM2609.5 560.7L2610.6 562.4L2612.3 569.3L2611.6 569.6L2609.7 565.0L2609.2 562.4ZM2617.7 571.2L2619.1 573.6L2619.8 578.5L2618.8 579.2L2618.2 575.3L2617.6 572.7ZM2611.2 425.9L2615.7 425.2L2615.7 421.7L2612.3 420.0L2610.7 422.8ZM2618.6 422.5L2621.5 421.7L2620.3 417.0L2618.6 417.8ZM2685.1 468.5L2689.4 465.3L2694.5 464.6L2689.4 466.1L2686.8 466.6ZM2440.2 581.1L2441.9 581.8L2441.9 583.3L2440.6 582.7ZM2582.7 532.3L2584.6 532.1L2584.4 533.0L2582.9 533.0Z" fill="#aad3df"/><circle cx="1778.2" cy="521.7" r="14.6" fill="#c2185b" fill-opacity="0.22" stroke="#ad1650" stroke-opacity="0.92" stroke-width="2.6"/><circle cx="1778.6" cy="484.9" r="12.8" fill="#c2185b" fill-opacity="0.22" stroke="#ad1650" stroke-opacity="0.92" stroke-width="2.6"/><circle cx="1803.2" cy="480.6" r="13.8" fill="#c2185b" fill-opacity="0.22" stroke="#ad1650" stroke-opacity="0.92" stroke-width="2.6"/><circle cx="1821.2" cy="467.3" r="12.1" fill="#c2185b" fill-opacity="0.22" stroke="#ad1650" stroke-opacity="0.92" stroke-width="2.6"/><circle cx="1814.6" cy="483.8" r="15.6" fill="#c2185b" fill-opacity="0.22" stroke="#ad1650" stroke-opacity="0.92" stroke-width="2.6"/><circle cx="1816.5" cy="483.5" r="14.3" fill="#c2185b" fill-opacity="0.22" stroke="#ad1650" stroke-opacity="0.92" stroke-width="2.6"/><circle cx="1819" cy="482" r="14.8" fill="#c2185b" fill-opacity="0.22" stroke="#ad1650" stroke-opacity="0.92" stroke-width="2.6"/><circle cx="1821.5" cy="480" r="13.3" fill="#c2185b" fill-opacity="0.22" stroke="#ad1650" stroke-opacity="0.92" stroke-width="2.6"/><circle cx="1816" cy="486" r="12.8" fill="#c2185b" fill-opacity="0.22" stroke="#ad1650" stroke-opacity="0.92" stroke-width="2.6"/><circle cx="1818" cy="484" r="13.5" fill="#c2185b" fill-opacity="0.22" stroke="#ad1650" stroke-opacity="0.92" stroke-width="2.6"/><circle cx="1947.7" cy="451.4" r="24.3" fill="#c2185b" fill-opacity="0.22" stroke="#ad1650" stroke-opacity="0.92" stroke-width="2.6"/><circle cx="1951" cy="460.3" r="19" fill="#c2185b" fill-opacity="0.22" stroke="#ad1650" stroke-opacity="0.92" stroke-width="2.6"/><circle cx="1950.5" cy="459.5" r="18.4" fill="#c2185b" fill-opacity="0.22" stroke="#ad1650" stroke-opacity="0.92" stroke-width="2.6"/><circle cx="1943.6" cy="452.4" r="12.7" fill="#c2185b" fill-opacity="0.22" stroke="#ad1650" stroke-opacity="0.92" stroke-width="2.6"/><circle cx="1944.2" cy="452.8" r="12.2" fill="#c2185b" fill-opacity="0.22" stroke="#ad1650" stroke-opacity="0.92" stroke-width="2.6"/><circle cx="2011.5" cy="439.5" r="18.3" fill="#c2185b" fill-opacity="0.22" stroke="#ad1650" stroke-opacity="0.92" stroke-width="2.6"/><circle cx="2168.4" cy="489.3" r="13.2" fill="#c2185b" fill-opacity="0.22" stroke="#ad1650" stroke-opacity="0.92" stroke-width="2.6"/><circle cx="2126.1" cy="499.4" r="13.4" fill="#c2185b" fill-opacity="0.22" stroke="#ad1650" stroke-opacity="0.92" stroke-width="2.6"/><circle cx="2129.7" cy="527.4" r="13.2" fill="#c2185b" fill-opacity="0.22" stroke="#ad1650" stroke-opacity="0.92" stroke-width="2.6"/><defs><filter id="zs" x="-30%" y="-20%" width="160%" height="140%"><feGaussianBlur stdDeviation="2.2"/></filter></defs><rect x="1363" y="352.7" width="30.2" height="62.2" rx="3.5" fill="rgba(0,0,0,0.6)" filter="url(#zs)"/><rect x="1363" y="351.2" width="30.2" height="62.4" rx="3.5" fill="#fff"/><rect x="1363" y="381.8" width="30.2" height="1" fill="#ccc"/><text x="1378.6" y="375.8" text-anchor="middle" font-size="23" font-weight="bold" fill="#111">+</text><text x="1378.6" y="406.8" text-anchor="middle" font-size="25" font-weight="bold" fill="#111">−</text><rect x="2296.6" y="754.6" width="247" height="18.6" fill="rgba(255,255,255,0.72)"/><text x="2302.3" y="768.5" font-size="13.55" fill="#333"><tspan fill="#0078a8">Leaflet</tspan> | © <tspan fill="#0078a8">OpenStreetMap</tspan> contributors</text></svg>
<div class="th" style="left:1366.3px;top:888px;width:739.5px;height:30px;line-height:32.2px"><span style="left:6.2px">source_reference</span><span style="left:279.2px">source_geo_name</span><span style="left:616.5px">Count</span></div>
<div class="tr" style="left:1366.3px;top:918px;width:723.7px;height:40.150000000000006px;line-height:49.650000000000006px;"><span style="left:6.2px">140.82.46.136</span><span style="left:279.2px">Piscataway, US</span><span style="left:616.5px">159</span></div>
<div class="tr" style="left:1366.3px;top:958.15px;width:723.7px;height:37.45px;line-height:45.85px;"><span style="left:6.2px">3.22.60.215</span><span style="left:279.2px">Columbus, US</span><span style="left:616.5px">148</span></div>
<div class="tr" style="left:1366.3px;top:995.6px;width:723.7px;height:37.45px;line-height:45.85px;"><span style="left:6.2px">158.51.39.132</span><span style="left:279.2px">Ashburn, US</span><span style="left:616.5px">130</span></div>
<div class="tr" style="left:1366.3px;top:1033.05px;width:723.7px;height:37.45px;line-height:45.85px;"><span style="left:6.2px">200.92.202.14</span><span style="left:279.2px">Puebla City, MX</span><span style="left:616.5px">121</span></div>
<div class="tr" style="left:1366.3px;top:1070.5px;width:723.7px;height:37.45px;line-height:45.85px;"><span style="left:6.2px">14.46.112.201</span><span style="left:279.2px">Gumi, KR</span><span style="left:616.5px">103</span></div>
<div class="tr" style="left:1366.3px;top:1107.95px;width:723.7px;height:37.45px;line-height:45.85px;"><span style="left:6.2px">117.139.87.102</span><span style="left:279.2px">Chengdu, CN</span><span style="left:616.5px">78</span></div>
<div class="tr" style="left:1366.3px;top:1145.4px;width:723.7px;height:37.45px;line-height:45.85px;"><span style="left:6.2px">212.113.218.98</span><span style="left:279.2px">Bradford-on-Avon, GB</span><span style="left:616.5px">76</span></div>
<div class="tr" style="left:1366.3px;top:1182.8500000000001px;width:723.7px;height:37.45px;line-height:45.85px;"><span style="left:6.2px">54.81.124.43</span><span style="left:279.2px">Ashburn, US</span><span style="left:616.5px">57</span></div>
<div class="tr" style="left:1366.3px;top:1220.3000000000002px;width:723.7px;height:37.45px;line-height:45.85px;"><span style="left:6.2px">52.149.147.185</span><span style="left:279.2px">Washington, US</span><span style="left:616.5px">53</span></div>
<div class="tr" style="left:1366.3px;top:1257.7500000000002px;width:723.7px;height:37.45px;line-height:45.85px;"><span style="left:6.2px">52.170.91.212</span><span style="left:279.2px">Washington, US</span><span style="left:616.5px">53</span></div>
<div class="abs" style="left:2106px;top:869px;width:17.5px;height:435px;background:#fafafa"></div>
<div class="abs" style="left:2110.3px;top:873.5px;width:10px;height:269.5px;background:#c1c1c1;border-radius:5px"></div>
<div class="th" style="left:2202px;top:888px;width:339.7px;height:30px;line-height:32.2px"><span style="left:6.3px">target_user_name</span><span style="left:194px">Locked Count</span></div>
<div class="tr" style="left:2202px;top:918px;width:339.7px;height:40.150000000000006px;line-height:49.650000000000006px;"><span style="left:6.3px">administrator</span><span style="left:194px">135</span></div>
<div class="tr" style="left:2202px;top:958.15px;width:339.7px;height:37.45px;line-height:45.85px;border-bottom:none;"><span style="left:6.3px">admin</span><span style="left:194px">25</span></div>
<div class="th" style="left:111.2px;top:1419.6px;width:757.5px;height:30px;line-height:32.2px;box-shadow:none"><span style="left:522px">failure</span><span style="left:634px">success</span></div>
<div class="th" style="left:111.2px;top:1452.3999999999999px;width:757.5px;height:30px;line-height:32.2px"><span style="left:6.1px">destination_reference</span><span style="left:413px">Count</span><span style="left:522px">Count</span><span style="left:634px">Count</span></div>
<div class="tr" style="left:111.2px;top:1482.3999999999999px;width:757.5px;height:40.150000000000006px;line-height:49.650000000000006px;"><span style="left:6.1px">grayloglabdc1.grayloglab.local</span><span style="left:413px">4597</span><span style="left:522px">29</span><span style="left:634px">4568</span></div>
<div class="tr" style="left:111.2px;top:1522.55px;width:757.5px;height:37.45px;line-height:45.85px;"><span style="left:6.1px">jumpbox</span><span style="left:413px">2887</span><span style="left:522px">2810</span><span style="left:634px">77</span></div>
<div class="tr" style="left:111.2px;top:1560.0px;width:757.5px;height:37.45px;line-height:45.85px;border-bottom:none;"><span style="left:6.1px">graylogmember1.grayloglab.local</span><span style="left:413px">71</span><span style="left:522px">3</span><span style="left:634px">68</span></div>
<div class="th" style="left:947px;top:1419.6px;width:757.5px;height:30px;line-height:32.2px"><span style="left:6.2px">windows_logon_type_description</span><span style="left:601.7px">Count</span></div>
<div class="tr" style="left:947px;top:1449.6px;width:757.5px;height:40.150000000000006px;line-height:49.650000000000006px;"><span style="left:6.2px">Network logon</span><span style="left:601.7px">4493</span></div>
<div class="tr" style="left:947px;top:1489.75px;width:757.5px;height:37.45px;line-height:45.85px;"><span style="left:6.2px">Service logon</span><span style="left:601.7px">181</span></div>
<div class="tr" style="left:947px;top:1527.2px;width:757.5px;height:37.45px;line-height:45.85px;"><span style="left:6.2px">Interactive logon</span><span style="left:601.7px">24</span></div>
<div class="tr" style="left:947px;top:1564.65px;width:757.5px;height:37.45px;line-height:45.85px;"><span style="left:6.2px">RemoteInteractive logon</span><span style="left:601.7px">14</span></div>
<div class="tr" style="left:947px;top:1602.1000000000001px;width:757.5px;height:37.45px;line-height:45.85px;border-bottom:none;"><span style="left:6.2px">System</span><span style="left:601.7px">1</span></div>
<div class="th" style="left:1784.4px;top:1419.6px;width:757.5px;height:30px;line-height:32.2px"><span style="left:6.3px">user_name</span><span style="left:292.3px">Count</span><span style="left:423px">Unique Logon Targets</span></div>
<div class="tr" style="left:1784.4px;top:1449.6px;width:757.5px;height:40.150000000000006px;line-height:49.650000000000006px;"><span style="left:6.3px">administrator</span><span style="left:292.3px">4</span><span style="left:423px">1</span></div>
<div class="tr" style="left:1784.4px;top:1489.75px;width:757.5px;height:37.45px;line-height:45.85px;"><span style="left:6.3px">michael.wenthold</span><span style="left:292.3px">8</span><span style="left:423px">1</span></div>
<div class="tr" style="left:1784.4px;top:1527.2px;width:757.5px;height:37.45px;line-height:45.85px;border-bottom:none;"><span style="left:6.3px">user1</span><span style="left:292.3px">2</span><span style="left:423px">1</span></div>
<div class="abs" style="left:-4px;top:1749px;width:448px;height:20px;background:#3a3b3d;border-radius:0 6px 0 0;z-index:40;color:#e8e8e8;font-size:15.5px;line-height:18px;padding:4.5px 0 0 9px;white-space:nowrap;overflow:hidden">3.122.37.192:9000/dashboards/5ebdb7f2148217715db322d5#</div>
</body></html>
